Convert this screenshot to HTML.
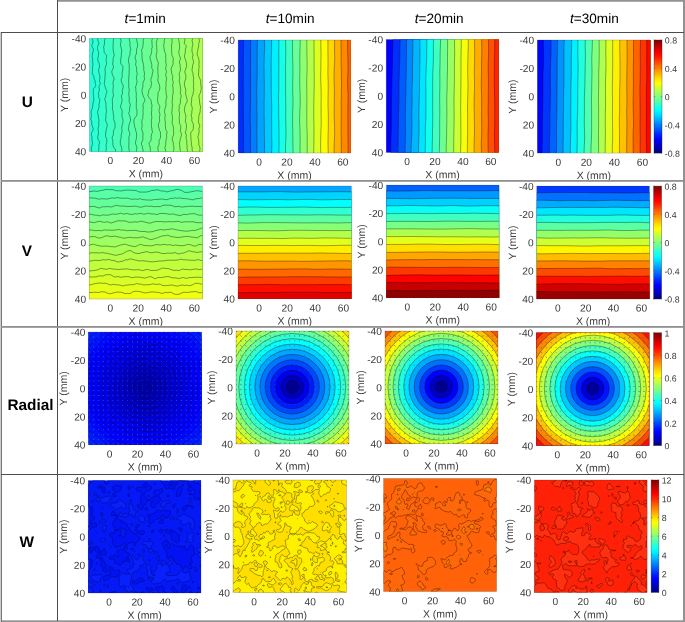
<!DOCTYPE html>
<html><head><meta charset="utf-8"><title>Displacement fields</title>
<style>html,body{margin:0;padding:0;background:#fff}body{width:685px;height:622px;overflow:hidden;font-family:"Liberation Sans",Arial,sans-serif}svg{display:block;text-rendering:geometricPrecision}</style>
</head><body>
<svg width="685" height="622" viewBox="0 0 685 622" font-family="'Liberation Sans', Arial, sans-serif">
<defs>
<clipPath id="c00"><rect x="0" y="0" width="113" height="113.1"/></clipPath>
<clipPath id="c01"><rect x="0" y="0" width="112.7" height="113"/></clipPath>
<clipPath id="c02"><rect x="0" y="0" width="112.6" height="113.1"/></clipPath>
<clipPath id="c03"><rect x="0" y="0" width="113.1" height="113.1"/></clipPath>
<clipPath id="c10"><rect x="0" y="0" width="113.1" height="113"/></clipPath>
<clipPath id="c11"><rect x="0" y="0" width="113.4" height="112.8"/></clipPath>
<clipPath id="c12"><rect x="0" y="0" width="112.7" height="112.7"/></clipPath>
<clipPath id="c13"><rect x="0" y="0" width="112.6" height="112.9"/></clipPath>
<clipPath id="c20"><rect x="0" y="0" width="112.8" height="112.8"/></clipPath>
<clipPath id="c21"><rect x="0" y="0" width="113" height="113"/></clipPath>
<clipPath id="c22"><rect x="0" y="0" width="113" height="112.8"/></clipPath>
<clipPath id="c23"><rect x="0" y="0" width="112.8" height="112.8"/></clipPath>
<clipPath id="c30"><rect x="0" y="0" width="112.8" height="112.6"/></clipPath>
<clipPath id="c31"><rect x="0" y="0" width="113.4" height="112.6"/></clipPath>
<clipPath id="c32"><rect x="0" y="0" width="113" height="113"/></clipPath>
<clipPath id="c33"><rect x="0" y="0" width="112.7" height="112.4"/></clipPath>
<linearGradient id="jet" x1="0" y1="1" x2="0" y2="0">
<stop offset="0" stop-color="#000080"/>
<stop offset="0.03" stop-color="#00009f"/>
<stop offset="0.06" stop-color="#0000bf"/>
<stop offset="0.09" stop-color="#0000df"/>
<stop offset="0.12" stop-color="#0000ff"/>
<stop offset="0.16" stop-color="#0020ff"/>
<stop offset="0.19" stop-color="#0040ff"/>
<stop offset="0.22" stop-color="#0060ff"/>
<stop offset="0.25" stop-color="#0080ff"/>
<stop offset="0.28" stop-color="#009fff"/>
<stop offset="0.31" stop-color="#00bfff"/>
<stop offset="0.34" stop-color="#00dfff"/>
<stop offset="0.38" stop-color="#00ffff"/>
<stop offset="0.41" stop-color="#20ffdf"/>
<stop offset="0.44" stop-color="#40ffbf"/>
<stop offset="0.47" stop-color="#60ff9f"/>
<stop offset="0.5" stop-color="#80ff80"/>
<stop offset="0.53" stop-color="#9fff60"/>
<stop offset="0.56" stop-color="#bfff40"/>
<stop offset="0.59" stop-color="#dfff20"/>
<stop offset="0.62" stop-color="#ffff00"/>
<stop offset="0.66" stop-color="#ffdf00"/>
<stop offset="0.69" stop-color="#ffbf00"/>
<stop offset="0.72" stop-color="#ff9f00"/>
<stop offset="0.75" stop-color="#ff8000"/>
<stop offset="0.78" stop-color="#ff6000"/>
<stop offset="0.81" stop-color="#ff4000"/>
<stop offset="0.84" stop-color="#ff2000"/>
<stop offset="0.88" stop-color="#ff0000"/>
<stop offset="0.91" stop-color="#df0000"/>
<stop offset="0.94" stop-color="#bf0000"/>
<stop offset="0.97" stop-color="#9f0000"/>
<stop offset="1" stop-color="#800000"/>
</linearGradient>
</defs>
<g transform="translate(89.4,38.4)" clip-path="url(#c00)" stroke="#000" stroke-width="0.52" stroke-opacity="0.78">
<rect x="-2" y="-2" width="117" height="117.1" fill="#24ffdb" stroke="none"/>
<path d="M1.3-3.4l.8 1.7 .5 1.8 .8 1.7 .2 1.8-.5 1.7-.8 1.7 .7 1.8 .9 1.7 .1 1.7-.6 1.8-.2 1.7-.4 1.8 .1 1.7 .5 1.7-.3 1.8 .3 1.7 .3 1.7-.5 1.8-.1 1.7 .1 1.8-.2 1.7-.2 1.7 .9 1.8 .9 1.7-.1 1.7 1 1.8 .3 1.7 .1 1.8 .6 1.7-.9 1.7-1.5 1.8-.2 1.7 .1 1.7 0 1.8 .2 1.7 0 1.8 .2 1.7 0 1.7-.8 1.8-.1 1.7-.2 1.7-.2 1.8-.9 1.7-.4 1.8-.1 1.7 .3 1.7 0 1.8-.7 1.7 .5 1.7 .8 1.8-.4 1.7 .5 1.8 .7 1.7 .5 1.7-.5 1.8-.9 1.7-.6 1.7 .2 1.8 .6 1.7-.2 1.8 .2 1.7 .5 1.7-.2 1.8-.6 1.7-.5 1.7 .1 1.8 .2 1.7 .6 1.8 .1 1.7 113.1 0 0-119.9z" fill="#2cffd3"/>
<path d="M8-3.4l.6 1.7-.1 1.8-.3 1.7 1.1 1.8 .2 1.7-.9 1.7-.4 1.8 0 1.7 .2 1.7 .9 1.8-.2 1.7-.1 1.8-.4 1.7-.2 1.7 .2 1.8 1.1 1.7 .2 1.7 .3 1.8-.4 1.7-.5 1.8 0 1.7 .3 1.7 .6 1.8 .3 1.7 0 1.7-.4 1.8 .3 1.7 .7 1.8-1.1 1.7-.6 1.7 .5 1.8 .1 1.7-.9 1.7 .2 1.8 0 1.7 0 1.8 1 1.7 0 1.7-.4 1.8-.4 1.7 .2 1.7-.3 1.8-.4 1.7-.8 1.8 0 1.7 .8 1.7-.1 1.8 .4 1.7 .3 1.7-.2 1.8 0 1.7 .1 1.8-.5 1.7-.3 1.7 .1 1.8 .3 1.7-.1 1.7-.3 1.8-.4 1.7 .3 1.8 1.3 1.7 .3 1.7-.6 1.8-.1 1.7 0 1.7-.1 1.8-.2 1.7-.3 1.8 .2 1.7 106.9 0 0-119.9z" fill="#35ffca"/>
<path d="M15.8-3.4l.3 1.7-.4 1.8-.5 1.7-.2 1.8 .2 1.7-.5 1.7-.5 1.8 .4 1.7 0 1.7 .2 1.8 1.4 1.7 1.2 1.8-.3 1.7-.5 1.7 .2 1.8 .5 1.7-.3 1.7-.7 1.8-.5 1.7-.2 1.8 .2 1.7 .1 1.7-.1 1.8-.3 1.7 .1 1.7-.4 1.8 0 1.7-.4 1.8 .5 1.7 .6 1.7 .4 1.8 1.1 1.7 0 1.7-.8 1.8-.1 1.7-.5 1.8-.8 1.7 .8 1.7 .5 1.8 .1 1.7-.1 1.7 .2 1.8 .2 1.7 .2 1.8-.4 1.7-.3 1.7 .2 1.8-.3 1.7 0 1.7 .3 1.8 1.1 1.7 .1 1.8-.3 1.7-.4 1.7-.4 1.8-.3 1.7-.2 1.7 0 1.8 .4 1.7 .8 1.8 .1 1.7-.3 1.7-.4 1.8-.2 1.7 .4 1.7-.3 1.8-.3 1.7-.4 1.8-.3 1.7 100.3 0 0-119.9z" fill="#3effc1"/>
<path d="M23.8-3.4l.2 1.7 .2 1.8-.3 1.7 0 1.8-.1 1.7-.2 1.7 .1 1.8 .1 1.7 0 1.7 .4 1.8 .6 1.7-.2 1.8-.6 1.7-.4 1.7 .2 1.8-.5 1.7 .1 1.7 .6 1.8-.1 1.7-.9 1.8-.6 1.7 .2 1.7 .5 1.8 .9 1.7 .8 1.7-.5 1.8-.6 1.7-.1 1.8 .3 1.7 0 1.7-.3 1.8 .1 1.7-.2 1.7 .5 1.8 0 1.7-.5 1.8-.6 1.7 .1 1.7 0 1.8 .1 1.7 .1 1.7-.3 1.8 .2 1.7 .7 1.8 0 1.7 .3 1.7 .3 1.8-.4 1.7 .5 1.7 .8 1.8 .4 1.7-.1 1.8 .2 1.7-.7 1.7-.9 1.8-.3 1.7 .2 1.7-.6 1.8-.9 1.7 .5 1.8 .3 1.7 .1 1.7-.1 1.8 .4 1.7 .9 1.7 1.5 1.8-.1 1.7-.4 1.8-1.2 1.7 91.5 0 0-119.9z" fill="#47ffb8"/>
<path d="M32.3-3.4l-.7 1.7-.7 1.8 .6 1.7 .3 1.8-.8 1.7 .2 1.7 .4 1.8 .3 1.7 .5 1.7-.3 1.8-.2 1.7 .1 1.8-.5 1.7 0 1.7-.3 1.8 0 1.7 .8 1.7 1.5 1.8 0 1.7-.2 1.8-.3 1.7-.3 1.7 0 1.8 .2 1.7-.9 1.7-.2 1.8 .4 1.7 .5 1.8 1 1.7 .2 1.7-.6 1.8-.4 1.7 .2 1.7-.1 1.8-1.1 1.7 .5 1.8 .1 1.7 .3 1.7-.7 1.8-.4 1.7-.5 1.7 .2 1.8 1.1 1.7 .3 1.8-.2 1.7 0 1.7 0 1.8 .7 1.7 .3 1.7 0 1.8-.3 1.7-.6 1.8-.2 1.7-.1 1.7 .2 1.8 0 1.7-.7 1.7-.2 1.8 .1 1.7-.5 1.8-.4 1.7 0 1.7 .1 1.8 .8 1.7 .5 1.7 .2 1.8-.2 1.7-.5 1.8-.5 1.7 84.7 0 0-119.9z" fill="#50ffaf"/>
<path d="M39.5-3.4l.5 1.7 0 1.8-.1 1.7 .8 1.8-.2 1.7 0 1.7 .4 1.8 .5 1.7-.5 1.7-.3 1.8 .1 1.7-.5 1.8-.7 1.7-.3 1.7-.1 1.8 .3 1.7 .4 1.7 0 1.8 0 1.7 .2 1.8-.4 1.7 .1 1.7 0 1.8-.2 1.7-.1 1.7-.2 1.8 0 1.7 .3 1.8-.2 1.7 0 1.7 .5 1.8 0 1.7-.2 1.7-.4 1.8 .5 1.7 .2 1.8-.1 1.7-.2 1.7 .7 1.8 .6 1.7-.2 1.7-.5 1.8 0 1.7-.2 1.8-.8 1.7 .7 1.7 .7 1.8 .4 1.7 .2 1.7-.5 1.8-.7 1.7-.4 1.8-.3 1.7-.3 1.7 .4 1.8 .7 1.7 .4 1.7-.6 1.8-.4 1.7 0 1.8 .1 1.7-.1 1.7 .1 1.8-.3 1.7 .1 1.7 .3 1.8 .3 1.7-.3 1.8-.9 1.7 77.2 0 0-119.9z" fill="#58ffa7"/>
<path d="M46-3.4l.2 1.7 .7 1.8 .4 1.7 .5 1.8 .3 1.7 .3 1.7-.5 1.8-.6 1.7-.2 1.7 0 1.8-.2 1.7-.9 1.8-.3 1.7 .4 1.7 .7 1.8-.3 1.7-.3 1.7 .5 1.8 .6 1.7-.1 1.8 .1 1.7 .5 1.7-.2 1.8-.4 1.7-.3 1.7 .6 1.8 .1 1.7-.4 1.8-.4 1.7-.7 1.7 .4 1.8 0 1.7 .2 1.7 .3 1.8-.2 1.7 0 1.8 .4 1.7-.2 1.7-.1 1.8 0 1.7 0 1.7-.1 1.8 .7 1.7 .1 1.8 0 1.7-.1 1.7-1.1 1.8-1.2 1.7-.5 1.7-.3 1.8 .3 1.7 .4 1.8 .2 1.7 .8 1.7 .2 1.8 .6 1.7 .3 1.7 0 1.8-.1 1.7-.3 1.8-.4 1.7-.4 1.7 .4 1.8 .8 1.7 .2 1.7-.1 1.8-.3 1.7-.2 1.8 .3 1.7 68.9 0 0-119.9z" fill="#61ff9e"/>
<path d="M54.4-3.4l.4 1.7-.4 1.8-.6 1.7 .1 1.8-.1 1.7-.3 1.7-.1 1.8-.8 1.7-.6 1.7 .6 1.8 0 1.7 0 1.8 .1 1.7 .2 1.7 .2 1.8 .6 1.7 .3 1.7 .3 1.8 .1 1.7-.1 1.8 .5 1.7 .3 1.7-.1 1.8-.3 1.7 .6 1.7-.5 1.8-1 1.7-.4 1.8 .2 1.7-.2 1.7-.6 1.8-.1 1.7 0 1.7 .6 1.8 .4 1.7 .8 1.8 .9 1.7 .1 1.7-1.3 1.8-.6 1.7 0 1.7 .4 1.8-.5 1.7 .1 1.8 .2 1.7-.2 1.7-.1 1.8-.2 1.7-.7 1.7-.2 1.8 .2 1.7 .2 1.8-.2 1.7-.4 1.7 .5 1.8 .8 1.7 .2 1.7-.2 1.8-.1 1.7 .2 1.8-.7 1.7-.8 1.7 0 1.8 .8 1.7 .2 1.7 .5 1.8 .2 1.7 .5 1.8-.2 1.7 61.9 0 0-119.9z" fill="#6aff95"/>
<path d="M62.8-3.4l.7 1.7-.3 1.8-.8 1.7 .2 1.8 0 1.7 .2 1.7 .1 1.8-.7 1.7 .2 1.7-.4 1.8-.2 1.7-.8 1.8-.5 1.7 .4 1.7 .6 1.8 .4 1.7 .5 1.7 0 1.8-.1 1.7 1.1 1.8 .2 1.7-.5 1.7-.4 1.8-.2 1.7-.8 1.7-.3 1.8 .5 1.7 .3 1.8-.6 1.7 0 1.7-1.3 1.8-1 1.7 0 1.7-.6 1.8-.2 1.7 1.1 1.8 1.5 1.7 .8 1.7 0 1.8 .5 1.7 .2 1.7-.4 1.8 .2 1.7-.2 1.8-.2 1.7 .1 1.7 .3 1.8 0 1.7-.4 1.7-.1 1.8 .3 1.7-.2 1.8 .2 1.7 .3 1.7 .3 1.8 .3 1.7-.9 1.7-.3 1.8-.3 1.7 .3 1.8-.6 1.7-1.6 1.7 0 1.8 .8 1.7 .4 1.7 0 1.8 .1 1.7 .5 1.8 .5 1.7 54 0 0-119.9z" fill="#73ff8c"/>
<path d="M69.8-3.4l-.5 1.7-.9 1.8-.9 1.7-.3 1.8-.4 1.7 .5 1.7 0 1.8 0 1.7 .2 1.7 0 1.8-.6 1.7-.1 1.8 .4 1.7 .3 1.7 .8 1.8 .8 1.7-.4 1.7-.1 1.8-.3 1.7 .2 1.8 0 1.7 0 1.7 .2 1.8 .2 1.7-.3 1.7-.1 1.8 .3 1.7 .8 1.8 .5 1.7 .3 1.7-.1 1.8-.3 1.7-1.3 1.7-.2 1.8 .2 1.7-.4 1.8-.1 1.7 .2 1.7 .1 1.8 .9 1.7 1.1 1.7-.2 1.8-.7 1.7 .1 1.8 .5 1.7 .4 1.7-.5 1.8-.1 1.7 .3 1.7-.3 1.8-.7 1.7-.3 1.8 .2 1.7 .6 1.7 .4 1.8 .9 1.7-.1 1.7 .1 1.8 0 1.7-.7 1.8-.9 1.7 .3 1.7-.1 1.8-.9 1.7-.3 1.7 .1 1.8 .4 1.7 1 1.8-.4 1.7 46.4 0 0-119.9z" fill="#7bff84"/>
<path d="M76.3-3.4l-.4 1.7-.3 1.8-.8 1.7 .1 1.8-.3 1.7-.3 1.7 .2 1.8 .2 1.7 .4 1.7 .4 1.8 .9 1.7 0 1.8-.2 1.7 .3 1.7-.3 1.8 .3 1.7 .4 1.7-.2 1.8-.5 1.7 .3 1.8 .7 1.7-.5 1.7-.4 1.8 .4 1.7 .6 1.7-.3 1.8-.4 1.7 0 1.8 .1 1.7-.3 1.7-.1 1.8 .3 1.7 0 1.7 .2 1.8 .4 1.7 .3 1.8-.8 1.7-.2 1.7 0 1.8 .1 1.7-.1 1.7-.7 1.8-.5 1.7-.3 1.8 .4 1.7 .5 1.7-.2 1.8-.3 1.7 .2 1.7 .3 1.8 .1 1.7-.1 1.8 .2 1.7 0 1.7 .8 1.8 .9 1.7-.7 1.7 .1 1.8 .1 1.7-.5 1.8-.4 1.7 0 1.7-.1 1.8-.4 1.7-.4 1.7 .5 1.8 .5 1.7 .5 1.8 .5 1.7 38.5 0 0-119.9z" fill="#84ff7b"/>
<path d="M81.7-3.4l.4 1.7 .3 1.8 .2 1.7 .1 1.8-.2 1.7-.5 1.7 .2 1.8 .1 1.7-.2 1.7 .3 1.8-.1 1.7 .4 1.8 1.1 1.7 .1 1.7-.2 1.8 0 1.7-.1 1.7-.8 1.8-1 1.7 .1 1.8 .2 1.7 .1 1.7 .7 1.8 .6 1.7-.4 1.7 .1 1.8 .8 1.7-.5 1.8-.4 1.7 .5 1.7 .2 1.8-.1 1.7 .2 1.7-.4 1.8-.4 1.7 .1 1.8-.1 1.7-.4 1.7 .1 1.8 .2 1.7 .4 1.7-.7 1.8 .1 1.7-.3 1.8-.1 1.7 .3 1.7 .3 1.8 .2 1.7-.3 1.7-.2 1.8 .2 1.7 .7 1.8 .4 1.7 .2 1.7-.1 1.8 .2 1.7 .1 1.7-.6 1.8-.8 1.7-.1 1.8 .3 1.7 .8 1.7-.1 1.8 .5 1.7 .1 1.7 0 1.8-.5 1.7-.9 1.8-.5 1.7 33.4 0 0-119.9z" fill="#8dff72"/>
<path d="M89.3-3.4l.1 1.7-.2 1.8 .1 1.7 .5 1.8 .2 1.7 .1 1.7 .1 1.8-.1 1.7-.5 1.7-.2 1.8 .2 1.7 .7 1.8 .6 1.7 .1 1.7-.9 1.8 0 1.7 .6 1.7 0 1.8 .2 1.7 .3 1.8-.6 1.7-.7 1.7-.1 1.8 .5 1.7 0 1.7-.4 1.8 0 1.7 .6 1.8 .3 1.7 .1 1.7 .4 1.8 0 1.7-.5 1.7 .5 1.8 .5 1.7-.3 1.8-.5 1.7 0 1.7 0 1.8-.5 1.7-.9 1.7 .4 1.8-.5 1.7 .3 1.8 .3 1.7 0 1.7-.2 1.8-.2 1.7 .4 1.7-.2 1.8 .1 1.7 1.3 1.8 .1 1.7-.1 1.7-.4 1.8 .6 1.7 .5 1.7-.1 1.8-.6 1.7-.5 1.8-.2 1.7-.5 1.7 0 1.8 .4 1.7 0 1.7 .2 1.8 .4 1.7 .5 1.8-.2 1.7 24.6 0 0-119.9z" fill="#96ff69"/>
<path d="M96.4-3.4l-.3 1.7-.8 1.8 .2 1.7-.5 1.8 0 1.7 1.7 1.7 .1 1.8-.8 1.7 0 1.7-.1 1.8-.4 1.7-.5 1.8 .3 1.7 .7 1.7 .5 1.8 .5 1.7 .1 1.7 .2 1.8-.7 1.7-.5 1.8-.7 1.7 .3 1.7 .8 1.8-.1 1.7 0 1.7-.5 1.8-.7 1.7-.2 1.8 .1 1.7 .4 1.7 .7 1.8 .2 1.7-.2 1.7 0 1.8 .6 1.7 .3 1.8 .6 1.7 .2 1.7-.8 1.8-.9 1.7-.6 1.7-.4 1.8-.2 1.7 .2 1.8 .5 1.7 .5 1.7 .3 1.8-.2 1.7-.3 1.7 0 1.8 .8 1.7 .2 1.8 .1 1.7-.3 1.7-.3 1.8-.5 1.7 .5 1.7 .6 1.8-.6 1.7 .6 1.8 .4 1.7-.2 1.7 .2 1.8 .2 1.7-.1 1.7 .3 1.8 .1 1.7 .1 1.8-.1 1.7 18 0 0-119.9z" fill="#9eff61"/>
<path d="M103.9-3.4l.1 1.7-.6 1.8-.7 1.7 .2 1.8 .5 1.7-.1 1.7-.5 1.8-.2 1.7 0 1.7 .2 1.8 .9 1.7-.4 1.8-.3 1.7 .5 1.7 .7 1.8-.1 1.7-.6 1.7-.4 1.8-.1 1.7-.4 1.8 .3 1.7 .8 1.7-.1 1.8 .4 1.7 .3 1.7-.2 1.8-.1 1.7 .4 1.8-.3 1.7-.2 1.7 .4 1.8 0 1.7-.5 1.7-.1 1.8-.6 1.7-.8 1.8 0 1.7-.1 1.7-.3 1.8-.1 1.7 .6 1.7 .5 1.8-.1 1.7-.4 1.8 0 1.7-.6 1.7 .3 1.8 .5 1.7-.3 1.7 .5 1.8 1 1.7 .2 1.8 0 1.7-.1 1.7-.8 1.8-1.6 1.7-.2 1.7 .1 1.8 .1 1.7 .1 1.8 .1 1.7 .3 1.7-.1 1.8 .5 1.7 .4 1.7-.1 1.8 .7 1.7 .6 1.8-.3 1.7 12.3 0 0-119.9z" fill="#a7ff58"/>
<path d="M109.6-3.4l-.2 1.7 .1 1.8 .4 1.7 .1 1.8-.8 1.7 .2 1.7-.4 1.8-.5 1.7 0 1.7-.6 1.8-.2 1.7 .6 1.8 .7 1.7 .4 1.7 .3 1.8 .1 1.7-.4 1.7 .5 1.8-.5 1.7 0 1.8 0 1.7-.2 1.7-.1 1.8 .5 1.7 .7 1.7 .8 1.8 .3 1.7-.1 1.8 .2 1.7 .3 1.7 .2 1.8-.7 1.7 0 1.7-1 1.8-.8 1.7 .2 1.8 .3 1.7 0 1.7 .3 1.8 .2 1.7 .5 1.7 .1 1.8-.4 1.7 .1 1.8-.5 1.7-.5 1.7-.5 1.8 0 1.7 0 1.7-.4 1.8 .8 1.7 .6 1.8-.1 1.7-.8 1.7 .3 1.8 0 1.7-.5 1.7-.3 1.8-.4 1.7 .7 1.8 .1 1.7 .2 1.7-.2 1.8 .8 1.7 .4 1.7 .1 1.8-.6 1.7 .1 1.8 .7 1.7 5.2 0 0-119.9z" fill="#b0ff4f"/>
</g>
<g transform="translate(238.1,40)" clip-path="url(#c01)" stroke="#000" stroke-width="0.5" stroke-opacity="0.7">
<rect x="-2" y="-2" width="116.7" height="117" fill="#002eff" stroke="none"/>
<path d="M5.5-3.4l.1 4.1-.1 4.2-.1 4.1-.1 4.1 0 4.2-.1 4.1 0 4.1 0 4.2 0 4.1 0 4.1-.1 4.1 0 4.2 0 4.1 .1 4.1 0 4.2 0 4.1 0 4.1 0 4.2 .1 4.1 0 4.1 0 4.1 .1 4.2 0 4.1 .1 4.1 0 4.2 0 4.1 .1 4.1-.1 4.2 0 4.1 110.2 0 0-119.8z" fill="#0055ff"/>
<path d="M12.4-3.4l.1 4.1 0 4.2 0 4.1 0 4.1 0 4.2-.1 4.1 0 4.1 0 4.2 0 4.1 0 4.1 0 4.1 0 4.2 0 4.1 0 4.1 0 4.2 0 4.1-.1 4.1-.1 4.2-.1 4.1 0 4.1 .1 4.1 .2 4.2 0 4.1 0 4.1-.1 4.2 0 4.1 .1 4.1 0 4.2 0 4.1 103.3 0 0-119.8z" fill="#007cff"/>
<path d="M19.3-3.4l0 4.1-.1 4.2-.1 4.1 0 4.1 0 4.2 0 4.1 0 4.1 0 4.2 0 4.1-.1 4.1-.1 4.1-.2 4.2 0 4.1 0 4.1 .1 4.2 0 4.1-.1 4.1 .1 4.2 .1 4.1 0 4.1 0 4.1-.1 4.2 0 4.1 0 4.1 0 4.2 0 4.1 0 4.1 0 4.2 .1 4.1 96.8 0 0-119.8z" fill="#00a3ff"/>
<path d="M26.2-3.4l.1 4.1 .2 4.2 0 4.1-.2 4.1-.2 4.2-.1 4.1-.1 4.1 .1 4.2 0 4.1 .1 4.1 .1 4.1 0 4.2 0 4.1 0 4.1-.1 4.2-.1 4.1 0 4.1 0 4.2 0 4.1 .1 4.1 .1 4.1 0 4.2 .1 4.1 0 4.1 .1 4.2 0 4.1 0 4.1-.1 4.2-.1 4.1 89.5 0 0-119.8z" fill="#00c9ff"/>
<path d="M33.4-3.4l.1 4.1 0 4.2 0 4.1-.1 4.1-.2 4.2-.1 4.1 0 4.1 0 4.2 0 4.1 .1 4.1 0 4.1 0 4.2 0 4.1 .1 4.1 .1 4.2 .1 4.1 .1 4.1 0 4.2-.1 4.1 0 4.1 .1 4.1 0 4.2 0 4.1 0 4.1 .1 4.2 .1 4.1-.1 4.1-.1 4.2-.1 4.1 82.2 0 0-119.8z" fill="#00f0ff"/>
<path d="M40.7-3.4l.1 4.1 0 4.2-.1 4.1 0 4.1 0 4.2 .1 4.1 0 4.1-.1 4.2 0 4.1 0 4.1 0 4.1 0 4.2 0 4.1-.2 4.1 0 4.2 0 4.1 .1 4.1 0 4.2 0 4.1 .1 4.1 .1 4.1 0 4.2 .1 4.1 0 4.1 0 4.2 0 4.1 0 4.1-.1 4.2-.1 4.1 75 0 0-119.8z" fill="#18ffe7"/>
<path d="M47.3-3.4l.1 4.1 .2 4.2 .1 4.1 0 4.1-.1 4.2-.1 4.1 0 4.1-.1 4.2 .1 4.1 0 4.1 0 4.1 0 4.2 0 4.1 0 4.1 .1 4.2 0 4.1 .1 4.1 0 4.2-.1 4.1 0 4.1 .1 4.1 .1 4.2 .1 4.1 0 4.1-.2 4.2-.2 4.1-.1 4.1 0 4.2 0 4.1 68.3 0 0-119.8z" fill="#3fffc0"/>
<path d="M54.5-3.4l-.1 4.1 0 4.2 0 4.1 0 4.1 .1 4.2 .1 4.1 .2 4.1 0 4.2 0 4.1-.1 4.1-.1 4.1 0 4.2 0 4.1 .1 4.1 .2 4.2 0 4.1-.1 4.1-.2 4.2-.1 4.1 0 4.1 0 4.1 .1 4.2 .1 4.1 0 4.1 .1 4.2 0 4.1 .1 4.1 .1 4.2-.1 4.1 60.8 0 0-119.8z" fill="#66ff99"/>
<path d="M62.1-3.4l0 4.1-.1 4.2-.1 4.1-.1 4.1-.1 4.2 0 4.1 .1 4.1 0 4.2-.1 4.1-.1 4.1 0 4.1 .1 4.2 .1 4.1 .2 4.1 .1 4.2 .1 4.1-.2 4.1-.2 4.2-.2 4.1-.1 4.1 .1 4.1 .2 4.2 .1 4.1 .1 4.1 0 4.2 0 4.1 0 4.1-.1 4.2-.1 4.1 53.9 0 0-119.8z" fill="#8dff72"/>
<path d="M68.7-3.4l0 4.1 0 4.2 .1 4.1 0 4.1 .1 4.2 .1 4.1 0 4.1 0 4.2-.1 4.1-.2 4.1-.1 4.1 .1 4.2 0 4.1 .1 4.1 0 4.2 0 4.1-.1 4.1 0 4.2 0 4.1 0 4.1 0 4.1 .1 4.2 .2 4.1 .1 4.1 0 4.2 0 4.1 0 4.1 .1 4.2 0 4.1 46.5 0 0-119.8z" fill="#b4ff4b"/>
<path d="M75.9-3.4l0 4.1 0 4.2 0 4.1 .1 4.1 0 4.2 0 4.1 0 4.1 0 4.2 .1 4.1 0 4.1 0 4.1 0 4.2-.1 4.1-.1 4.1-.1 4.2-.1 4.1 0 4.1 0 4.2 0 4.1 0 4.1 .1 4.1 .1 4.2 0 4.1-.1 4.1 0 4.2 0 4.1-.1 4.1-.1 4.2-.1 4.1 40.2 0 0-119.8z" fill="#dbff24"/>
<path d="M82.7-3.4l0 4.1 .1 4.2 0 4.1 .1 4.1 0 4.2-.1 4.1 0 4.1-.1 4.2-.1 4.1 0 4.1 .1 4.1 .2 4.2 .1 4.1 .1 4.1 0 4.2-.1 4.1 0 4.1 0 4.2 0 4.1 .1 4.1 0 4.1-.1 4.2-.2 4.1-.1 4.1-.1 4.2-.1 4.1 0 4.1 .2 4.2 .2 4.1 32.8 0 0-119.8z" fill="#fffc00"/>
<path d="M89.8-3.4l0 4.1 0 4.2 0 4.1 0 4.1 .1 4.2 0 4.1 0 4.1-.1 4.2 0 4.1 .1 4.1 .2 4.1 0 4.2 0 4.1-.1 4.1-.1 4.2 0 4.1 0 4.1 .2 4.2 .1 4.1 0 4.1 0 4.1 0 4.2-.1 4.1-.1 4.1-.1 4.2 0 4.1 .1 4.1 .1 4.2 0 4.1 25.6 0 0-119.8z" fill="#ffd600"/>
<path d="M96.5-3.4l0 4.1 0 4.2-.1 4.1 .1 4.1 .1 4.2-.1 4.1-.2 4.1-.2 4.2-.1 4.1-.1 4.1 .1 4.1 .2 4.2 .1 4.1 0 4.1-.1 4.2 0 4.1-.1 4.1 0 4.2 0 4.1 .1 4.1 .1 4.1 .2 4.2 0 4.1 0 4.1-.2 4.2-.2 4.1-.1 4.1 0 4.2 .1 4.1 19.6 0 0-119.8z" fill="#ffaf00"/>
<path d="M102.8-3.4l.1 4.1 0 4.2 .1 4.1 0 4.1 0 4.2 0 4.1 .1 4.1 .1 4.2 .1 4.1 0 4.1 .1 4.1 0 4.2-.1 4.1 0 4.1-.1 4.2-.1 4.1 0 4.1 0 4.2 0 4.1 0 4.1 0 4.1-.1 4.2 0 4.1 .1 4.1 .1 4.2 0 4.1 0 4.1 0 4.2 0 4.1 12.5 0 0-119.8z" fill="#ff8800"/>
<path d="M109.6-3.4l-.1 4.1 0 4.2 0 4.1 .1 4.1 .2 4.2 .1 4.1 0 4.1 0 4.2-.1 4.1-.2 4.1-.1 4.1 .1 4.2 .2 4.1 .2 4.1 0 4.2-.1 4.1-.1 4.1 0 4.2 0 4.1 0 4.1 .1 4.1-.1 4.2 0 4.1 .1 4.1 0 4.2 0 4.1 .1 4.1 .1 4.2 0 4.1 5.6 0 0-119.8z" fill="#ff6100"/>
</g>
<g transform="translate(386.2,39.4)" clip-path="url(#c02)" stroke="#000" stroke-width="0.5" stroke-opacity="0.7">
<rect x="-2" y="-2" width="116.6" height="117.1" fill="#0000ff" stroke="none"/>
<path d="M7-3.4l-.2 4.1-.2 4.2-.1 4.1-.2 4.1 0 4.2-.1 4.1-.1 4.1-.1 4.2-.1 4.1-.1 4.1 0 4.2-.1 4.1-.1 4.1-.1 4.2-.2 4.1 0 4.2-.1 4.1 0 4.1 0 4.2-.1 4.1 0 4.1 0 4.2-.1 4.1-.2 4.1-.1 4.2-.2 4.1 0 4.1 .1 4.2 .1 4.1 110.9 0 0-119.9z" fill="#002eff"/>
<path d="M14-3.4l-.1 4.1-.1 4.2-.1 4.1-.1 4.1 0 4.2-.1 4.1-.1 4.1-.2 4.2-.1 4.1-.2 4.1-.1 4.2 0 4.1 0 4.1 0 4.2 0 4.1-.1 4.2-.1 4.1-.1 4.1-.2 4.2 0 4.1-.1 4.1-.1 4.2 0 4.1-.1 4.1 0 4.2-.1 4.1 0 4.1-.1 4.2-.1 4.1 103.9 0 0-119.9z" fill="#005bff"/>
<path d="M20.4-3.4l0 4.1-.1 4.2 0 4.1 0 4.1-.1 4.2-.1 4.1 0 4.1-.1 4.2 0 4.1-.1 4.1-.1 4.2 0 4.1-.1 4.1-.1 4.2-.1 4.1-.1 4.2-.1 4.1-.1 4.1-.1 4.2 .1 4.1 0 4.1 .1 4.2 0 4.1-.1 4.1-.1 4.2-.1 4.1-.1 4.1 0 4.2-.1 4.1 96.8 0 0-119.9z" fill="#0089ff"/>
<path d="M26.7-3.4l0 4.1 0 4.2 0 4.1-.1 4.1-.1 4.2-.1 4.1-.1 4.1 0 4.2 0 4.1 0 4.1-.1 4.2-.2 4.1-.2 4.1 0 4.2 .1 4.1 0 4.2-.1 4.1-.2 4.1 0 4.2 0 4.1 .1 4.1 0 4.2-.1 4.1-.1 4.1-.2 4.2-.2 4.1-.1 4.1-.2 4.2 0 4.1 90.8 0 0-119.9z" fill="#00b6ff"/>
<path d="M33.7-3.4l0 4.1 0 4.2 0 4.1 .1 4.1 0 4.2-.1 4.1-.1 4.1-.1 4.2 0 4.1-.1 4.1-.1 4.2 0 4.1 0 4.1-.1 4.2-.1 4.1-.2 4.2-.1 4.1-.1 4.1 0 4.2 .1 4.1 0 4.1 .1 4.2-.1 4.1-.1 4.1-.1 4.2-.1 4.1-.1 4.1 0 4.2-.1 4.1 83.3 0 0-119.9z" fill="#00e4ff"/>
<path d="M40.6-3.4l0 4.1 0 4.2 0 4.1-.1 4.1 0 4.2-.1 4.1-.2 4.1-.2 4.2-.2 4.1-.2 4.1 0 4.2 0 4.1 .1 4.1 0 4.2 0 4.1 0 4.2 0 4.1 0 4.1 0 4.2-.1 4.1-.2 4.1-.2 4.2-.1 4.1 .1 4.1 0 4.2 0 4.1-.1 4.1-.1 4.2 0 4.1 76.6 0 0-119.9z" fill="#12ffed"/>
<path d="M47.3-3.4l0 4.1-.1 4.2 0 4.1 0 4.1 0 4.2-.1 4.1-.1 4.1-.2 4.2-.2 4.1-.1 4.1 0 4.2 0 4.1 0 4.1 0 4.2 0 4.1 0 4.2 0 4.1 0 4.1 0 4.2 0 4.1 0 4.1-.1 4.2-.1 4.1 0 4.1-.1 4.2-.1 4.1-.1 4.1 0 4.2 0 4.1 69.6 0 0-119.9z" fill="#40ffbf"/>
<path d="M54.4-3.4l-.1 4.1 0 4.2-.2 4.1-.1 4.1-.1 4.2 0 4.1-.1 4.1-.1 4.2-.1 4.1 .1 4.1 0 4.2 0 4.1-.1 4.1-.1 4.2 0 4.1 0 4.2 .1 4.1 0 4.1 0 4.2-.1 4.1 0 4.1 0 4.2 0 4.1 0 4.1-.1 4.2-.1 4.1-.1 4.1-.1 4.2-.1 4.1 62.6 0 0-119.9z" fill="#6eff91"/>
<path d="M61.4-3.4l0 4.1 0 4.2 0 4.1-.1 4.1 0 4.2 0 4.1 0 4.1 0 4.2-.1 4.1-.1 4.1-.1 4.2 0 4.1-.1 4.1-.2 4.2-.1 4.1 0 4.2 0 4.1 .1 4.1 0 4.2-.1 4.1 0 4.1-.1 4.2 0 4.1-.1 4.1-.1 4.2-.2 4.1-.1 4.1 0 4.2 .1 4.1 55.5 0 0-119.9z" fill="#9bff64"/>
<path d="M68.4-3.4l-.1 4.1 0 4.2 .1 4.1 .1 4.1-.1 4.2-.1 4.1-.1 4.1 0 4.2 0 4.1 0 4.1 0 4.2-.1 4.1-.1 4.1-.1 4.2-.1 4.1 0 4.2 0 4.1 .1 4.1 0 4.2 0 4.1 0 4.1-.1 4.2-.1 4.1-.1 4.1 0 4.2-.1 4.1 0 4.1 0 4.2 .1 4.1 48 0 0-119.9z" fill="#c9ff36"/>
<path d="M75.2-3.4l-.1 4.1 0 4.2-.1 4.1-.1 4.1-.1 4.2 0 4.1 0 4.1 0 4.2 0 4.1 0 4.1-.1 4.2 0 4.1 0 4.1-.1 4.2 0 4.1-.1 4.2-.1 4.1 .1 4.1 0 4.2 .1 4.1 0 4.1 0 4.2 .1 4.1 0 4.1 0 4.2-.1 4.1-.1 4.1-.1 4.2 0 4.1 41.2 0 0-119.9z" fill="#f6ff09"/>
<path d="M82.1-3.4l0 4.1 0 4.2-.1 4.1-.2 4.1-.1 4.2-.1 4.1-.1 4.1 0 4.2 0 4.1 .1 4.1 .1 4.2 .1 4.1-.1 4.1-.1 4.2-.1 4.1-.1 4.2-.1 4.1 0 4.1 .1 4.2 0 4.1 0 4.1 0 4.2 0 4.1 0 4.1-.1 4.2-.1 4.1 0 4.1 0 4.2 0 4.1 34.4 0 0-119.9z" fill="#ffda00"/>
<path d="M88.3-3.4l0 4.1 .1 4.2 0 4.1 .1 4.1-.1 4.2 0 4.1-.1 4.1-.1 4.2-.1 4.1 .1 4.1 .1 4.2 0 4.1 0 4.1-.2 4.2-.1 4.1-.1 4.2 0 4.1 .1 4.1 .1 4.2 0 4.1 .1 4.1 .1 4.2 0 4.1-.1 4.1-.2 4.2-.1 4.1 0 4.1 0 4.2 0 4.1 27.7 0 0-119.9z" fill="#ffac00"/>
<path d="M95.5-3.4l0 4.1 0 4.2 .1 4.1 0 4.1-.1 4.2-.1 4.1-.1 4.1 0 4.2 0 4.1-.1 4.1-.1 4.2 0 4.1 .1 4.1 .1 4.2 .1 4.1 0 4.2 0 4.1 0 4.1-.1 4.2 .1 4.1 0 4.1 .1 4.2 0 4.1-.1 4.1-.2 4.2-.1 4.1 0 4.1 .2 4.2 .2 4.1 20.1 0 0-119.9z" fill="#ff7f00"/>
<path d="M102.2-3.4l0 4.1 .1 4.2 .1 4.1 0 4.1-.1 4.2-.2 4.1-.1 4.1 0 4.2 .1 4.1 .1 4.1 0 4.2 0 4.1-.1 4.1 0 4.2 0 4.1 0 4.2-.1 4.1-.1 4.1 .1 4.2 .1 4.1 .1 4.1-.1 4.2-.1 4.1-.2 4.1 0 4.2 0 4.1 .1 4.1 .1 4.2 0 4.1 13.6 0 0-119.9z" fill="#ff5100"/>
<path d="M108.5-3.4l0 4.1 0 4.2 0 4.1 0 4.1-.2 4.2-.1 4.1 0 4.1 0 4.2-.1 4.1 0 4.1 0 4.2 .1 4.1 .1 4.1 0 4.2 .1 4.1 .1 4.2 0 4.1 0 4.1 0 4.2 0 4.1 0 4.1-.1 4.2-.1 4.1-.1 4.1 .1 4.2 .1 4.1 .1 4.1 0 4.2 0 4.1 7.1 0 0-119.9z" fill="#ff2400"/>
</g>
<g transform="translate(537.3,40)" clip-path="url(#c03)" stroke="#000" stroke-width="0.5" stroke-opacity="0.7">
<rect x="-2" y="-2" width="117.1" height="117.1" fill="#0005ff" stroke="none"/>
<path d="M6-3.4l0 4.1 .1 4.2 .1 4.1 .1 4.1 0 4.2-.1 4.1-.1 4.1-.3 4.2-.1 4.1-.1 4.1 0 4.2 0 4.1 0 4.1 0 4.2-.1 4.1 0 4.2-.1 4.1-.1 4.1-.1 4.2-.1 4.1-.1 4.1 0 4.2 0 4.1 0 4.1 0 4.2-.1 4.1-.1 4.1-.1 4.2-.1 4.1 111.5 0 0-119.9z" fill="#0034ff"/>
<path d="M13.7-3.4l0 4.1 0 4.2 0 4.1 0 4.1-.2 4.2-.2 4.1-.1 4.1-.2 4.2 0 4.1 0 4.1 0 4.2 .1 4.1 0 4.1 0 4.2-.1 4.1-.1 4.2-.1 4.1-.1 4.1-.1 4.2 0 4.1 0 4.1 0 4.2-.1 4.1-.1 4.1-.1 4.2-.1 4.1-.1 4.1-.1 4.2 0 4.1 104.1 0 0-119.9z" fill="#0063ff"/>
<path d="M20.1-3.4l.1 4.1 0 4.2-.1 4.1-.1 4.1-.1 4.2-.1 4.1 0 4.1 0 4.2 0 4.1 0 4.1 0 4.2-.1 4.1 0 4.1 0 4.2 0 4.1-.1 4.2 0 4.1 0 4.1-.1 4.2-.1 4.1-.1 4.1-.1 4.2 0 4.1 .1 4.1 0 4.2 0 4.1-.1 4.1-.2 4.2-.1 4.1 97.2 0 0-119.9z" fill="#0093ff"/>
<path d="M27.1-3.4l-.1 4.1-.2 4.2-.1 4.1 0 4.1 0 4.2 0 4.1 0 4.1 0 4.2 0 4.1 0 4.1-.1 4.2 0 4.1-.2 4.1-.1 4.2-.1 4.1 0 4.2 0 4.1 0 4.1-.1 4.2 0 4.1-.1 4.1 0 4.2 0 4.1 0 4.1-.1 4.2-.1 4.1 0 4.1 0 4.2 0 4.1 90.3 0 0-119.9z" fill="#00c2ff"/>
<path d="M34.3-3.4l0 4.1 0 4.2-.1 4.1-.1 4.1-.1 4.2 0 4.1 0 4.1 0 4.2 0 4.1-.1 4.1-.2 4.2-.1 4.1 0 4.1 0 4.2 0 4.1 0 4.2-.1 4.1 0 4.1 0 4.2 0 4.1 .1 4.1 0 4.2-.1 4.1-.2 4.1-.1 4.2-.1 4.1-.1 4.1 0 4.2-.1 4.1 83.2 0 0-119.9z" fill="#00f1ff"/>
<path d="M40.7-3.4l-.1 4.1-.1 4.2 0 4.1 0 4.1 .1 4.2 .1 4.1 .1 4.1 0 4.2-.1 4.1-.1 4.1-.1 4.2 0 4.1-.1 4.1 0 4.2 0 4.1 0 4.2 0 4.1-.1 4.1-.1 4.2-.2 4.1-.1 4.1 0 4.2 0 4.1 0 4.1 .1 4.2-.1 4.1-.1 4.1-.1 4.2 0 4.1 76.4 0 0-119.9z" fill="#21ffde"/>
<path d="M48.1-3.4l-.1 4.1-.1 4.2 .1 4.1 .1 4.1 0 4.2-.1 4.1-.1 4.1-.1 4.2 0 4.1-.1 4.1 0 4.2-.2 4.1-.1 4.1-.2 4.2-.1 4.1 0 4.2 0 4.1 0 4.1 0 4.2-.1 4.1 0 4.1 .1 4.2 .1 4.1 .2 4.1-.1 4.2-.2 4.1-.2 4.1-.1 4.2 0 4.1 69.3 0 0-119.9z" fill="#50ffaf"/>
<path d="M55-3.4l.1 4.1-.1 4.2-.1 4.1-.2 4.1-.2 4.2 0 4.1 .1 4.1 .1 4.2 0 4.1-.1 4.1-.1 4.2-.1 4.1 0 4.1-.1 4.2-.1 4.1 0 4.2 .1 4.1 0 4.1 0 4.2 0 4.1 0 4.1 0 4.2 0 4.1-.1 4.1-.1 4.2-.2 4.1-.2 4.1 0 4.2 0 4.1 62.4 0 0-119.9z" fill="#80ff80"/>
<path d="M61.8-3.4l0 4.1 .1 4.2 0 4.1 0 4.1 0 4.2-.1 4.1-.1 4.1-.2 4.2-.1 4.1 0 4.1 0 4.2 0 4.1-.1 4.1-.1 4.2 0 4.1 0 4.2 .1 4.1 0 4.1 0 4.2 0 4.1 0 4.1-.1 4.2 0 4.1 0 4.1 0 4.2 .1 4.1 0 4.1 0 4.2-.1 4.1 54.9 0 0-119.9z" fill="#afff50"/>
<path d="M68.6-3.4l0 4.1 0 4.2-.1 4.1 0 4.1 .1 4.2 .1 4.1 0 4.1-.1 4.2-.1 4.1-.2 4.1-.1 4.2 0 4.1 0 4.1 0 4.2 0 4.1 .1 4.2-.1 4.1-.1 4.1-.1 4.2 0 4.1 0 4.1 0 4.2 .1 4.1 0 4.1-.1 4.2-.1 4.1 0 4.1 0 4.2 0 4.1 48.2 0 0-119.9z" fill="#deff21"/>
<path d="M75.5-3.4l-.1 4.1 0 4.2-.1 4.1 .1 4.1 0 4.2 0 4.1 0 4.1-.1 4.2 0 4.1 0 4.1-.1 4.2-.1 4.1 0 4.1 0 4.2 .1 4.1 .1 4.2-.1 4.1 0 4.1 0 4.2 0 4.1 0 4.1 .1 4.2 0 4.1 0 4.1 0 4.2-.2 4.1-.1 4.1 0 4.2-.1 4.1 41.2 0 0-119.9z" fill="#fff100"/>
<path d="M82.6-3.4l-.1 4.1-.1 4.2 0 4.1 .1 4.1 .1 4.2 .1 4.1 0 4.1 0 4.2 0 4.1 0 4.1-.1 4.2-.1 4.1-.2 4.1 0 4.2 0 4.1 0 4.2 .1 4.1-.1 4.1-.2 4.2-.1 4.1 0 4.1 .1 4.2 0 4.1 .1 4.1 0 4.2 0 4.1-.1 4.1 0 4.2-.1 4.1 34.1 0 0-119.9z" fill="#ffc200"/>
<path d="M89.6-3.4l.1 4.1 0 4.2 .1 4.1 0 4.1 0 4.2 0 4.1-.1 4.1-.1 4.2 0 4.1-.1 4.1 0 4.2 0 4.1 0 4.1 .1 4.2 0 4.1 0 4.2-.1 4.1-.1 4.1 0 4.2 .1 4.1 .1 4.1 0 4.2-.1 4.1 0 4.1-.1 4.2 0 4.1 0 4.1 0 4.2 0 4.1 26.7 0 0-119.9z" fill="#ff9300"/>
<path d="M96.3-3.4l0 4.1-.1 4.2 0 4.1 0 4.1 0 4.2 0 4.1-.1 4.1-.1 4.2 .1 4.1 0 4.1 0 4.2 0 4.1-.1 4.1 0 4.2-.1 4.1 0 4.2 0 4.1 .1 4.1 .1 4.2 .1 4.1 0 4.1-.1 4.2-.2 4.1-.1 4.1 0 4.2 .1 4.1 0 4.1 0 4.2 0 4.1 20.2 0 0-119.9z" fill="#ff6300"/>
<path d="M103.2-3.4l-.1 4.1 0 4.2-.1 4.1-.1 4.1 0 4.2 .1 4.1 0 4.1 0 4.2-.1 4.1 0 4.1-.1 4.2-.2 4.1 0 4.1 0 4.2 .1 4.1 0 4.2 .1 4.1 0 4.1 0 4.2 0 4.1-.1 4.1 0 4.2 .1 4.1 .1 4.1 0 4.2-.1 4.1 0 4.1 .1 4.2 .1 4.1 13.1 0 0-119.9z" fill="#ff3400"/>
<path d="M109.2-3.4l.2 4.1 .1 4.2 0 4.1 0 4.1-.1 4.2 0 4.1 0 4.1 .1 4.2 0 4.1 0 4.1-.1 4.2-.2 4.1-.1 4.1 0 4.2 0 4.1 0 4.2 .1 4.1 0 4.1-.1 4.2 0 4.1 0 4.1-.1 4.2 0 4.1 0 4.1 .1 4.2 .1 4.1 .1 4.1 0 4.2 0 4.1 6.8 0 0-119.9z" fill="#ff0500"/>
</g>
<g transform="translate(89.2,186)" clip-path="url(#c10)" stroke="#000" stroke-width="0.52" stroke-opacity="0.78">
<rect x="-2" y="-2" width="117.1" height="117" fill="#4dffb2" stroke="none"/>
<path d="M-3.4 4.9l1.7 .4 1.8 .1 1.7 .1 1.8-.3 1.7-.2 1.7 .3 1.8 0 1.7-.6 1.7-.3 1.8-.2 1.7-.5 1.8-.4 1.7 .2 1.7 .2 1.8-.1 1.7 .2 1.7 .8 1.8 .3 1.7-.2 1.8 .2 1.7 0 1.7-.6 1.8-.1 1.7-.1 1.7 0 1.8 .2 1.7 0 1.8 .1 1.7 .1 1.7 1.1 1.8 .4 1.7 .1 1.7 0 1.8 0 1.7-.1 1.8-.4 1.7-.5 1.7-.6 1.8-.1 1.7-.3 1.7-.3 1.8 .3 1.7 .7 1.8 .3 1.7-.2 1.7 .8 1.8 .1 1.7-.5 1.7-.5 1.8-.2 1.7-.4 1.8-.7 1.7-.1 1.7 .5 1.8 .4 1.7 1.2 1.7 .9 1.8 0 1.7-.1 1.8-.3 1.7-.3 1.7-.4 1.8-.4 1.7-.1 1.7 .1 1.8 .3 1.7 .2 1.8-.4 1.7-.4 0 111.4-119.9 0z" fill="#58ffa7"/>
<path d="M-3.4 13l1.7-1 1.8-.1 1.7 .1 1.8 0 1.7 .1 1.7 .3 1.8 .7 1.7 0 1.7-.3 1.8 0 1.7 .1 1.8 .2 1.7-.3 1.7-.5 1.8-.3 1.7 0 1.7 .1 1.8-.6 1.7 .4 1.8 .3 1.7-.1 1.7 .2 1.8-.1 1.7-.1 1.7 .5 1.8 .6 1.7 .1 1.8-.3 1.7 .1 1.7 .3 1.8-.7 1.7 .4 1.7 .6 1.8 .1 1.7 .2 1.8 0 1.7 .1 1.7 0 1.8-.5 1.7-.1 1.7-.1 1.8-.1 1.7-.1 1.8-.3 1.7 .5 1.7 .3 1.8-.2 1.7-.6 1.7-.6 1.8 .2 1.7-.6 1.8 .1 1.7 .3 1.7-.4 1.8 .4 1.7 .2 1.7 .1 1.8 .1 1.7 .4 1.8 .1 1.7 .5 1.7 0 1.8-.8 1.7-.2 1.7-.1 1.8-.5 1.7-.1 1.8 .3 1.7 .1 0 103.6-119.9 0z" fill="#64ff9b"/>
<path d="M-3.4 20.1l1.7 0 1.8 .5 1.7 0 1.8-.3 1.7 .2 1.7 .6 1.8 .5 1.7 .4 1.7-.8 1.8-.5 1.7 .1 1.8-.1 1.7-.1 1.7 .3 1.8 .1 1.7-.8 1.7-.6 1.8-.3 1.7 .5 1.8 .4 1.7-.2 1.7 .2 1.8 0 1.7 .4 1.7-.1 1.8-.2 1.7 .1 1.8-.2 1.7 0 1.7 .5 1.8 .4 1.7 .1 1.7-.5 1.8-.5 1.7-.2 1.8 .3 1.7 0 1.7-.1 1.8 .5 1.7 0 1.7-.3 1.8 .3 1.7-.2 1.8-.8 1.7-.6 1.7 .1 1.8 0 1.7 .1 1.7-.1 1.8 .7 1.7 .8 1.8-.1 1.7-.1 1.7-.1 1.8 .7 1.7-.1 1.7-.3 1.8-.1 1.7-.3 1.8 0 1.7 0 1.7-.1 1.8 .4 1.7-.2 1.7 0 1.8 .3 1.7-.3 1.8-.3 1.7-.5 0 96.4-119.9 0z" fill="#6fff90"/>
<path d="M-3.4 28.4l1.7-.3 1.8 .2 1.7 0 1.8 .4 1.7 .4 1.7 0 1.8 .3 1.7 .5 1.7-.6 1.8-.4 1.7 .2 1.8 .1 1.7-.1 1.7-.3 1.8-.8 1.7 .2 1.7 .1 1.8-.2 1.7-.3 1.8-.7 1.7 .6 1.7 .5 1.8-.7 1.7 .1 1.7 .5 1.8 .3 1.7 0 1.8-.7 1.7 .2 1.7 .1 1.8-.6 1.7 .1 1.7 .6 1.8 0 1.7-.4 1.8-.6 1.7 .6 1.7 .4 1.8-.2 1.7 .3 1.7 .5 1.8-.8 1.7-.5 1.8 .2 1.7-.1 1.7 .1 1.8 .3 1.7 .4 1.7-.1 1.8-.3 1.7 .5 1.8 .5 1.7 .2 1.7 .5 1.8-.3 1.7-.9 1.7 0 1.8 .2 1.7-.3 1.8-.5 1.7 .1 1.7-.3 1.8 .2 1.7 .8 1.7 .5 1.8 .1 1.7-.1 1.8-.1 1.7-.1 0 87.1-119.9 0z" fill="#7bff84"/>
<path d="M-3.4 35.8l1.7-.3 1.8 .2 1.7 .5 1.8 .3 1.7 .1 1.7-.5 1.8-.6 1.7-.2 1.7 .4 1.8 .5 1.7 .1 1.8-.4 1.7 0 1.7 1.1 1.8-.2 1.7-.7 1.7-.5 1.8-.6 1.7-.3 1.8 .1 1.7 .1 1.7 0 1.8 .2 1.7 .7 1.7 .5 1.8 0 1.7-.1 1.8-.4 1.7 .3 1.7-.1 1.8-.6 1.7-.2 1.7 .5 1.8 .3 1.7 .6 1.8 .3 1.7 .3 1.7-.5 1.8-.8 1.7-.2 1.7-.2 1.8 .1 1.7-.1 1.8 .1 1.7 .3 1.7 0 1.8-.2 1.7 0 1.7 0 1.8 .1 1.7-.1 1.8-.3 1.7-.1 1.7 .4 1.8 .7 1.7-.4 1.7-.2 1.8-.1 1.7 .2 1.8 0 1.7-.2 1.7 .1 1.8 .7 1.7 0 1.7 .3 1.8-.1 1.7-.1 1.8-.2 1.7-.5 0 80.1-119.9 0z" fill="#87ff78"/>
<path d="M-3.4 43.1l1.7 .5 1.8 .5 1.7-.1 1.8 .1 1.7 .5 1.7 0 1.8-.1 1.7 0 1.7 .4 1.8-.7 1.7-.4 1.8 .4 1.7-.1 1.7 0 1.8 .2 1.7-.1 1.7-.1 1.8-.4 1.7-.2 1.8 .5 1.7 .1 1.7-.1 1.8 .4 1.7 .4 1.7-.3 1.8-.1 1.7 .1 1.8-.1 1.7 0 1.7 .6 1.8 .3 1.7 .1 1.7 .1 1.8 0 1.7 .4 1.8 .2 1.7-.3 1.7 0 1.8-.4 1.7-.7 1.7-.3 1.8-.5 1.7-.4 1.8 .4 1.7 0 1.7-.2 1.8-.2 1.7-.1 1.7-.4 1.8-.2 1.7 .6 1.8 .5 1.7 .1 1.7 .4 1.8 .3 1.7 .1 1.7 .3 1.8 .1 1.7-.1 1.8-.4 1.7-.2 1.7 0 1.8-.1 1.7-.6 1.7-.5 1.8-.7 1.7-.7 1.8-.3 1.7 .1 0 74.3-119.9 0z" fill="#92ff6d"/>
<path d="M-3.4 51.7l1.7-.3 1.8-.4 1.7-.3 1.8 0 1.7-.2 1.7 .7 1.8 .8 1.7 0 1.7-.2 1.8-.8 1.7-.8 1.8-.3 1.7 .1 1.7 .5 1.8 .2 1.7-.5 1.7 .1 1.8 .4 1.7 .4 1.8 .2 1.7 .6 1.7 .3 1.8-.2 1.7-.5 1.7-.1 1.8-.1 1.7 .6 1.8-.2 1.7 .1 1.7 0 1.8-.3 1.7-.5 1.7-.1 1.8 .9 1.7 .3 1.8 .7 1.7 .8 1.7-.2 1.8-.4 1.7-.6 1.7-.4 1.8-.8 1.7-.7 1.8-.6 1.7-.1 1.7-.1 1.8-.5 1.7 .6 1.7 .7 1.8 .3 1.7 .1 1.8 .6 1.7-.1 1.7 0 1.8-.2 1.7-.4 1.7-.1 1.8-.3 1.7 .1 1.8 .3 1.7 .3 1.7 .2 1.8 .3 1.7 .3 1.7-.9 1.8-1.2 1.7-.4 1.8 0 1.7 .4 0 66.2-119.9 0z" fill="#9eff61"/>
<path d="M-3.4 60.7l1.7-.5 1.8-.8 1.7-.7 1.8-.5 1.7 .3 1.7 .6 1.8 .4 1.7 .4 1.7 .3 1.8 0 1.7-.1 1.8 .1 1.7 0 1.7 .3 1.8 .3 1.7-.1 1.7 .3 1.8-.9 1.7-.4 1.8-.7 1.7-.3 1.7-.5 1.8 0 1.7 .9 1.7 .4 1.8 .4 1.7 .4 1.8 .3 1.7-.3 1.7-.9 1.8-.8 1.7 0 1.7 .5 1.8 .6 1.7-.1 1.8 0 1.7 .4 1.7-.3 1.8-.3 1.7-.5 1.7-.5 1.8 .5 1.7 .1 1.8-.4 1.7-.3 1.7 .4 1.8 .3 1.7-.3 1.7 .2 1.8 .7 1.7-.4 1.8-.2 1.7 .5 1.7 .1 1.8 .1 1.7-.1 1.7-.2 1.8-.6 1.7-.4 1.8 .2 1.7 .7 1.7 .6 1.8 .2 1.7-.5 1.7-1.2 1.8 .1 1.7 .3 1.8-.1 1.7-.3 0 57.6-119.9 0z" fill="#aaff55"/>
<path d="M-3.4 68l1.7-.2 1.8-.2 1.7-.9 1.8 .1 1.7 0 1.7 0 1.8 .1 1.7 .2 1.7-.5 1.8 .1 1.7 .5 1.8-.1 1.7 .7 1.7 .2 1.8 .4 1.7 .5 1.7 .4 1.8-.2 1.7-.4 1.8-.4 1.7-.4 1.7-.9 1.8-1 1.7-.9 1.7-.5 1.8 .1 1.7 1.3 1.8 1 1.7 .2 1.7 .3 1.8-.1 1.7-.7 1.7-.2 1.8-.4 1.7-.5 1.8 .5 1.7 .5 1.7 .2 1.8-.4 1.7-.3 1.7 0 1.8 .4 1.7 .5 1.8 .5 1.7 .1 1.7-.2 1.8-.2 1.7-.1 1.7 .1 1.8 0 1.7-.7 1.8 .6 1.7 .7 1.7 .1 1.8-.7 1.7-.1 1.7-.4 1.8-1 1.7-.8 1.8 .2 1.7 .3 1.7 .5 1.8 .1 1.7 .6 1.7-.4 1.8-.4 1.7 .2 1.8 .4 1.7 .9 0 48.7-119.9 0z" fill="#b5ff4a"/>
<path d="M-3.4 74.9l1.7 .5 1.8-.1 1.7-.3 1.8-.4 1.7-.3 1.7 0 1.8 .2 1.7 0 1.7-.4 1.8-.4 1.7 .2 1.8 0 1.7-.6 1.7 .5 1.8 .6 1.7 .1 1.7 .4 1.8 1 1.7 .1 1.8-.5 1.7-.2 1.7-.7 1.8-.9 1.7 .2 1.7-.8 1.8-.1 1.7 .3 1.8 .6 1.7 .2 1.7 .6 1.8 .3 1.7-.2 1.7-.1 1.8 .4 1.7-.1 1.8 .6 1.7 .1 1.7 .1 1.8 0 1.7-.2 1.7-.2 1.8-.3 1.7-.1 1.8 0 1.7-.2 1.7-.4 1.8-.1 1.7-.1 1.7 0 1.8 .1 1.7-.1 1.8-.1 1.7-.1 1.7-.5 1.8-.3 1.7 .6 1.7 0 1.8 .1 1.7 .1 1.8 .3 1.7-.1 1.7 .2 1.8-.2 1.7-.4 1.7-.1 1.8 .6 1.7 .3 1.8 .4 1.7 .4 0 40.6-119.9 0z" fill="#c1ff3e"/>
<path d="M-3.4 83.4l1.7 .4 1.8 1.2 1.7-.1 1.8-.3 1.7-.1 1.7-.4 1.8-.2 1.7-1.1 1.7-.3 1.8 .3 1.7 .3 1.8 .2 1.7-.7 1.7-.1 1.8 .4 1.7 .2 1.7 .1 1.8 .2 1.7 .3 1.8-.5 1.7-.1 1.7 .1 1.8-.3 1.7 0 1.7 .4 1.8 .3 1.7 .2 1.8 .1 1.7-.2 1.7 .1 1.8-.1 1.7 .8 1.7 0 1.8-.5 1.7-.5 1.8 .1 1.7 .7 1.7 .2 1.8 0 1.7-.2 1.7 0 1.8-.7 1.7-.6 1.8-.9 1.7 .1 1.7 .3 1.8 0 1.7 .3 1.7 .8 1.8 .5 1.7 .4 1.8-.4 1.7 .6 1.7-.3 1.8-1 1.7-.3 1.7 .5 1.8-.2 1.7 .2 1.8 .3 1.7-.3 1.7-.3 1.8-.4 1.7 .3 1.7 .4 1.8-.2 1.7-.3 1.8 .8 1.7 .2 0 31.9-119.9 0z" fill="#cdff32"/>
<path d="M-3.4 89.7l1.7 .1 1.8 .8 1.7 .5 1.8-.1 1.7-.1 1.7 0 1.8-.7 1.7-.3 1.7 .1 1.8 0 1.7-.8 1.8-.6 1.7 .2 1.7-.2 1.8 .8 1.7 1.3 1.7 .3 1.8-.4 1.7 .1 1.8 .6 1.7-.2 1.7-.4 1.8 0 1.7-.1 1.7 .1 1.8 .9 1.7 0 1.8-.4 1.7-.2 1.7 .2 1.8-.1 1.7 .4 1.7 .3 1.8 .3 1.7-.4 1.8-.6 1.7-.5 1.7 .4 1.8 1.1 1.7 .7 1.7-.9 1.8-.5 1.7 .2 1.8-.2 1.7-.4 1.7-.2 1.8-.3 1.7 .2 1.7 .7 1.8 .5 1.7-.1 1.8 .2 1.7 .4 1.7 0 1.8-.5 1.7-.4 1.7 .5 1.8 .3 1.7-.4 1.8-.4 1.7 .1 1.7-.2 1.8-.1 1.7-.1 1.7 0 1.8 .2 1.7-.1 1.8-.2 1.7-.2 0 25.1-119.9 0z" fill="#d8ff27"/>
<path d="M-3.4 98.8l1.7-.4 1.8 .3 1.7 .2 1.8-.7 1.7-.5 1.7-.1 1.8-.5 1.7-.1 1.7 .2 1.8 .1 1.7-.1 1.8 .4 1.7 .7 1.7 .6 1.8-.1 1.7-.5 1.7 .4 1.8 .2 1.7 0 1.8 .4 1.7 .5 1.7 0 1.8-.8 1.7 .1 1.7-.3 1.8-.2 1.7 .2 1.8-.4 1.7-.8 1.7 .2 1.8 .4 1.7 0 1.7 .7 1.8 0 1.7-.2 1.8 0 1.7 0 1.7-.7 1.8-.1 1.7 .6 1.7-.2 1.8-.2 1.7 .3 1.8 1 1.7 .2 1.7 0 1.8-.1 1.7-.2 1.7-.3 1.8 .1 1.7 .5 1.8 .3 1.7 .3 1.7-.7 1.8-.4 1.7 0 1.7 .4 1.8-.4 1.7 .5 1.8 .1 1.7-.7 1.7-.7 1.8-1 1.7 0 1.7 0 1.8 .7 1.7 .2 1.8 .1 1.7 .7 0 17-119.9 0z" fill="#e4ff1b"/>
<path d="M-3.4 106l1.7 .3 1.8 .2 1.7 0 1.8 0 1.7-.3 1.7 .1 1.8 .2 1.7-.2 1.7-.6 1.8 .1 1.7 .2 1.8 .9 1.7 .6 1.7 .3 1.8-.4 1.7-.6 1.7-.3 1.8-.4 1.7 0 1.8 .1 1.7 .4 1.7 .7 1.8 .4 1.7-.3 1.7 .2 1.8-.4 1.7-1.4 1.8-.4 1.7-.2 1.7 .2 1.8 .2 1.7 .4 1.7 .6 1.8 .3 1.7-.1 1.8-.3 1.7-.3 1.7-.3 1.8 .1 1.7 .2 1.7 .2 1.8 .1 1.7 .6 1.8 .3 1.7-.6 1.7-.4 1.8 .3 1.7-.3 1.7-.2 1.8 1.1 1.7 .8 1.8 .3 1.7 0 1.7-.4 1.8-.8 1.7-.9 1.7-.1 1.8 .3 1.7 0 1.8-.6 1.7-.1 1.7 0 1.8-.3 1.7 .3 1.7 .8 1.8 .2 1.7-.5 1.8-.5 1.7 .1 0 10.1-119.9 0z" fill="#f0ff0f"/>
</g>
<g transform="translate(238,186)" clip-path="url(#c11)" stroke="#000" stroke-width="0.5" stroke-opacity="0.7">
<rect x="-2" y="-2" width="117.4" height="116.8" fill="#00a8ff" stroke="none"/>
<path d="M-3.4 5.8l4.1 0 4.2 .1 4.1 0 4.2 0 4.1 0 4.2 0 4.1 0 4.2-.1 4.1-.1 4.1-.1 4.2 0 4.1 .2 4.2 .1 4.1 .2 4.2 0 4.1 0 4.2-.1 4.1 0 4.2-.1 4.1 0 4.1 0 4.2-.1 4.1 0 4.2-.1 4.1 0 4.2 0 4.1 .1 4.2 0 4.1 0 0 110-120.2 0z" fill="#00d5ff"/>
<path d="M-3.4 13.5l4.1 .1 4.2 0 4.1 .1 4.2 .1 4.1 0 4.2-.1 4.1 0 4.2-.1 4.1 0 4.1-.1 4.2 .1 4.1 .1 4.2 .1 4.1-.1 4.2-.1 4.1-.1 4.2-.1 4.1 0 4.2 .1 4.1 .2 4.1 .1 4.2 0 4.1-.1 4.2-.1 4.1-.1 4.2 0 4.1 0 4.2 0 4.1 0 0 102.3-120.2 0z" fill="#03fffc"/>
<path d="M-3.4 21.4l4.1-.1 4.2-.1 4.1-.1 4.2-.1 4.1 0 4.2 .1 4.1 .2 4.2 .1 4.1 0 4.1 0 4.2-.1 4.1 0 4.2 0 4.1 0 4.2-.1 4.1-.1 4.2 0 4.1 .1 4.2 .2 4.1 .1 4.1 .1 4.2-.1 4.1-.1 4.2 0 4.1 0 4.2 0 4.1 0 4.2-.1 4.1-.1 0 94.6-120.2 0z" fill="#30ffcf"/>
<path d="M-3.4 29.3l4.1 0 4.2-.1 4.1-.1 4.2-.1 4.1 0 4.2-.1 4.1-.1 4.2-.1 4.1 0 4.1 .1 4.2 0 4.1 .1 4.2 0 4.1 0 4.2 0 4.1 .1 4.2 0 4.1 0 4.2-.1 4.1-.1 4.1 0 4.2 .1 4.1 0 4.2 .1 4.1 .1 4.2 0 4.1 0 4.2 .1 4.1 .1 0 86.5-120.2 0z" fill="#5dffa2"/>
<path d="M-3.4 36.8l4.1 .1 4.2 .1 4.1 .1 4.2-.1 4.1-.1 4.2-.2 4.1-.1 4.2 0 4.1 0 4.1 0 4.2 0 4.1 .1 4.2 0 4.1 .1 4.2 0 4.1 .1 4.2 0 4.1 0 4.2-.1 4.1 0 4.1 0 4.2 0 4.1 .1 4.2 0 4.1 .1 4.2-.1 4.1-.2 4.2 0 4.1 0 0 79.1-120.2 0z" fill="#89ff76"/>
<path d="M-3.4 44.7l4.1-.1 4.2-.1 4.1-.1 4.2 .1 4.1 0 4.2 0 4.1 .1 4.2 .1 4.1 .1 4.1 0 4.2-.1 4.1-.2 4.2-.1 4.1-.1 4.2 0 4.1 0 4.2 0 4.1 .1 4.2 0 4.1 .1 4.1 0 4.2 0 4.1 .1 4.2 0 4.1 0 4.2 0 4.1-.1 4.2 0 4.1 0 0 71.3-120.2 0z" fill="#b6ff49"/>
<path d="M-3.4 52.4l4.1-.1 4.2 0 4.1-.1 4.2 0 4.1 .1 4.2 .1 4.1-.1 4.2 0 4.1 0 4.1 .1 4.2 .1 4.1 0 4.2-.2 4.1-.2 4.2 0 4.1 0 4.2 .1 4.1 .1 4.2 0 4.1-.1 4.1-.2 4.2-.1 4.1 .1 4.2 0 4.1 .1 4.2 .1 4.1 .1 4.2 0 4.1 0 0 63.5-120.2 0z" fill="#e3ff1c"/>
<path d="M-3.4 59.4l4.1 0 4.2 0 4.1 .1 4.2 0 4.1 0 4.2 0 4.1 0 4.2 0 4.1-.1 4.1 0 4.2 0 4.1 0 4.2 .1 4.1 .1 4.2-.1 4.1 0 4.2-.1 4.1 0 4.2 .1 4.1 .1 4.1 .1 4.2 0 4.1-.1 4.2-.1 4.1-.1 4.2-.1 4.1 0 4.2 0 4.1 0 0 56.5-120.2 0z" fill="#ffee00"/>
<path d="M-3.4 67.3l4.1 0 4.2 0 4.1 0 4.2 0 4.1 0 4.2 0 4.1-.1 4.2 0 4.1-.1 4.1 0 4.2 .1 4.1 0 4.2 0 4.1 0 4.2 0 4.1 0 4.2 0 4.1 0 4.2-.1 4.1-.1 4.1 0 4.2 .1 4.1 .1 4.2 0 4.1 .1 4.2 .1 4.1 .1 4.2 0 4.1 0 0 48.3-120.2 0z" fill="#ffc100"/>
<path d="M-3.4 74.9l4.1 0 4.2-.1 4.1 0 4.2 0 4.1 .2 4.2 .1 4.1 .1 4.2 0 4.1 0 4.1-.1 4.2 0 4.1 0 4.2 0 4.1 0 4.2 .1 4.1 .1 4.2 0 4.1 0 4.2-.1 4.1-.1 4.1 0 4.2-.1 4.1-.1 4.2 0 4.1-.1 4.2 0 4.1 0 4.2 .1 4.1 0 0 40.9-120.2 0z" fill="#ff9500"/>
<path d="M-3.4 83.2l4.1-.1 4.2 .1 4.1 0 4.2 .1 4.1 0 4.2 0 4.1 0 4.2-.1 4.1 0 4.1 0 4.2-.1 4.1 0 4.2-.1 4.1 0 4.2-.1 4.1 0 4.2 0 4.1 .1 4.2 .2 4.1 .1 4.1-.1 4.2-.1 4.1-.1 4.2 0 4.1 .1 4.2 0 4.1 .1 4.2 0 4.1-.1 0 32.7-120.2 0z" fill="#ff6800"/>
<path d="M-3.4 91.2l4.1 0 4.2 0 4.1-.1 4.2-.1 4.1 0 4.2 0 4.1 0 4.2-.1 4.1 0 4.1 0 4.2 0 4.1 0 4.2-.1 4.1-.1 4.2 0 4.1 0 4.2 0 4.1 0 4.2 .1 4.1 0 4.1 0 4.2 .1 4.1 0 4.2 0 4.1 .1 4.2 0 4.1 0 4.2-.1 4.1-.1 0 25-120.2 0z" fill="#ff3b00"/>
<path d="M-3.4 98.6l4.1 0 4.2 .1 4.1 0 4.2 0 4.1-.1 4.2-.1 4.1-.1 4.2 0 4.1 .1 4.1 .1 4.2 .1 4.1 .1 4.2-.1 4.1 0 4.2 0 4.1 0 4.2 0 4.1 0 4.2 0 4.1-.1 4.1 0 4.2 0 4.1 0 4.2-.1 4.1 0 4.2 .1 4.1 .1 4.2 0 4.1 0 0 17.1-120.2 0z" fill="#ff0e00"/>
<path d="M-3.4 106.6l4.1 .1 4.2 0 4.1-.1 4.2-.1 4.1 0 4.2 .1 4.1 0 4.2 0 4.1-.1 4.1-.1 4.2 0 4.1-.1 4.2-.1 4.1-.1 4.2 .1 4.1 .1 4.2 0 4.1-.1 4.2 0 4.1 .1 4.1 .1 4.2 0 4.1 0 4.2 0 4.1 0 4.2 0 4.1 0 4.2-.1 4.1 0 0 9.5-120.2 0z" fill="#e00000"/>
</g>
<g transform="translate(386.4,185.1)" clip-path="url(#c12)" stroke="#000" stroke-width="0.5" stroke-opacity="0.7">
<rect x="-2" y="-2" width="116.7" height="116.7" fill="#0061ff" stroke="none"/>
<path d="M-3.4 5.8l4.1 .1 4.2 0 4.1 .1 4.1 0 4.1-.1 4.1 0 4.2-.1 4.1-.1 4.1-.1 4.1-.1 4.1 0 4.2 .1 4.1 0 4.1 .1 4.1 0 4.1 0 4.1 0 4.2 0 4.1-.1 4.1 .1 4.1 0 4.1 0 4.2 0 4.1 0 4.1-.1 4.1 0 4.1-.1 4.2 .1 4.1 .1 0 110-119.5 0z" fill="#0099ff"/>
<path d="M-3.4 13.3l4.1 0 4.2 0 4.1 .1 4.1 0 4.1 .1 4.1 .1 4.2 0 4.1-.1 4.1 0 4.1-.1 4.1-.1 4.2-.1 4.1 0 4.1 0 4.1 0 4.1-.1 4.1 0 4.2 0 4.1 .1 4.1 0 4.1 .1 4.1 0 4.2 .1 4.1 0 4.1-.1 4.1 0 4.1 .1 4.2 0 4.1 0 0 102.3-119.5 0z" fill="#00d0ff"/>
<path d="M-3.4 20.8l4.1 0 4.2-.1 4.1 0 4.1 0 4.1-.2 4.1-.1 4.2 0 4.1 .1 4.1 .1 4.1 .1 4.1 .1 4.2 0 4.1 .1 4.1-.1 4.1-.1 4.1-.2 4.1 0 4.2 .1 4.1 .2 4.1 .1 4.1 .1 4.1-.1 4.2-.1 4.1-.1 4.1-.1 4.1 0 4.1 0 4.2 .2 4.1 .1 0 94.8-119.5 0z" fill="#09fff6"/>
<path d="M-3.4 28.5l4.1 0 4.2 0 4.1 0 4.1 0 4.1-.1 4.1-.1 4.2 0 4.1 0 4.1 .1 4.1 .1 4.1 0 4.2 0 4.1-.1 4.1-.1 4.1 0 4.1 0 4.1 .1 4.2 0 4.1 0 4.1-.1 4.1-.1 4.1-.1 4.2 .1 4.1 .1 4.1 0 4.1 .1 4.1 .1 4.2 0 4.1 0 0 87.2-119.5 0z" fill="#41ffbe"/>
<path d="M-3.4 36.4l4.1 0 4.2-.1 4.1 0 4.1 0 4.1 0 4.1 0 4.2 0 4.1 0 4.1 .1 4.1 0 4.1 0 4.2 0 4.1-.1 4.1-.1 4.1-.1 4.1 0 4.1 0 4.2 0 4.1 .1 4.1 .1 4.1 0 4.1 0 4.2 0 4.1 0 4.1-.1 4.1 0 4.1 0 4.2 0 4.1 .1 0 79.4-119.5 0z" fill="#79ff86"/>
<path d="M-3.4 43.9l4.1-.1 4.2 0 4.1 0 4.1 0 4.1 0 4.1 0 4.2 0 4.1 0 4.1 .1 4.1 0 4.1 .1 4.2 0 4.1 0 4.1 0 4.1 0 4.1-.1 4.1-.1 4.2-.1 4.1 0 4.1-.1 4.1-.1 4.1 .1 4.2 .1 4.1 .1 4.1 .1 4.1 0 4.1 0 4.2 0 4.1 0 0 71.8-119.5 0z" fill="#b0ff4f"/>
<path d="M-3.4 51.4l4.1 0 4.2 .1 4.1 0 4.1 0 4.1 0 4.1-.1 4.2 0 4.1 .1 4.1 0 4.1 0 4.1 .1 4.2 0 4.1 .1 4.1 0 4.1 0 4.1 0 4.1 0 4.2 0 4.1 .1 4.1 0 4.1 .1 4.1-.1 4.2 0 4.1 0 4.1 0 4.1 .1 4.1 0 4.2-.1 4.1 0 0 63.9-119.5 0z" fill="#e8ff17"/>
<path d="M-3.4 59.4l4.1 0 4.2-.1 4.1 0 4.1 0 4.1 0 4.1 0 4.2-.1 4.1-.1 4.1-.1 4.1 0 4.1 0 4.2 .1 4.1 .1 4.1 .1 4.1 .1 4.1 0 4.1 0 4.2 0 4.1 0 4.1-.1 4.1 0 4.1-.1 4.2 0 4.1 0 4.1 0 4.1 .1 4.1 .1 4.2 .1 4.1 0 0 56.2-119.5 0z" fill="#ffde00"/>
<path d="M-3.4 67.2l4.1 .1 4.2 0 4.1 0 4.1-.1 4.1 0 4.1-.1 4.2 0 4.1-.1 4.1 0 4.1-.1 4.1 0 4.2 0 4.1 0 4.1 0 4.1 .1 4.1 .1 4.1 0 4.2 .1 4.1-.1 4.1 0 4.1 0 4.1-.1 4.2 0 4.1-.1 4.1 0 4.1 0 4.1 .1 4.2 .1 4.1 0 0 48.6-119.5 0z" fill="#ffa600"/>
<path d="M-3.4 74.9l4.1 0 4.2-.1 4.1-.1 4.1 0 4.1-.1 4.1 0 4.2-.1 4.1 .1 4.1 0 4.1 0 4.1-.1 4.2-.1 4.1 0 4.1 0 4.1 .1 4.1 0 4.1 0 4.2 0 4.1 0 4.1 .1 4.1 0 4.1-.1 4.2 0 4.1 .1 4.1 0 4.1 0 4.1 .1 4.2-.1 4.1 0 0 41.1-119.5 0z" fill="#ff6f00"/>
<path d="M-3.4 82.1l4.1 0 4.2 0 4.1 0 4.1 0 4.1 .1 4.1 0 4.2 0 4.1 .1 4.1 0 4.1 0 4.1 .1 4.2 0 4.1 0 4.1 0 4.1-.1 4.1-.1 4.1 0 4.2 0 4.1 0 4.1 .1 4.1 0 4.1 0 4.2 .1 4.1 0 4.1 .1 4.1 0 4.1 0 4.2-.2 4.1-.1 0 33.5-119.5 0z" fill="#ff3700"/>
<path d="M-3.4 90.1l4.1 .1 4.2 0 4.1-.1 4.1-.1 4.1-.2 4.1 0 4.2 0 4.1-.1 4.1 0 4.1 .1 4.1 0 4.2 .1 4.1 .1 4.1-.1 4.1 0 4.1 0 4.1-.1 4.2 0 4.1 .1 4.1 0 4.1 .1 4.1 .1 4.2 0 4.1 0 4.1 0 4.1-.1 4.1-.1 4.2 0 4.1 .1 0 25.7-119.5 0z" fill="#fe0000"/>
<path d="M-3.4 97.6l4.1-.1 4.2-.1 4.1 0 4.1 0 4.1 .1 4.1 .1 4.2 0 4.1 0 4.1 0 4.1 0 4.1-.1 4.2 0 4.1-.1 4.1 0 4.1 0 4.1 0 4.1 .1 4.2 0 4.1 .1 4.1 0 4.1 0 4.1 0 4.2-.1 4.1 .1 4.1 .1 4.1 .2 4.1 0 4.2-.1 4.1-.1 0 18-119.5 0z" fill="#c70000"/>
<path d="M-3.4 105.5l4.1 0 4.2 0 4.1 0 4.1 0 4.1 .1 4.1 .1 4.2-.1 4.1 0 4.1-.1 4.1 0 4.1 0 4.2 0 4.1-.1 4.1 0 4.1-.1 4.1 0 4.1-.1 4.2 0 4.1 .1 4.1 0 4.1 0 4.1 0 4.2 0 4.1-.1 4.1 0 4.1 0 4.1 .1 4.2 0 4.1 0 0 10.4-119.5 0z" fill="#8f0000"/>
</g>
<g transform="translate(536.8,186.1)" clip-path="url(#c13)" stroke="#000" stroke-width="0.5" stroke-opacity="0.7">
<rect x="-2" y="-2" width="116.6" height="116.9" fill="#0038ff" stroke="none"/>
<path d="M-3.4 6.6l4.1 0 4.2 .1 4.1-.1 4.1-.1 4.1-.1 4.1-.1 4.1 0 4.1 .1 4.2 0 4.1 0 4.1 0 4.1 0 4.1 0 4.1 .2 4.2 .1 4.1 0 4.1 0 4.1 0 4.1 .1 4.1 0 4.2 .1 4.1 0 4.1 0 4.1 0 4.1-.1 4.1-.1 4.1-.1 4.2-.1 4.1 0 0 109.4-119.4 0z" fill="#0072ff"/>
<path d="M-3.4 14.1l4.1 0 4.2 0 4.1 .1 4.1 .1 4.1 .2 4.1 .1 4.1 0 4.1-.1 4.2 0 4.1-.1 4.1 0 4.1 .1 4.1 0 4.1 .1 4.2 0 4.1-.1 4.1-.1 4.1-.1 4.1-.2 4.1 0 4.2 .1 4.1 .1 4.1 .1 4.1 .1 4.1 .1 4.1 0 4.1-.1 4.2-.1 4.1-.2 0 101.7-119.4 0z" fill="#00acff"/>
<path d="M-3.4 21.7l4.1 0 4.2 0 4.1-.1 4.1-.1 4.1-.1 4.1-.1 4.1 0 4.1 0 4.2 0 4.1 0 4.1 0 4.1 0 4.1 0 4.1 0 4.2 0 4.1 .1 4.1 0 4.1-.1 4.1-.1 4.1 0 4.2 0 4.1 .1 4.1 0 4.1 .1 4.1 .1 4.1 .1 4.1 0 4.2 0 4.1-.1 0 94.4-119.4 0z" fill="#00e6ff"/>
<path d="M-3.4 29.2l4.1-.1 4.2 0 4.1 0 4.1-.1 4.1 0 4.1 0 4.1 .1 4.1 0 4.2-.1 4.1 0 4.1 .1 4.1 0 4.1 .1 4.1 0 4.2 0 4.1 0 4.1 0 4.1 0 4.1-.1 4.1-.1 4.2-.1 4.1 0 4.1 .1 4.1 .1 4.1 .1 4.1 .1 4.1 0 4.2-.1 4.1 .1 0 86.6-119.4 0z" fill="#21ffde"/>
<path d="M-3.4 36.4l4.1 0 4.2-.1 4.1 0 4.1 0 4.1 .1 4.1 .1 4.1 0 4.1 .1 4.2 0 4.1 0 4.1 0 4.1 0 4.1 0 4.1-.1 4.2 0 4.1-.1 4.1-.1 4.1 0 4.1-.1 4.1 .1 4.2 0 4.1 .1 4.1-.1 4.1-.1 4.1 0 4.1 .1 4.1 .2 4.2 .1 4.1 .1 0 79.2-119.4 0z" fill="#5bffa4"/>
<path d="M-3.4 44.2l4.1 0 4.2 0 4.1 0 4.1 0 4.1 .1 4.1 0 4.1 0 4.1-.1 4.2 0 4.1 0 4.1 0 4.1 0 4.1 0 4.1 0 4.2 0 4.1-.1 4.1-.1 4.1-.1 4.1 .1 4.1 .2 4.2 .2 4.1 0 4.1 0 4.1 0 4.1-.2 4.1-.1 4.1 0 4.2 0 4.1 .1 0 71.7-119.4 0z" fill="#95ff6a"/>
<path d="M-3.4 51.8l4.1-.1 4.2 .1 4.1 .2 4.1 .1 4.1-.1 4.1 0 4.1 0 4.1-.1 4.2 0 4.1-.1 4.1 .1 4.1 0 4.1-.1 4.1-.1 4.2 0 4.1-.1 4.1 .1 4.1 .1 4.1 .2 4.1 0 4.2 0 4.1 .1 4.1 0 4.1 0 4.1 0 4.1 0 4.1-.1 4.2 0 4.1 0 0 63.9-119.4 0z" fill="#cfff30"/>
<path d="M-3.4 59.4l4.1 0 4.2 .1 4.1 0 4.1 .1 4.1 0 4.1 0 4.1 0 4.1 0 4.2 .1 4.1 .1 4.1 .1 4.1 .1 4.1 0 4.1-.1 4.2-.1 4.1-.1 4.1 0 4.1 0 4.1 0 4.1 0 4.2 0 4.1 0 4.1-.1 4.1 0 4.1-.1 4.1 0 4.1 0 4.2 .1 4.1-.1 0 56.4-119.4 0z" fill="#fff600"/>
<path d="M-3.4 67.6l4.1 0 4.2 .1 4.1 0 4.1-.1 4.1 0 4.1-.1 4.1 0 4.1-.1 4.2-.1 4.1 0 4.1 .1 4.1 0 4.1 .1 4.1 0 4.2-.1 4.1 0 4.1 0 4.1 0 4.1 0 4.1 0 4.2 .1 4.1 0 4.1 0 4.1 0 4.1-.1 4.1-.1 4.1 0 4.2-.1 4.1 .1 0 48.6-119.4 0z" fill="#ffbc00"/>
<path d="M-3.4 74.7l4.1 .1 4.2 0 4.1 0 4.1 0 4.1-.1 4.1 0 4.1 0 4.1 0 4.2 .1 4.1 0 4.1 .1 4.1 .1 4.1 0 4.1 0 4.2 0 4.1 0 4.1-.1 4.1-.1 4.1-.1 4.1 0 4.2 0 4.1 0 4.1 0 4.1 0 4.1 0 4.1 0 4.1 0 4.2 0 4.1 0 0 41.2-119.4 0z" fill="#ff8200"/>
<path d="M-3.4 82.4l4.1 0 4.2 0 4.1 0 4.1 0 4.1 0 4.1-.1 4.1 0 4.1 0 4.2 0 4.1 0 4.1 0 4.1 0 4.1-.1 4.1 0 4.2-.1 4.1 0 4.1 .2 4.1 .2 4.1 .1 4.1 0 4.2 0 4.1-.1 4.1 0 4.1 0 4.1 .1 4.1-.1 4.1-.1 4.2-.1 4.1-.1 0 33.7-119.4 0z" fill="#ff4800"/>
<path d="M-3.4 90l4.1 0 4.2 .1 4.1 0 4.1 .1 4.1 0 4.1 0 4.1 0 4.1 0 4.2 0 4.1 0 4.1 0 4.1 0 4.1 .1 4.1 0 4.2-.1 4.1 0 4.1-.1 4.1 0 4.1 0 4.1 0 4.2-.1 4.1 0 4.1 .1 4.1 .1 4.1 0 4.1 0 4.1-.1 4.2-.2 4.1-.1 0 26.1-119.4 0z" fill="#ff0e00"/>
<path d="M-3.4 98l4.1 0 4.2 0 4.1-.1 4.1-.1 4.1-.1 4.1 0 4.1 0 4.1 0 4.2-.1 4.1 0 4.1 0 4.1 .1 4.1 0 4.1 .1 4.2 .1 4.1 .1 4.1 .1 4.1 0 4.1 0 4.1 .1 4.2 0 4.1-.1 4.1-.2 4.1-.1 4.1 0 4.1 0 4.1 0 4.2 .1 4.1 0 0 18-119.4 0z" fill="#d30000"/>
<path d="M-3.4 105.5l4.1 0 4.2 0 4.1 .1 4.1 0 4.1 .1 4.1 0 4.1-.1 4.1 0 4.2 0 4.1 .1 4.1 0 4.1 0 4.1 0 4.1 .1 4.2 0 4.1 .1 4.1-.1 4.1-.1 4.1 0 4.1 0 4.2 0 4.1-.1 4.1 0 4.1 .1 4.1 .1 4.1 .1 4.1 0 4.2-.1 4.1 0 0 10.1-119.4 0z" fill="#990000"/>
</g>
<g transform="translate(88.6,332)" clip-path="url(#c20)" stroke="#000" stroke-width="0.5" stroke-opacity="0.6">
<rect x="-2" y="-2" width="116.8" height="116.8" fill="#0034ff" stroke="none"/>
<path d="M142.1 55.6l-.4 8.9-2.9 8.6-1.7 8.7-3.5 8.1-2.9 8.5-4 8.2-6.9 5.9-6.8 5.8-6.3 6.3-7.1 5.6-8.1 3.9-8.8 1.7-8.2 3.9-9 .6-8.9 1.7-9.1-.3-8.8-1.7-8.5-3.2-7.9-4.1-8.7-2.7-8-4.2-5.4-7.6-6.8-5.7-6.3-6.4-5.1-7.5-1.9-8.9-3.9-8-3.7-8.2-2-8.8 .5-9.1-1.5-9.2 3.9-8.5 3.1-8.3 3.3-8.2 4.2-7.7 4.1-7.8 6.7-5.9 4.5-8 7.1-5.5 7.4-5.1 8.1-3.8 8.1-3.9 8.7-2.2 9-.2 8.9-1.5 8.9 .9 9 .9 8.6 2.5 8.5 2.8 8.4 3.6 7 5.7 7.1 5.6 5.1 7.4 5.4 7 6.1 6.6 3.8 8.1 2.7 8.5 1.6 8.7 3.5 8.5z" fill="#002bff"/>
<path d="M136.5 55.6l-1.5 8.2-1.2 8.2-1.3 8.3-2.7 7.9-3.2 7.8-4.3 7.3-5 7-7.3 4.6-7 4.6-6.6 5-7.1 4.6-8.1 2.2-8 2.4-8.3 .6-8.3 2.2-8.5 .3-8.4-1.6-8-3-7.6-3.6-7.8-3.3-7.8-3.5-4.9-7.4-6.6-5.1-6.2-5.9-4.1-7.4-2.8-8-1.7-8.2-4.1-7.5-2-8.2 1.2-8.5-1.6-8.5 2.5-8.2 1.7-8.2 3.9-7.5 4.5-7 4.2-7.2 5.6-6.1 4.5-7.3 7-4.7 7.2-4.2 7-4.7 7.8-3.4 8.6-.2 8.2-.4 8.2-2.2 8.2 1.9 8.3 .1 8.2 1.7 7.9 2.8 7.7 3.5 7.3 4.2 6.4 5.6 5.8 6.1 5.9 6.2 4.6 7.1 3.8 7.6 1.6 8.4 1.2 8.3 2.4 8z" fill="#0022ff"/>
<path d="M131.4 55.6l-2.1 7.6-2.1 7.4-1.8 7.3-1.6 7.6-2.8 7.3-3.8 6.8-4.1 6.9-6.8 4.3-6.8 3.9-5.8 5.1-6.3 5.1-7.7 1.8-7.7 1.3-7.7 .6-7.7 1.6-7.8-.3-7.8-.8-7.5-2.6-7.5-2.3-6.7-3.9-7-3.7-5.4-5.8-6.2-4.9-5.9-5.4-3.5-7.2-3.4-7.1-1.5-7.8-2.8-7.3-2.3-7.6 1.8-7.9-1.6-7.9 1.4-7.8 1.8-7.7 3.6-7 3.6-6.9 4.6-6.4 4.6-6.3 5.3-5.8 6.6-4.2 6.6-4.1 6.3-4.9 7.2-3.3 8-.5 7.9 .3 7.6-2.5 7.8 1.1 7.6 1.2 7.9 .8 7.5 2.8 6.7 4.1 6.7 4.2 6.5 4.5 5.9 5.3 5.2 6.1 4.8 6.4 3.5 7.3 1.8 7.8 1 7.9 1 7.7z" fill="#0019ff"/>
<path d="M126.1 55.6l-.9 7.2-2.3 6.9-3.1 6.4-1.2 7.1-2.6 6.7-3 6.7-3.7 6.4-6.7 3.7-6.4 3.5-5.3 4.9-5.5 5.3-7.1 1.9-7.2 1.4-7.3 .6-7.2 .4-7.2-.7-7.2-.7-6.9-2.1-7.1-1.8-6.6-3.2-5.3-5.2-5.3-4.7-6.1-4.2-5.6-4.8-3.2-6.7-3.5-6.5-2.7-6.8-.9-7.3-2.4-7 .8-7.4-.8-7.4 1.7-7.1 1.5-7.2 3.3-6.6 3.1-6.6 4.2-5.9 4.3-5.9 5.9-4.4 5.2-5 6.1-4.1 5.9-4.5 7.2-1.7 7-2.5 7.4 0 7.2-1 7.3 .1 7.1 2.1 7.2 1.2 6.9 2.5 6.3 3.8 5.8 4.3 6.6 3.4 4.8 5.7 4.5 5.7 5 5.6 3.4 6.6 2.4 7 .5 7.5 1 7.2z" fill="#0010ff"/>
<path d="M120.9 55.6l-.3 6.7-1.5 6.6-3.1 6-2.1 6.2-2.4 6.2-2.7 6.2-4.2 5.4-5.7 3.6-5.6 3.7-5.2 4-5.3 4.3-6.4 1.9-6.4 2.1-6.6 1.4-6.8 .4-6.6-1.6-6.5-1.5-6.6-.8-6.7-1.6-6.7-1.9-4.5-5.6-4.4-5.1-5.2-4.1-5.1-4.5-3.5-5.8-3-6-2.3-6.4-.8-6.6-1.8-6.5 0-6.7-.5-6.7 1.9-6.5 1.6-6.5 3.1-6 2.4-6.2 3.6-5.6 4.7-4.7 4.1-5.3 4.7-4.9 5.8-3.5 5.4-4.4 6.9-1.2 6.5-2.1 6.7-1.3 6.8-.3 6.8 .8 6.6 1.3 6.7 1.3 5.9 3.5 5.1 4.5 5.9 2.9 7.2 1.8 4.6 5.2 3.9 5.6 4.5 5.3 2.8 6.3 .8 6.9 .2 6.8 2 6.4z" fill="#0007ff"/>
<path d="M115.5 55.6l0 6.2-1.2 6.1-2.1 5.8-2.5 5.5-2.9 5.4-2.9 5.4-4 4.6-4.4 4.2-4.7 3.8-5.2 3.2-5.3 3-5.8 1.9-5.8 1.7-5.9 2-6.2 1.4-6.2-1.2-6-1.7-6.1-.9-6-1.8-5.9-2.3-4.8-4.1-4-4.9-4.6-4-4.4-4.4-2.6-5.7-3.1-5.3-2-5.8-2-5.8-.5-6.2 1-6.1-.4-6.1 1-5.9 1-6.1 1.7-5.9 2.6-5.6 3.5-5.2 4.9-3.8 3.7-4.9 4.5-4.3 5.4-2.9 4.9-4.2 5.9-2 6.2-.8 6.2-.8 6.1-.2 6.1 .5 6.2 .5 6 1.5 5.1 3.7 4.7 3.8 5.7 2.2 6.6 1.6 4.4 4.5 3.4 5.4 4.2 4.7 2.1 6 .5 6.4 1.5 5.9 1.7 5.9z" fill="#0000fd"/>
<path d="M109.1 55.6l.2 5.5-.5 5.6-1.6 5.3-2.3 5.1-2.1 5.2-3.2 4.5-3.2 4.7-3.6 4.3-4.5 3.5-4.7 3.1-5.1 2.4-5.5 1.4-5.4 1-5.5 1.2-5.5 2.2-5.8 0-5.4-2.3-5.3-2.1-5-2.2-5-2.5-4.8-2.8-4.1-3.7-5.2-2.8-3.9-4.2-2.5-5.3-2.7-5-1.2-5.6-1.3-5.4-.6-5.5 .8-5.6-.3-5.5 .9-5.4 .7-5.6 .8-5.7 3.2-4.8 3.2-4.6 3.6-4.3 4.4-3.5 4.4-3.4 4.9-2.6 4.7-2.9 4.8-3 5.5-1.3 5.7 0 5.5 1.4 5.4 0 5.6-.4 5.5 .9 4.9 2.6 4.8 2.7 5.2 2.2 5.3 2.5 3.9 4.1 3.2 4.8 3.3 4.6 2.2 5.3 .8 5.6 1.2 5.4 1.2 5.4z" fill="#0000f4"/>
<path d="M103.6 55.6l.1 4.9 0 5.1-1.1 4.9-1.3 5-2.1 4.7-3.5 3.8-3.4 3.8-3.7 3.4-4.1 2.9-3.6 3.5-4.3 3-4.9 1.5-5 1-5 .9-5.1 1.4-5.2-.5-5-1.4-4.9-1.5-4.4-2.6-3.8-3.4-4.2-2.5-4.5-2.3-5.1-2.2-3.6-3.8-2.5-4.7-2-4.8-1-5.1-.3-5.1-.6-5-.1-4.9-.1-5 .3-5 .4-5.2 1.8-4.7 3.4-4 2.6-4.3 2.2-4.7 4.1-3.2 4.3-2.8 4.3-2.4 4.6-2.1 4.2-3.1 4.9-1.3 5.3 1 4.9 1.8 4.8-.3 5-.9 4.8 1.1 4.5 2.3 4.4 2.1 4.6 2 4 3 3.1 4 3.3 3.7 3.4 3.8 2.5 4.4 .4 5.3 .6 4.9 1.6 4.7z" fill="#0000eb"/>
<path d="M97.9 55.6l-.2 4.3 .2 4.5-.7 4.4-1.3 4.3-2.2 3.9-2.9 3.4-3.1 3.2-3.5 2.7-3.5 2.5-3 3.3-3.3 3.4-4.1 2.2-4.4 1.5-4.7 .6-4.6-.3-4.5-1.1-4.4-.7-4.4-1-3.9-2.5-3.2-3.3-3.3-2.7-4.1-1.7-4.6-1.8-3.3-3.2-2.6-3.8-2.1-4.1-1.4-4.4-.1-4.7 .2-4.5-.3-4.4-.5-4.5-.3-4.6 .8-4.5 2.5-4 2.7-3.6 2.1-4 2.1-4.2 3.2-3.2 3.8-2.6 4-2.3 4.2-1.6 4-2 4.4-1.1 4.6 .6 4.4 .4 4.4-.9 4.6-.3 4.3 1.5 3.8 2.4 3.9 2.2 4.3 1.5 3.5 2.8 2.7 3.6 2.8 3.4 2.8 3.6 2.2 3.9 .6 4.5 .4 4.4 1.1 4.2z" fill="#0000e2"/>
<path d="M93.2 55.6l-.2 3.8-1 3.7-1.3 3.6-1.2 3.6-1.4 3.5-1.8 3.4-2.2 3.1-3 2.5-3.2 2.1-2.9 2.6-2.8 3.1-3.5 2.3-3.9 1.5-4.1 .4-4.1-.7-3.9-.9-3.9-.9-3.7-1.4-3.3-2-3.1-2.3-3.2-2-3.6-1.6-3.4-2.1-2.7-2.9-2.4-3.2-1.9-3.6-1.1-3.8-.5-4 .1-4 .2-3.8-.5-3.9-.7-4.1 .4-4.1 2-3.6 2.3-3.3 2-3.5 2.2-3.3 2.9-2.8 3.2-2.5 3.6-1.9 3.6-1.6 3.6-1.6 3.9-1 4-.2 3.9-.2 4-.5 4 .3 3.8 1.4 3.4 2.2 3.2 2.3 3.8 1.3 3.4 2.2 2.6 3 2.2 3.3 1.9 3.5 2 3.3 1.8 3.6 .4 3.9-.1 4z" fill="#0000d9"/>
<path d="M88 55.6l-.1 3.3-1.1 3.1-1.2 3-.9 3.1-.9 3.2-1.4 3.1-1.9 2.7-2.6 2.2-2.7 1.8-2.6 2.2-2.6 2.4-3 2-3.3 1.4-3.5 .3-3.6-.9-3.3-1.4-3.2-.9-3.2-.9-3.1-1-3-1.3-3-1.5-2.9-1.8-2.5-2.3-2.2-2.6-1.9-2.8-1.1-3.3-.7-3.3-.7-3.2-.2-3.3 .5-3.3 .2-3.2-.1-3.3 .4-3.3 1.1-3.1 1.6-2.9 1.8-2.7 2-2.6 2.1-2.6 2.3-2.6 2.6-2.2 3-1.9 3.2-1.4 3.3-1.1 3.5-.6 3.5-.3 3.5 .1 3.5 .7 3.3 1.4 3 1.8 2.8 1.9 3.2 1.4 3.1 1.7 2.5 2.3 2.1 2.9 1.6 3.1 1.4 3.1 1 3.3 .2 3.5 0 3.3z" fill="#0000d0"/>
<path d="M83.1 55.6l-.1 2.8-.6 2.7-1.1 2.5-1 2.6-1 2.5-1.2 2.5-1.5 2.4-1.8 2.2-2 2-2.3 1.9-2.5 1.5-2.7 1.2-2.8 .9-3 .2-2.9-.4-2.8-.9-2.7-.8-2.7-.6-2.6-.9-2.5-1.3-2.3-1.5-2.3-1.6-2.1-1.9-1.7-2.2-1.4-2.5-1.1-2.5-1-2.6-.9-2.7-.2-2.7 .2-2.8 .4-2.7 .5-2.7 .7-2.5 1-2.6 1.1-2.5 1.2-2.4 1.5-2.4 1.7-2.2 1.9-2.1 2.3-1.9 2.4-1.7 2.5-1.6 2.8-1.3 3-.5 3.1 .5 2.9 1 2.7 1.1 2.7 1.1 2.6 .9 2.6 1 2.7 1.2 2.6 1.4 2.4 1.8 2.1 2.2 1.5 2.6 .9 2.8 .5 3 .1 2.9 .1 2.8z" fill="#0000c7"/>
<path d="M77.2 55.6l.1 2.2-.1 2.2-.3 2.2-.7 2.1-.9 2.1-1 2-1.3 2-1.4 1.8-1.7 1.7-2 1.3-2.1 1-2.3 .7-2.3 .4-2.3 .2-2.3-.1-2.2-.4-2.2-.6-2.1-.7-2.1-.8-2-.9-1.9-1.1-1.9-1.4-1.5-1.6-1.2-1.9-1-2-.8-2-.9-2-.7-2-.5-2.2-.1-2.2 0-2.2 .2-2.2 .5-2.2 .7-2.2 .9-2 1.2-2 1.3-1.9 1.4-1.8 1.7-1.7 1.9-1.5 2-1.2 2.2-1 2.3-.6 2.4-.1 2.4 .4 2.3 .6 2.2 .6 2.2 .5 2.2 .5 2.3 .6 2.2 1 2 1.3 1.9 1.5 1.5 1.9 1 2.3 .5 2.4 .2 2.3 0 2.3 0 2.2z" fill="#0000be"/>
<path d="M72.5 55.6l.1 1.7-.1 1.7-.4 1.7-.5 1.6-.8 1.5-.8 1.5-1 1.4-1.2 1.4-1.3 1.1-1.4 1.1-1.6 .9-1.6 .7-1.7 .4-1.8 .1-1.8-.3-1.7-.4-1.6-.4-1.6-.5-1.7-.5-1.5-.6-1.6-.8-1.4-1-1.1-1.3-.9-1.5-.6-1.6-.6-1.5-.6-1.5-.6-1.6-.3-1.6-.2-1.7-.1-1.7 .1-1.7 .2-1.7 .5-1.7 .8-1.6 1-1.4 1.2-1.3 1.2-1.2 1.4-1.1 1.3-1.1 1.5-1 1.6-.9 1.7-.7 1.8-.5 1.8-.1 1.8 .2 1.8 .4 1.8 .5 1.7 .6 1.7 .8 1.4 1.1 1.3 1.3 1.1 1.5 .8 1.6 .7 1.6 .6 1.6 .4 1.6 .4 1.6 .2 1.6z" fill="#0000b5"/>
<path d="M67.3 55.6l-.1 1.1-.2 1.1-.2 1.1-.3 1.1-.4 1.1-.5 1-.7 1-.8 .9-.8 .8-1 .7-1 .6-1.1 .5-1.2 .2-1.2 .1-1.2-.1-1.2-.1-1.1-.1-1.2-.2-1.1-.4-1.1-.6-1-.6-.8-.8-.8-.9-.7-.9-.6-1-.5-1.1-.5-1.1-.3-1.1-.3-1.1-.2-1.2 0-1.2 .1-1.2 .2-1.2 .4-1.2 .5-1.1 .7-1 .7-1 .8-.9 .9-.9 1.1-.8 1-.6 1.2-.5 1.2-.4 1.3-.2 1.3 0 1.3 .1 1.2 .3 1.2 .4 1.1 .6 1.1 .6 .9 .8 .9 .9 .7 1 .6 1 .5 1 .4 1.1 .3 1.1 .3 1.1 .1 1.1z" fill="#0000ac"/>
<path d="M62.5 55.6l0 .6-.1 .6-.2 .6-.2 .6-.3 .6-.3 .5-.4 .5-.4 .4-.5 .4-.5 .4-.5 .3-.6 .2-.7 .2-.6 0-.6 .1-.6-.1-.7 0-.6-.2-.6-.2-.5-.3-.5-.3-.6-.4-.5-.4-.5-.4-.4-.5-.3-.6-.2-.6-.1-.7-.1-.7 .1-.6 0-.6 .1-.7 .1-.6 .2-.6 .3-.6 .3-.6 .4-.5 .5-.5 .5-.4 .6-.3 .6-.3 .6-.2 .6-.2 .7 0 .6 0 .6 0 .7 .2 .6 .2 .5 .3 .5 .4 .4 .4 .5 .4 .4 .4 .4 .4 .3 .5 .3 .6 .2 .5 .3 .6 .2 .6z" fill="#0000a3"/>
<path d="M1 1l-1.5-1.5M1 5.8l-1.6-1.4M1 10.6l-1.6-1.3M1 15.4l-1.6-1.2M1 20.2l-1.6-1M1 25l-1.6-.9M1 29.8l-1.7-.8M1 34.6l-1.7-.6M1 39.4l-1.7-.5M1 44.2l-1.7-.3M1 49l-1.7-.2M1 53.8l-1.7-.1M1 58.6l-1.7 .1M1 63.4l-1.7 .2M1 68.2l-1.7 .4M1 73l-1.7 .5M1 77.8l-1.7 .7M1 82.6l-1.7 .8M1 87.4l-1.6 .9M1 92.2l-1.6 1.1M1 97l-1.6 1.2M1 101.8l-1.6 1.3M1 106.6l-1.6 1.4M1 111.4l-1.5 1.5M5.8 1l-1.4-1.5M5.8 5.8l-1.4-1.4M5.8 10.6l-1.5-1.3M5.8 15.4l-1.5-1.2M5.8 20.2l-1.5-1.1M5.8 25l-1.5-.9M5.8 29.8l-1.6-.8M5.8 34.6l-1.6-.6M5.8 39.4l-1.6-.5M5.8 44.2l-1.6-.4M5.8 49l-1.6-.2M5.8 53.8l-1.6-.1M5.8 58.6l-1.6 .1M5.8 63.4l-1.6 .2M5.8 68.2l-1.6 .4M5.8 73l-1.6 .5M5.8 77.8l-1.6 .7M5.8 82.6l-1.5 .8M5.8 87.4l-1.5 1M5.8 92.2l-1.5 1.1M5.8 97l-1.5 1.2M5.8 101.8l-1.5 1.3M5.8 106.6l-1.4 1.4M5.8 111.4l-1.4 1.6M10.6 1l-1.3-1.6M10.6 5.8l-1.3-1.4M10.6 10.6l-1.3-1.3M10.6 15.4l-1.4-1.2M10.6 20.2l-1.4-1.1M10.6 25l-1.4-.9M10.6 29.8l-1.4-.8M10.6 34.6l-1.5-.7M10.6 39.4l-1.5-.5M10.6 44.2l-1.5-.4M10.6 49l-1.5-.2M10.6 53.8l-1.5-.1M10.6 58.6l-1.5 .1M10.6 63.4l-1.5 .3M10.6 68.2l-1.5 .4M10.6 73l-1.5 .6M10.6 77.8l-1.5 .7M10.6 82.6l-1.4 .8M10.6 87.4l-1.4 1M10.6 92.2l-1.4 1.1M10.6 97l-1.4 1.2M10.6 101.8l-1.3 1.3M10.6 106.6l-1.3 1.5M10.6 111.4l-1.3 1.6M15.4 1l-1.2-1.6M15.4 5.8l-1.2-1.5M15.4 10.6l-1.2-1.3M15.4 15.4l-1.3-1.2M15.4 20.2l-1.3-1.1M15.4 25l-1.3-1M15.4 29.8l-1.3-.8M15.4 34.6l-1.4-.7M15.4 39.4l-1.4-.5M15.4 44.2l-1.4-.4M15.4 49l-1.4-.2M15.4 53.8l-1.4-.1M15.4 58.6l-1.4 .1M15.4 63.4l-1.4 .3M15.4 68.2l-1.4 .4M15.4 73l-1.4 .6M15.4 77.8l-1.4 .7M15.4 82.6l-1.3 .9M15.4 87.4l-1.3 1M15.4 92.2l-1.3 1.1M15.4 97l-1.2 1.3M15.4 101.8l-1.2 1.4M15.4 106.6l-1.2 1.5M15.4 111.4l-1.2 1.6M20.2 1l-1.1-1.6M20.2 5.8l-1.1-1.5M20.2 10.6l-1.1-1.4M20.2 15.4l-1.1-1.2M20.2 20.2l-1.2-1.1M20.2 25l-1.2-1M20.2 29.8l-1.2-.9M20.2 34.6l-1.2-.7M20.2 39.4l-1.3-.6M20.2 44.2l-1.3-.4M20.2 49l-1.3-.2M20.2 53.8l-1.3-.1M20.2 58.6l-1.3 .1M20.2 63.4l-1.3 .3M20.2 68.2l-1.3 .4M20.2 73l-1.3 .6M20.2 77.8l-1.2 .8M20.2 82.6l-1.2 .9M20.2 87.4l-1.2 1M20.2 92.2l-1.2 1.2M20.2 97l-1.1 1.3M20.2 101.8l-1.1 1.4M20.2 106.6l-1.1 1.5M20.2 111.4l-1.1 1.6M25 1l-.9-1.6M25 5.8l-1-1.5M25 10.6l-1-1.4M25 15.4l-1-1.3M25 20.2l-1-1.2M25 25l-1.1-1M25 29.8l-1.1-.9M25 34.6l-1.1-.8M25 39.4l-1.2-.6M25 44.2l-1.2-.4M25 49l-1.2-.3M25 53.8l-1.2-.1M25 58.6l-1.2 .1M25 63.4l-1.2 .3M25 68.2l-1.2 .5M25 73l-1.2 .6M25 77.8l-1.1 .8M25 82.6l-1.1 .9M25 87.4l-1.1 1.1M25 92.2l-1 1.2M25 97l-1 1.3M25 101.8l-1 1.4M25 106.6l-.9 1.5M25 111.4l-.9 1.6M29.8 1l-.8-1.6M29.8 5.8l-.8-1.5M29.8 10.6l-.8-1.4M29.8 15.4l-.9-1.3M29.8 20.2l-.9-1.2M29.8 25l-.9-1.1M29.8 29.8l-1-.9M29.8 34.6l-1-.8M29.8 39.4l-1-.6M29.8 44.2l-1.1-.5M29.8 49l-1.1-.3M29.8 53.8l-1.1-.1M29.8 58.6l-1.1 .1M29.8 63.4l-1.1 .3M29.8 68.2l-1.1 .5M29.8 73l-1 .7M29.8 77.8l-1 .8M29.8 82.6l-1 1M29.8 87.4l-.9 1.1M29.8 92.2l-.9 1.2M29.8 97l-.9 1.3M29.8 101.8l-.8 1.4M29.8 106.6l-.8 1.6M29.8 111.4l-.8 1.7M34.6 1l-.7-1.6M34.6 5.8l-.7-1.5M34.6 10.6l-.7-1.4M34.6 15.4l-.7-1.3M34.6 20.2l-.8-1.2M34.6 25l-.8-1.1M34.6 29.8l-.8-1M34.6 34.6l-.9-.8M34.6 39.4l-.9-.7M34.6 44.2l-1-.5M34.6 49l-1-.3M34.6 53.8l-1-.1M34.6 58.6l-1 .1M34.6 63.4l-1 .4M34.6 68.2l-1 .6M34.6 73l-.9 .7M34.6 77.8l-.9 .9M34.6 82.6l-.8 1M34.6 87.4l-.8 1.1M34.6 92.2l-.7 1.2M34.6 97l-.7 1.4M34.6 101.8l-.7 1.5M34.6 106.6l-.7 1.6M34.6 111.4l-.7 1.7M39.4 1l-.5-1.7M39.4 5.8l-.5-1.6M39.4 10.6l-.6-1.5M39.4 15.4l-.6-1.4M39.4 20.2l-.6-1.2M39.4 25l-.6-1.1M39.4 29.8l-.7-1M39.4 34.6l-.7-.9M39.4 39.4l-.8-.7M39.4 44.2l-.8-.6M39.4 49l-.9-.3M39.4 53.8l-.9-.1M39.4 58.6l-.9 .2M39.4 63.4l-.9 .4M39.4 68.2l-.8 .6M39.4 73l-.8 .8M39.4 77.8l-.7 .9M39.4 82.6l-.7 1M39.4 87.4l-.6 1.2M39.4 92.2l-.6 1.3M39.4 97l-.6 1.4M39.4 101.8l-.6 1.5M39.4 106.6l-.5 1.6M39.4 111.4l-.5 1.7M44.2 1l-.4-1.7M44.2 5.8l-.4-1.6M44.2 10.6l-.4-1.5M44.2 15.4l-.4-1.4M44.2 20.2l-.4-1.3M44.2 25l-.5-1.2M44.2 29.8l-.5-1.1M44.2 34.6l-.6-.9M44.2 39.4l-.6-.8M44.2 44.2l-.7-.6M44.2 49l-.8-.4M44.2 53.8l-.8-.1M44.2 58.6l-.8 .2M44.2 63.4l-.8 .5M44.2 68.2l-.7 .7M44.2 73l-.6 .8M44.2 77.8l-.5 1M44.2 82.6l-.5 1.1M44.2 87.4l-.5 1.2M44.2 92.2l-.4 1.3M44.2 97l-.4 1.4M44.2 101.8l-.4 1.5M44.2 106.6l-.4 1.6M44.2 111.4l-.4 1.7M49 1l-.2-1.7M49 5.8l-.2-1.6M49 10.6l-.3-1.5M49 15.4l-.3-1.4M49 20.2l-.3-1.3M49 25l-.3-1.2M49 29.8l-.3-1.1M49 34.6l-.4-1M49 39.4l-.4-.9M49 44.2l-.5-.7M49 49l-.6-.5M49 53.8l-.7-.2M49 58.6l-.7 .3M49 63.4l-.6 .6M49 68.2l-.5 .8M49 73l-.4 .9M49 77.8l-.3 1M49 82.6l-.3 1.1M49 87.4l-.3 1.2M49 92.2l-.3 1.3M49 97l-.3 1.4M49 101.8l-.2 1.5M49 106.6l-.2 1.6M49 111.4l-.2 1.7M53.8 1l-.1-1.7M53.8 5.8l-.1-1.6M53.8 10.6l-.1-1.5M53.8 15.4l-.1-1.4M53.8 20.2l-.1-1.3M53.8 25l-.1-1.2M53.8 29.8l-.1-1.1M53.8 34.6l-.1-1M53.8 39.4l-.2-.9M53.8 44.2l-.2-.8M53.8 49l-.3-.7M53.8 53.8l-.6-.4M53.8 58.6l-.5 .5M53.8 63.4l-.3 .7M53.8 68.2l-.2 .8M53.8 73l-.2 .9M53.8 77.8l-.1 1M53.8 82.6l-.1 1.1M53.8 87.4l-.1 1.2M53.8 92.2l-.1 1.3M53.8 97l-.1 1.4M53.8 101.8l-.1 1.5M53.8 106.6l-.1 1.6M53.8 111.4l-.1 1.7M58.6 1l.1-1.7M58.6 5.8l.1-1.6M58.6 10.6l.1-1.5M58.6 15.4l.1-1.4M58.6 20.2l.1-1.3M58.6 25l.1-1.2M58.6 29.8l.1-1.1M58.6 34.6l.1-1M58.6 39.4l.1-.9M58.6 44.2l.1-.8M58.6 49l.2-.7M58.6 58.6l.4 .6M58.6 63.4l.2 .7M58.6 68.2l.1 .8M58.6 73l.1 .9M58.6 77.8l.1 1M58.6 82.6l.1 1.1M58.6 87.4l.1 1.2M58.6 92.2l.1 1.3M58.6 97l.1 1.4M58.6 101.8l.1 1.5M58.6 106.6l.1 1.6M58.6 111.4l.1 1.7M63.4 1l.2-1.7M63.4 5.8l.2-1.6M63.4 10.6l.2-1.5M63.4 15.4l.2-1.4M63.4 20.2l.2-1.3M63.4 25l.3-1.2M63.4 29.8l.3-1.1M63.4 34.6l.3-1M63.4 39.4l.4-.9M63.4 44.2l.4-.7M63.4 49l.6-.5M63.4 53.8l.7-.2M63.4 58.6l.7 .3M63.4 63.4l.5 .6M63.4 68.2l.4 .8M63.4 73l.4 .9M63.4 77.8l.3 1M63.4 82.6l.3 1.1M63.4 87.4l.3 1.2M63.4 92.2l.2 1.3M63.4 97l.2 1.4M63.4 101.8l.2 1.5M63.4 106.6l.2 1.6M63.4 111.4l.2 1.7M68.2 1l.4-1.7M68.2 5.8l.4-1.6M68.2 10.6l.4-1.5M68.2 15.4l.4-1.4M68.2 20.2l.4-1.3M68.2 25l.4-1.2M68.2 29.8l.5-1.1M68.2 34.6l.5-.9M68.2 39.4l.6-.8M68.2 44.2l.7-.6M68.2 49l.8-.4M68.2 53.8l.8-.1M68.2 58.6l.8 .2M68.2 63.4l.7 .5M68.2 68.2l.6 .7M68.2 73l.6 .8M68.2 77.8l.5 1M68.2 82.6l.5 1.1M68.2 87.4l.4 1.2M68.2 92.2l.4 1.3M68.2 97l.4 1.4M68.2 101.8l.4 1.5M68.2 106.6l.4 1.6M68.2 111.4l.4 1.7M73 1l.5-1.7M73 5.8l.5-1.6M73 10.6l.5-1.5M73 15.4l.6-1.4M73 20.2l.6-1.3M73 25l.6-1.1M73 29.8l.6-1M73 34.6l.7-.9M73 39.4l.8-.7M73 44.2l.8-.6M73 49l.9-.4M73 53.8l.9-.1M73 58.6l.9 .2M73 63.4l.9 .4M73 68.2l.8 .6M73 73l.7 .8M73 77.8l.7 .9M73 82.6l.6 1.1M73 87.4l.6 1.2M73 92.2l.6 1.3M73 97l.5 1.4M73 101.8l.5 1.5M73 106.6l.5 1.6M73 111.4l.5 1.7M77.8 1l.6-1.7M77.8 5.8l.7-1.5M77.8 10.6l.7-1.4M77.8 15.4l.7-1.3M77.8 20.2l.7-1.2M77.8 25l.8-1.1M77.8 29.8l.8-1M77.8 34.6l.9-.8M77.8 39.4l.9-.7M77.8 44.2l1-.5M77.8 49l1-.3M77.8 53.8l1-.1M77.8 58.6l1 .1M77.8 63.4l1 .4M77.8 68.2l.9 .6M77.8 73l.9 .7M77.8 77.8l.8 .9M77.8 82.6l.8 1M77.8 87.4l.8 1.1M77.8 92.2l.7 1.3M77.8 97l.7 1.4M77.8 101.8l.7 1.5M77.8 106.6l.7 1.6M77.8 111.4l.6 1.7M82.6 1l.8-1.6M82.6 5.8l.8-1.5M82.6 10.6l.8-1.4M82.6 15.4l.8-1.3M82.6 20.2l.9-1.2M82.6 25l.9-1.1M82.6 29.8l.9-.9M82.6 34.6l1-.8M82.6 39.4l1-.6M82.6 44.2l1.1-.5M82.6 49l1.1-.3M82.6 53.8l1.1-.1M82.6 58.6l1.1 .1M82.6 63.4l1.1 .3M82.6 68.2l1.1 .5M82.6 73l1 .7M82.6 77.8l1 .8M82.6 82.6l.9 1M82.6 87.4l.9 1.1M82.6 92.2l.9 1.2M82.6 97l.8 1.3M82.6 101.8l.8 1.4M82.6 106.6l.8 1.6M82.6 111.4l.8 1.7M87.4 1l.9-1.6M87.4 5.8l.9-1.5M87.4 10.6l1-1.4M87.4 15.4l1-1.3M87.4 20.2l1-1.2M87.4 25l1-1M87.4 29.8l1.1-.9M87.4 34.6l1.1-.8M87.4 39.4l1.1-.6M87.4 44.2l1.2-.4M87.4 49l1.2-.3M87.4 53.8l1.2-.1M87.4 58.6l1.2 .1M87.4 63.4l1.2 .3M87.4 68.2l1.2 .5M87.4 73l1.1 .6M87.4 77.8l1.1 .8M87.4 82.6l1.1 .9M87.4 87.4l1 1.1M87.4 92.2l1 1.2M87.4 97l1 1.3M87.4 101.8l.9 1.4M87.4 106.6l.9 1.5M87.4 111.4l.9 1.6M92.2 1l1-1.6M92.2 5.8l1.1-1.5M92.2 10.6l1.1-1.4M92.2 15.4l1.1-1.3M92.2 20.2l1.1-1.1M92.2 25l1.2-1M92.2 29.8l1.2-.9M92.2 34.6l1.2-.7M92.2 39.4l1.3-.6M92.2 44.2l1.3-.4M92.2 49l1.3-.2M92.2 53.8l1.3-.1M92.2 58.6l1.3 .1M92.2 63.4l1.3 .3M92.2 68.2l1.3 .5M92.2 73l1.3 .6M92.2 77.8l1.2 .8M92.2 82.6l1.2 .9M92.2 87.4l1.2 1M92.2 92.2l1.1 1.2M92.2 97l1.1 1.3M92.2 101.8l1.1 1.4M92.2 106.6l1.1 1.5M92.2 111.4l1 1.6M97 1l1.2-1.6M97 5.8l1.2-1.5M97 10.6l1.2-1.3M97 15.4l1.2-1.2M97 20.2l1.3-1.1M97 25l1.3-1M97 29.8l1.3-.8M97 34.6l1.3-.7M97 39.4l1.4-.5M97 44.2l1.4-.4M97 49l1.4-.2M97 53.8l1.4-.1M97 58.6l1.4 .1M97 63.4l1.4 .3M97 68.2l1.4 .4M97 73l1.4 .6M97 77.8l1.3 .7M97 82.6l1.3 .9M97 87.4l1.3 1M97 92.2l1.3 1.1M97 97l1.2 1.3M97 101.8l1.2 1.4M97 106.6l1.2 1.5M97 111.4l1.2 1.6M101.8 1l1.3-1.6M101.8 5.8l1.3-1.4M101.8 10.6l1.3-1.3M101.8 15.4l1.4-1.2M101.8 20.2l1.4-1.1M101.8 25l1.4-.9M101.8 29.8l1.4-.8M101.8 34.6l1.4-.7M101.8 39.4l1.5-.5M101.8 44.2l1.5-.4M101.8 49l1.5-.2M101.8 53.8l1.5-.1M101.8 58.6l1.5 .1M101.8 63.4l1.5 .3M101.8 68.2l1.5 .4M101.8 73l1.5 .6M101.8 77.8l1.4 .7M101.8 82.6l1.4 .8M101.8 87.4l1.4 1M101.8 92.2l1.4 1.1M101.8 97l1.3 1.2M101.8 101.8l1.3 1.4M101.8 106.6l1.3 1.5M101.8 111.4l1.3 1.6M106.6 1l1.4-1.5M106.6 5.8l1.4-1.4M106.6 10.6l1.4-1.3M106.6 15.4l1.5-1.2M106.6 20.2l1.5-1.1M106.6 25l1.5-.9M106.6 29.8l1.5-.8M106.6 34.6l1.6-.7M106.6 39.4l1.6-.5M106.6 44.2l1.6-.4M106.6 49l1.6-.2M106.6 53.8l1.6-.1M106.6 58.6l1.6 .1M106.6 63.4l1.6 .2M106.6 68.2l1.6 .4M106.6 73l1.6 .5M106.6 77.8l1.5 .7M106.6 82.6l1.5 .8M106.6 87.4l1.5 1M106.6 92.2l1.5 1.1M106.6 97l1.5 1.2M106.6 101.8l1.4 1.3M106.6 106.6l1.4 1.4M106.6 111.4l1.4 1.6M111.4 1l1.5-1.5M111.4 5.8l1.5-1.4M111.4 10.6l1.6-1.3M111.4 15.4l1.6-1.2M111.4 20.2l1.6-1M111.4 25l1.6-.9M111.4 29.8l1.6-.8M111.4 34.6l1.7-.6M111.4 39.4l1.7-.5M111.4 44.2l1.7-.4M111.4 49l1.7-.2M111.4 53.8l1.7-.1M111.4 58.6l1.7 .1M111.4 63.4l1.7 .2M111.4 68.2l1.7 .4M111.4 73l1.7 .5M111.4 77.8l1.7 .7M111.4 82.6l1.6 .8M111.4 87.4l1.6 .9M111.4 92.2l1.6 1.1M111.4 97l1.6 1.2M111.4 101.8l1.6 1.3M111.4 106.6l1.5 1.4M111.4 111.4l1.5 1.5" fill="none" stroke="#4a7cff" stroke-width="0.8" stroke-opacity="0.62"/>
</g>
<g transform="translate(236,331)" clip-path="url(#c21)" stroke="#000" stroke-width="0.5" stroke-opacity="0.7">
<rect x="-2" y="-2" width="117" height="117" fill="#ff8200" stroke="none"/>
<circle cx="56.34" cy="56.03" r="85.2" fill="#ffb000"/>
<circle cx="56.31" cy="55.94" r="79.92" fill="#ffdf00"/>
<circle cx="56.41" cy="55.78" r="74.64" fill="#f0ff0f"/>
<circle cx="56.46" cy="55.9" r="69.36" fill="#c1ff3e"/>
<circle cx="56.42" cy="55.99" r="64.08" fill="#92ff6d"/>
<circle cx="56.25" cy="56.03" r="58.8" fill="#63ff9c"/>
<circle cx="56.26" cy="55.99" r="53.52" fill="#34ffcb"/>
<circle cx="56.48" cy="55.9" r="48.24" fill="#05fffa"/>
<circle cx="56.23" cy="56.04" r="42.96" fill="#00d5ff"/>
<circle cx="56.47" cy="55.93" r="37.68" fill="#00a6ff"/>
<circle cx="56.35" cy="55.81" r="32.4" fill="#0077ff"/>
<circle cx="56.26" cy="55.89" r="27.12" fill="#0048ff"/>
<circle cx="56.26" cy="55.85" r="21.84" fill="#001aff"/>
<circle cx="56.21" cy="55.93" r="16.56" fill="#0000ea"/>
<circle cx="56.42" cy="55.9" r="11.28" fill="#0000bb"/>
<circle cx="56.4" cy="55.92" r="6" fill="#00008c"/>
<path d="M1 1l-1.7-1.7M1 5.8l-1.7-1.6M1 10.6l-1.8-1.4M1 15.4l-1.8-1.3M1 20.2l-1.8-1.1M1 25l-1.8-1M1 29.8l-1.8-.8M1 34.6l-1.8-.7M1 39.4l-1.8-.5M1 44.2l-1.8-.4M1 49l-1.8-.2M1 53.8l-1.8-.1M1 58.6l-1.8 .1M1 63.4l-1.8 .2M1 68.2l-1.8 .4M1 73l-1.8 .6M1 77.8l-1.8 .7M1 82.6l-1.8 .9M1 87.4l-1.8 1M1 92.2l-1.8 1.2M1 97l-1.8 1.3M1 101.8l-1.8 1.5M1 106.6l-1.7 1.6M1 111.4l-1.7 1.7M5.8 1l-1.6-1.7M5.8 5.8l-1.6-1.6M5.8 10.6l-1.6-1.4M5.8 15.4l-1.6-1.3M5.8 20.2l-1.6-1.2M5.8 25l-1.6-1M5.8 29.8l-1.7-.9M5.8 34.6l-1.7-.7M5.8 39.4l-1.7-.5M5.8 44.2l-1.7-.4M5.8 49l-1.7-.2M5.8 53.8l-1.7-.1M5.8 58.6l-1.7 .1M5.8 63.4l-1.7 .3M5.8 68.2l-1.7 .4M5.8 73l-1.7 .6M5.8 77.8l-1.7 .7M5.8 82.6l-1.7 .9M5.8 87.4l-1.6 1M5.8 92.2l-1.6 1.2M5.8 97l-1.6 1.3M5.8 101.8l-1.6 1.5M5.8 106.6l-1.6 1.6M5.8 111.4l-1.6 1.7M10.6 1l-1.5-1.7M10.6 5.8l-1.5-1.6M10.6 10.6l-1.5-1.5M10.6 15.4l-1.5-1.3M10.6 20.2l-1.5-1.2M10.6 25l-1.5-1M10.6 29.8l-1.5-.9M10.6 34.6l-1.5-.7M10.6 39.4l-1.5-.6M10.6 44.2l-1.5-.4M10.6 49l-1.6-.2M10.6 53.8l-1.6-.1M10.6 58.6l-1.6 .1M10.6 63.4l-1.6 .3M10.6 68.2l-1.5 .4M10.6 73l-1.5 .6M10.6 77.8l-1.5 .7M10.6 82.6l-1.5 .9M10.6 87.4l-1.5 1M10.6 92.2l-1.5 1.2M10.6 97l-1.5 1.3M10.6 101.8l-1.5 1.5M10.6 106.6l-1.5 1.6M10.6 111.4l-1.4 1.8M15.4 1l-1.3-1.8M15.4 5.8l-1.3-1.6M15.4 10.6l-1.3-1.5M15.4 15.4l-1.3-1.3M15.4 20.2l-1.4-1.2M15.4 25l-1.4-1M15.4 29.8l-1.4-.9M15.4 34.6l-1.4-.7M15.4 39.4l-1.4-.6M15.4 44.2l-1.4-.4M15.4 49l-1.4-.2M15.4 53.8l-1.4-.1M15.4 58.6l-1.4 .1M15.4 63.4l-1.4 .3M15.4 68.2l-1.4 .4M15.4 73l-1.4 .6M15.4 77.8l-1.4 .7M15.4 82.6l-1.4 .9M15.4 87.4l-1.4 1M15.4 92.2l-1.4 1.2M15.4 97l-1.3 1.3M15.4 101.8l-1.3 1.5M15.4 106.6l-1.3 1.6M15.4 111.4l-1.3 1.8M20.2 1l-1.2-1.8M20.2 5.8l-1.2-1.6M20.2 10.6l-1.2-1.5M20.2 15.4l-1.2-1.3M20.2 20.2l-1.2-1.2M20.2 25l-1.2-1M20.2 29.8l-1.2-.9M20.2 34.6l-1.3-.7M20.2 39.4l-1.3-.6M20.2 44.2l-1.3-.4M20.2 49l-1.3-.2M20.2 53.8l-1.3-.1M20.2 58.6l-1.3 .1M20.2 63.4l-1.3 .3M20.2 68.2l-1.3 .4M20.2 73l-1.3 .6M20.2 77.8l-1.3 .8M20.2 82.6l-1.2 .9M20.2 87.4l-1.2 1.1M20.2 92.2l-1.2 1.2M20.2 97l-1.2 1.4M20.2 101.8l-1.2 1.5M20.2 106.6l-1.2 1.6M20.2 111.4l-1.2 1.8M25 1l-1-1.8M25 5.8l-1-1.6M25 10.6l-1-1.5M25 15.4l-1-1.4M25 20.2l-1.1-1.2M25 25l-1.1-1.1M25 29.8l-1.1-.9M25 34.6l-1.1-.8M25 39.4l-1.1-.6M25 44.2l-1.1-.4M25 49l-1.2-.3M25 53.8l-1.2-.1M25 58.6l-1.2 .1M25 63.4l-1.2 .3M25 68.2l-1.1 .4M25 73l-1.1 .6M25 77.8l-1.1 .8M25 82.6l-1.1 .9M25 87.4l-1.1 1.1M25 92.2l-1.1 1.2M25 97l-1 1.4M25 101.8l-1 1.5M25 106.6l-1 1.6M25 111.4l-1 1.8M29.8 1l-.9-1.8M29.8 5.8l-.9-1.6M29.8 10.6l-.9-1.5M29.8 15.4l-.9-1.4M29.8 20.2l-.9-1.2M29.8 25l-.9-1.1M29.8 29.8l-.9-.9M29.8 34.6l-1-.8M29.8 39.4l-1-.6M29.8 44.2l-1-.4M29.8 49l-1-.3M29.8 53.8l-1-.1M29.8 58.6l-1 .1M29.8 63.4l-1 .3M29.8 68.2l-1 .5M29.8 73l-1 .6M29.8 77.8l-1 .8M29.8 82.6l-.9 .9M29.8 87.4l-.9 1.1M29.8 92.2l-.9 1.2M29.8 97l-.9 1.4M29.8 101.8l-.9 1.5M29.8 106.6l-.9 1.7M29.8 111.4l-.9 1.8M34.6 1l-.7-1.8M34.6 5.8l-.7-1.7M34.6 10.6l-.7-1.5M34.6 15.4l-.7-1.4M34.6 20.2l-.8-1.2M34.6 25l-.8-1.1M34.6 29.8l-.8-.9M34.6 34.6l-.8-.8M34.6 39.4l-.8-.6M34.6 44.2l-.9-.5M34.6 49l-.9-.3M34.6 53.8l-.9-.1M34.6 58.6l-.9 .1M34.6 63.4l-.9 .3M34.6 68.2l-.9 .5M34.6 73l-.8 .7M34.6 77.8l-.8 .8M34.6 82.6l-.8 1M34.6 87.4l-.8 1.1M34.6 92.2l-.8 1.3M34.6 97l-.7 1.4M34.6 101.8l-.7 1.5M34.6 106.6l-.7 1.7M34.6 111.4l-.7 1.8M39.4 1l-.6-1.8M39.4 5.8l-.6-1.7M39.4 10.6l-.6-1.5M39.4 15.4l-.6-1.4M39.4 20.2l-.6-1.3M39.4 25l-.6-1.1M39.4 29.8l-.6-1M39.4 34.6l-.7-.8M39.4 39.4l-.7-.7M39.4 44.2l-.7-.5M39.4 49l-.7-.3M39.4 53.8l-.8-.1M39.4 58.6l-.8 .1M39.4 63.4l-.7 .3M39.4 68.2l-.7 .5M39.4 73l-.7 .7M39.4 77.8l-.6 .8M39.4 82.6l-.6 1M39.4 87.4l-.6 1.1M39.4 92.2l-.6 1.3M39.4 97l-.6 1.4M39.4 101.8l-.6 1.5M39.4 106.6l-.6 1.7M39.4 111.4l-.6 1.8M44.2 1l-.4-1.8M44.2 5.8l-.4-1.7M44.2 10.6l-.4-1.5M44.2 15.4l-.4-1.4M44.2 20.2l-.4-1.3M44.2 25l-.4-1.1M44.2 29.8l-.5-1M44.2 34.6l-.5-.8M44.2 39.4l-.5-.7M44.2 68.2l-.5 .6M44.2 73l-.5 .7M44.2 77.8l-.5 .9M44.2 82.6l-.5 1M44.2 87.4l-.4 1.1M44.2 92.2l-.4 1.3M44.2 97l-.4 1.4M44.2 101.8l-.4 1.6M44.2 106.6l-.4 1.7M44.2 111.4l-.4 1.8M49 1l-.2-1.8M49 5.8l-.2-1.7M49 10.6l-.3-1.5M49 15.4l-.3-1.4M49 20.2l-.3-1.3M49 25l-.3-1.1M49 29.8l-.3-1M49 34.6l-.3-.9M49 39.4l-.3-.7M49 73l-.3 .7M49 77.8l-.3 .9M49 82.6l-.3 1M49 87.4l-.3 1.2M49 92.2l-.3 1.3M49 97l-.3 1.4M49 101.8l-.2 1.6M49 106.6l-.2 1.7M49 111.4l-.2 1.8M53.8 1l-.1-1.8M53.8 5.8l-.1-1.7M53.8 10.6l-.1-1.5M53.8 15.4l-.1-1.4M53.8 20.2l-.1-1.3M53.8 25l-.1-1.1M53.8 29.8l-.1-1M53.8 34.6l-.1-.9M53.8 73l-.1 .8M53.8 77.8l-.1 .9M53.8 82.6l-.1 1M53.8 87.4l-.1 1.2M53.8 92.2l-.1 1.3M53.8 97l-.1 1.4M53.8 101.8l-.1 1.6M53.8 106.6l-.1 1.7M53.8 111.4l-.1 1.8M58.6 1l.1-1.8M58.6 5.8l.1-1.7M58.6 10.6l.1-1.5M58.6 15.4l.1-1.4M58.6 20.2l.1-1.3M58.6 25l.1-1.1M58.6 29.8l.1-1M58.6 34.6l.1-.9M58.6 73l.1 .8M58.6 77.8l.1 .9M58.6 82.6l.1 1M58.6 87.4l.1 1.2M58.6 92.2l.1 1.3M58.6 97l.1 1.4M58.6 101.8l.1 1.6M58.6 106.6l.1 1.7M58.6 111.4l.1 1.8M63.4 1l.2-1.8M63.4 5.8l.2-1.7M63.4 10.6l.2-1.5M63.4 15.4l.2-1.4M63.4 20.2l.3-1.3M63.4 25l.3-1.1M63.4 29.8l.3-1M63.4 34.6l.3-.9M63.4 39.4l.3-.7M63.4 73l.3 .7M63.4 77.8l.3 .9M63.4 82.6l.3 1M63.4 87.4l.3 1.2M63.4 92.2l.3 1.3M63.4 97l.2 1.4M63.4 101.8l.2 1.6M63.4 106.6l.2 1.7M63.4 111.4l.2 1.8M68.2 1l.4-1.8M68.2 5.8l.4-1.7M68.2 10.6l.4-1.5M68.2 15.4l.4-1.4M68.2 20.2l.4-1.3M68.2 25l.4-1.1M68.2 29.8l.4-1M68.2 34.6l.5-.8M68.2 39.4l.5-.7M68.2 68.2l.5 .6M68.2 73l.5 .7M68.2 77.8l.5 .9M68.2 82.6l.4 1M68.2 87.4l.4 1.1M68.2 92.2l.4 1.3M68.2 97l.4 1.4M68.2 101.8l.4 1.6M68.2 106.6l.4 1.7M68.2 111.4l.4 1.8M73 1l.5-1.8M73 5.8l.6-1.7M73 10.6l.6-1.5M73 15.4l.6-1.4M73 20.2l.6-1.3M73 25l.6-1.1M73 29.8l.6-1M73 34.6l.6-.8M73 39.4l.7-.7M73 44.2l.7-.5M73 49l.7-.3M73 63.4l.7 .3M73 68.2l.7 .5M73 73l.7 .7M73 77.8l.6 .8M73 82.6l.6 1M73 87.4l.6 1.1M73 92.2l.6 1.3M73 97l.6 1.4M73 101.8l.6 1.5M73 106.6l.6 1.7M73 111.4l.5 1.8M77.8 1l.7-1.8M77.8 5.8l.7-1.7M77.8 10.6l.7-1.5M77.8 15.4l.7-1.4M77.8 20.2l.7-1.2M77.8 25l.8-1.1M77.8 29.8l.8-.9M77.8 34.6l.8-.8M77.8 39.4l.8-.6M77.8 44.2l.9-.5M77.8 49l.9-.3M77.8 53.8l.9-.1M77.8 58.6l.9 .1M77.8 63.4l.9 .3M77.8 68.2l.9 .5M77.8 73l.8 .7M77.8 77.8l.8 .8M77.8 82.6l.8 1M77.8 87.4l.8 1.1M77.8 92.2l.7 1.3M77.8 97l.7 1.4M77.8 101.8l.7 1.5M77.8 106.6l.7 1.7M77.8 111.4l.7 1.8M82.6 1l.9-1.8M82.6 5.8l.9-1.6M82.6 10.6l.9-1.5M82.6 15.4l.9-1.4M82.6 20.2l.9-1.2M82.6 25l.9-1.1M82.6 29.8l.9-.9M82.6 34.6l1-.8M82.6 39.4l1-.6M82.6 44.2l1-.4M82.6 49l1-.3M82.6 53.8l1-.1M82.6 58.6l1 .1M82.6 63.4l1 .3M82.6 68.2l1 .5M82.6 73l1 .6M82.6 77.8l1 .8M82.6 82.6l.9 .9M82.6 87.4l.9 1.1M82.6 92.2l.9 1.2M82.6 97l.9 1.4M82.6 101.8l.9 1.5M82.6 106.6l.9 1.7M82.6 111.4l.9 1.8M87.4 1l1-1.8M87.4 5.8l1-1.6M87.4 10.6l1-1.5M87.4 15.4l1-1.4M87.4 20.2l1.1-1.2M87.4 25l1.1-1.1M87.4 29.8l1.1-.9M87.4 34.6l1.1-.8M87.4 39.4l1.1-.6M87.4 44.2l1.1-.4M87.4 49l1.1-.3M87.4 53.8l1.2-.1M87.4 58.6l1.2 .1M87.4 63.4l1.1 .3M87.4 68.2l1.1 .4M87.4 73l1.1 .6M87.4 77.8l1.1 .8M87.4 82.6l1.1 .9M87.4 87.4l1.1 1.1M87.4 92.2l1 1.2M87.4 97l1 1.4M87.4 101.8l1 1.5M87.4 106.6l1 1.7M87.4 111.4l1 1.8M92.2 1l1.1-1.8M92.2 5.8l1.2-1.6M92.2 10.6l1.2-1.5M92.2 15.4l1.2-1.3M92.2 20.2l1.2-1.2M92.2 25l1.2-1M92.2 29.8l1.2-.9M92.2 34.6l1.2-.7M92.2 39.4l1.3-.6M92.2 44.2l1.3-.4M92.2 49l1.3-.2M92.2 53.8l1.3-.1M92.2 58.6l1.3 .1M92.2 63.4l1.3 .3M92.2 68.2l1.3 .4M92.2 73l1.3 .6M92.2 77.8l1.2 .8M92.2 82.6l1.2 .9M92.2 87.4l1.2 1.1M92.2 92.2l1.2 1.2M92.2 97l1.2 1.4M92.2 101.8l1.2 1.5M92.2 106.6l1.2 1.6M92.2 111.4l1.1 1.8M97 1l1.3-1.8M97 5.8l1.3-1.6M97 10.6l1.3-1.5M97 15.4l1.3-1.3M97 20.2l1.3-1.2M97 25l1.4-1M97 29.8l1.4-.9M97 34.6l1.4-.7M97 39.4l1.4-.6M97 44.2l1.4-.4M97 49l1.4-.2M97 53.8l1.4-.1M97 58.6l1.4 .1M97 63.4l1.4 .3M97 68.2l1.4 .4M97 73l1.4 .6M97 77.8l1.4 .7M97 82.6l1.4 .9M97 87.4l1.4 1.1M97 92.2l1.3 1.2M97 97l1.3 1.3M97 101.8l1.3 1.5M97 106.6l1.3 1.6M97 111.4l1.3 1.8M101.8 1l1.4-1.7M101.8 5.8l1.5-1.6M101.8 10.6l1.5-1.5M101.8 15.4l1.5-1.3M101.8 20.2l1.5-1.2M101.8 25l1.5-1M101.8 29.8l1.5-.9M101.8 34.6l1.5-.7M101.8 39.4l1.5-.6M101.8 44.2l1.5-.4M101.8 49l1.5-.2M101.8 53.8l1.5-.1M101.8 58.6l1.5 .1M101.8 63.4l1.5 .3M101.8 68.2l1.5 .4M101.8 73l1.5 .6M101.8 77.8l1.5 .7M101.8 82.6l1.5 .9M101.8 87.4l1.5 1M101.8 92.2l1.5 1.2M101.8 97l1.5 1.3M101.8 101.8l1.5 1.5M101.8 106.6l1.5 1.6M101.8 111.4l1.4 1.8M106.6 1l1.6-1.7M106.6 5.8l1.6-1.6M106.6 10.6l1.6-1.4M106.6 15.4l1.6-1.3M106.6 20.2l1.6-1.2M106.6 25l1.6-1M106.6 29.8l1.6-.9M106.6 34.6l1.7-.7M106.6 39.4l1.7-.5M106.6 44.2l1.7-.4M106.6 49l1.7-.2M106.6 53.8l1.7-.1M106.6 58.6l1.7 .1M106.6 63.4l1.7 .3M106.6 68.2l1.7 .4M106.6 73l1.7 .6M106.6 77.8l1.7 .7M106.6 82.6l1.6 .9M106.6 87.4l1.6 1M106.6 92.2l1.6 1.2M106.6 97l1.6 1.3M106.6 101.8l1.6 1.5M106.6 106.6l1.6 1.6M106.6 111.4l1.6 1.7M111.4 1l1.7-1.7M111.4 5.8l1.7-1.6M111.4 10.6l1.7-1.4M111.4 15.4l1.8-1.3M111.4 20.2l1.8-1.1M111.4 25l1.8-1M111.4 29.8l1.8-.8M111.4 34.6l1.8-.7M111.4 39.4l1.8-.5M111.4 44.2l1.8-.4M111.4 49l1.8-.2M111.4 53.8l1.8-.1M111.4 58.6l1.8 .1M111.4 63.4l1.8 .2M111.4 68.2l1.8 .4M111.4 73l1.8 .6M111.4 77.8l1.8 .7M111.4 82.6l1.8 .9M111.4 87.4l1.8 1M111.4 92.2l1.8 1.2M111.4 97l1.8 1.3M111.4 101.8l1.7 1.5M111.4 106.6l1.7 1.6M111.4 111.4l1.7 1.7" fill="none" stroke="#2f64b8" stroke-width="0.8" stroke-opacity="0.75"/>
</g>
<g transform="translate(385,331)" clip-path="url(#c22)" stroke="#000" stroke-width="0.5" stroke-opacity="0.7">
<rect x="-2" y="-2" width="117" height="116.8" fill="#dd0000" stroke="none"/>
<circle cx="56.36" cy="55.75" r="85.2" fill="#ff1700"/>
<circle cx="56.41" cy="55.82" r="79.92" fill="#ff5100"/>
<circle cx="56.38" cy="55.86" r="74.64" fill="#ff8a00"/>
<circle cx="56.24" cy="55.85" r="69.36" fill="#ffc300"/>
<circle cx="56.45" cy="55.9" r="64.08" fill="#fffc00"/>
<circle cx="56.32" cy="55.92" r="58.8" fill="#c9ff36"/>
<circle cx="56.43" cy="55.88" r="53.52" fill="#90ff6f"/>
<circle cx="56.28" cy="55.78" r="48.24" fill="#57ffa8"/>
<circle cx="56.23" cy="55.87" r="42.96" fill="#1effe1"/>
<circle cx="56.44" cy="55.67" r="37.68" fill="#00e3ff"/>
<circle cx="56.36" cy="55.75" r="32.4" fill="#00aaff"/>
<circle cx="56.32" cy="55.81" r="27.12" fill="#0071ff"/>
<circle cx="56.47" cy="55.94" r="21.84" fill="#0038ff"/>
<circle cx="56.35" cy="55.66" r="16.56" fill="#0000fe"/>
<circle cx="56.25" cy="55.7" r="11.28" fill="#0000c5"/>
<circle cx="56.33" cy="55.83" r="6" fill="#00008c"/>
<path d="M1 1l-1.7-1.7M1 5.8l-1.7-1.6M1 10.6l-1.8-1.4M1 15.4l-1.8-1.3M1 20.2l-1.8-1.1M1 25l-1.8-1M1 29.8l-1.8-.8M1 34.6l-1.8-.7M1 39.4l-1.8-.5M1 44.2l-1.8-.4M1 49l-1.8-.2M1 53.8l-1.8-.1M1 58.6l-1.8 .1M1 63.4l-1.8 .2M1 68.2l-1.8 .4M1 73l-1.8 .6M1 77.8l-1.8 .7M1 82.6l-1.8 .9M1 87.4l-1.8 1M1 92.2l-1.8 1.2M1 97l-1.8 1.3M1 101.8l-1.8 1.5M1 106.6l-1.7 1.6M1 111.4l-1.7 1.7M5.8 1l-1.6-1.7M5.8 5.8l-1.6-1.6M5.8 10.6l-1.6-1.4M5.8 15.4l-1.6-1.3M5.8 20.2l-1.6-1.2M5.8 25l-1.6-1M5.8 29.8l-1.7-.9M5.8 34.6l-1.7-.7M5.8 39.4l-1.7-.5M5.8 44.2l-1.7-.4M5.8 49l-1.7-.2M5.8 53.8l-1.7-.1M5.8 58.6l-1.7 .1M5.8 63.4l-1.7 .3M5.8 68.2l-1.7 .4M5.8 73l-1.7 .6M5.8 77.8l-1.7 .7M5.8 82.6l-1.7 .9M5.8 87.4l-1.6 1M5.8 92.2l-1.6 1.2M5.8 97l-1.6 1.3M5.8 101.8l-1.6 1.5M5.8 106.6l-1.6 1.6M5.8 111.4l-1.6 1.8M10.6 1l-1.5-1.7M10.6 5.8l-1.5-1.6M10.6 10.6l-1.5-1.5M10.6 15.4l-1.5-1.3M10.6 20.2l-1.5-1.2M10.6 25l-1.5-1M10.6 29.8l-1.5-.9M10.6 34.6l-1.5-.7M10.6 39.4l-1.5-.6M10.6 44.2l-1.5-.4M10.6 49l-1.6-.2M10.6 53.8l-1.6-.1M10.6 58.6l-1.6 .1M10.6 63.4l-1.6 .3M10.6 68.2l-1.5 .4M10.6 73l-1.5 .6M10.6 77.8l-1.5 .7M10.6 82.6l-1.5 .9M10.6 87.4l-1.5 1M10.6 92.2l-1.5 1.2M10.6 97l-1.5 1.3M10.6 101.8l-1.5 1.5M10.6 106.6l-1.5 1.6M10.6 111.4l-1.4 1.8M15.4 1l-1.3-1.7M15.4 5.8l-1.3-1.6M15.4 10.6l-1.3-1.5M15.4 15.4l-1.3-1.3M15.4 20.2l-1.4-1.2M15.4 25l-1.4-1M15.4 29.8l-1.4-.9M15.4 34.6l-1.4-.7M15.4 39.4l-1.4-.6M15.4 44.2l-1.4-.4M15.4 49l-1.4-.2M15.4 53.8l-1.4-.1M15.4 58.6l-1.4 .1M15.4 63.4l-1.4 .3M15.4 68.2l-1.4 .4M15.4 73l-1.4 .6M15.4 77.8l-1.4 .7M15.4 82.6l-1.4 .9M15.4 87.4l-1.4 1.1M15.4 92.2l-1.4 1.2M15.4 97l-1.3 1.3M15.4 101.8l-1.3 1.5M15.4 106.6l-1.3 1.6M15.4 111.4l-1.3 1.8M20.2 1l-1.2-1.8M20.2 5.8l-1.2-1.6M20.2 10.6l-1.2-1.5M20.2 15.4l-1.2-1.3M20.2 20.2l-1.2-1.2M20.2 25l-1.2-1M20.2 29.8l-1.2-.9M20.2 34.6l-1.3-.7M20.2 39.4l-1.3-.6M20.2 44.2l-1.3-.4M20.2 49l-1.3-.2M20.2 53.8l-1.3-.1M20.2 58.6l-1.3 .1M20.2 63.4l-1.3 .3M20.2 68.2l-1.3 .4M20.2 73l-1.3 .6M20.2 77.8l-1.3 .8M20.2 82.6l-1.2 .9M20.2 87.4l-1.2 1.1M20.2 92.2l-1.2 1.2M20.2 97l-1.2 1.4M20.2 101.8l-1.2 1.5M20.2 106.6l-1.2 1.6M20.2 111.4l-1.2 1.8M25 1l-1-1.8M25 5.8l-1-1.6M25 10.6l-1-1.5M25 15.4l-1-1.3M25 20.2l-1.1-1.2M25 25l-1.1-1.1M25 29.8l-1.1-.9M25 34.6l-1.1-.8M25 39.4l-1.1-.6M25 44.2l-1.1-.4M25 49l-1.2-.3M25 53.8l-1.2-.1M25 58.6l-1.2 .1M25 63.4l-1.2 .3M25 68.2l-1.1 .5M25 73l-1.1 .6M25 77.8l-1.1 .8M25 82.6l-1.1 .9M25 87.4l-1.1 1.1M25 92.2l-1.1 1.2M25 97l-1 1.4M25 101.8l-1 1.5M25 106.6l-1 1.7M25 111.4l-1 1.8M29.8 1l-.9-1.8M29.8 5.8l-.9-1.6M29.8 10.6l-.9-1.5M29.8 15.4l-.9-1.4M29.8 20.2l-.9-1.2M29.8 25l-.9-1.1M29.8 29.8l-.9-.9M29.8 34.6l-1-.8M29.8 39.4l-1-.6M29.8 44.2l-1-.4M29.8 49l-1-.3M29.8 53.8l-1-.1M29.8 58.6l-1 .1M29.8 63.4l-1 .3M29.8 68.2l-1 .5M29.8 73l-1 .6M29.8 77.8l-1 .8M29.8 82.6l-.9 1M29.8 87.4l-.9 1.1M29.8 92.2l-.9 1.2M29.8 97l-.9 1.4M29.8 101.8l-.9 1.5M29.8 106.6l-.9 1.7M29.8 111.4l-.9 1.8M34.6 1l-.7-1.8M34.6 5.8l-.7-1.7M34.6 10.6l-.7-1.5M34.6 15.4l-.7-1.4M34.6 20.2l-.8-1.2M34.6 25l-.8-1.1M34.6 29.8l-.8-.9M34.6 34.6l-.8-.8M34.6 39.4l-.8-.6M34.6 44.2l-.9-.5M34.6 49l-.9-.3M34.6 53.8l-.9-.1M34.6 58.6l-.9 .1M34.6 63.4l-.9 .3M34.6 68.2l-.9 .5M34.6 73l-.8 .7M34.6 77.8l-.8 .8M34.6 82.6l-.8 1M34.6 87.4l-.8 1.1M34.6 92.2l-.8 1.3M34.6 97l-.7 1.4M34.6 101.8l-.7 1.5M34.6 106.6l-.7 1.7M34.6 111.4l-.7 1.8M39.4 1l-.6-1.8M39.4 5.8l-.6-1.7M39.4 10.6l-.6-1.5M39.4 15.4l-.6-1.4M39.4 20.2l-.6-1.2M39.4 25l-.6-1.1M39.4 29.8l-.6-1M39.4 34.6l-.7-.8M39.4 39.4l-.7-.7M39.4 44.2l-.7-.5M39.4 49l-.7-.3M39.4 53.8l-.8-.1M39.4 58.6l-.8 .1M39.4 63.4l-.7 .3M39.4 68.2l-.7 .5M39.4 73l-.7 .7M39.4 77.8l-.6 .8M39.4 82.6l-.6 1M39.4 87.4l-.6 1.1M39.4 92.2l-.6 1.3M39.4 97l-.6 1.4M39.4 101.8l-.6 1.5M39.4 106.6l-.6 1.7M39.4 111.4l-.6 1.8M44.2 1l-.4-1.8M44.2 5.8l-.4-1.7M44.2 10.6l-.4-1.5M44.2 15.4l-.4-1.4M44.2 20.2l-.4-1.3M44.2 25l-.4-1.1M44.2 29.8l-.5-1M44.2 34.6l-.5-.8M44.2 39.4l-.5-.7M44.2 68.2l-.5 .6M44.2 73l-.5 .7M44.2 77.8l-.5 .9M44.2 82.6l-.5 1M44.2 87.4l-.4 1.1M44.2 92.2l-.4 1.3M44.2 97l-.4 1.4M44.2 101.8l-.4 1.6M44.2 106.6l-.4 1.7M44.2 111.4l-.4 1.8M49 1l-.2-1.8M49 5.8l-.2-1.7M49 10.6l-.3-1.5M49 15.4l-.3-1.4M49 20.2l-.3-1.3M49 25l-.3-1.1M49 29.8l-.3-1M49 34.6l-.3-.9M49 39.4l-.3-.7M49 73l-.3 .7M49 77.8l-.3 .9M49 82.6l-.3 1M49 87.4l-.3 1.2M49 92.2l-.3 1.3M49 97l-.3 1.4M49 101.8l-.2 1.6M49 106.6l-.2 1.7M49 111.4l-.2 1.8M53.8 1l-.1-1.8M53.8 5.8l-.1-1.7M53.8 10.6l-.1-1.5M53.8 15.4l-.1-1.4M53.8 20.2l-.1-1.3M53.8 25l-.1-1.1M53.8 29.8l-.1-1M53.8 34.6l-.1-.9M53.8 73l-.1 .8M53.8 77.8l-.1 .9M53.8 82.6l-.1 1M53.8 87.4l-.1 1.2M53.8 92.2l-.1 1.3M53.8 97l-.1 1.4M53.8 101.8l-.1 1.6M53.8 106.6l-.1 1.7M53.8 111.4l-.1 1.8M58.6 1l.1-1.8M58.6 5.8l.1-1.7M58.6 10.6l.1-1.5M58.6 15.4l.1-1.4M58.6 20.2l.1-1.3M58.6 25l.1-1.1M58.6 29.8l.1-1M58.6 34.6l.1-.9M58.6 73l.1 .8M58.6 77.8l.1 .9M58.6 82.6l.1 1M58.6 87.4l.1 1.2M58.6 92.2l.1 1.3M58.6 97l.1 1.4M58.6 101.8l.1 1.6M58.6 106.6l.1 1.7M58.6 111.4l.1 1.8M63.4 1l.2-1.8M63.4 5.8l.2-1.7M63.4 10.6l.2-1.5M63.4 15.4l.2-1.4M63.4 20.2l.3-1.3M63.4 25l.3-1.1M63.4 29.8l.3-1M63.4 34.6l.3-.9M63.4 39.4l.3-.7M63.4 73l.3 .8M63.4 77.8l.3 .9M63.4 82.6l.3 1M63.4 87.4l.3 1.2M63.4 92.2l.3 1.3M63.4 97l.2 1.4M63.4 101.8l.2 1.6M63.4 106.6l.2 1.7M63.4 111.4l.2 1.8M68.2 1l.4-1.8M68.2 5.8l.4-1.7M68.2 10.6l.4-1.5M68.2 15.4l.4-1.4M68.2 20.2l.4-1.3M68.2 25l.4-1.1M68.2 29.8l.5-1M68.2 34.6l.5-.8M68.2 39.4l.5-.7M68.2 68.2l.5 .6M68.2 73l.5 .7M68.2 77.8l.5 .9M68.2 82.6l.4 1M68.2 87.4l.4 1.1M68.2 92.2l.4 1.3M68.2 97l.4 1.4M68.2 101.8l.4 1.6M68.2 106.6l.4 1.7M68.2 111.4l.4 1.8M73 1l.5-1.8M73 5.8l.6-1.7M73 10.6l.6-1.5M73 15.4l.6-1.4M73 20.2l.6-1.3M73 25l.6-1.1M73 29.8l.6-1M73 34.6l.6-.8M73 39.4l.7-.7M73 44.2l.7-.5M73 49l.7-.3M73 63.4l.7 .3M73 68.2l.7 .5M73 73l.7 .7M73 77.8l.6 .8M73 82.6l.6 1M73 87.4l.6 1.1M73 92.2l.6 1.3M73 97l.6 1.4M73 101.8l.6 1.5M73 106.6l.6 1.7M73 111.4l.5 1.8M77.8 1l.7-1.8M77.8 5.8l.7-1.7M77.8 10.6l.7-1.5M77.8 15.4l.7-1.4M77.8 20.2l.7-1.2M77.8 25l.8-1.1M77.8 29.8l.8-.9M77.8 34.6l.8-.8M77.8 39.4l.8-.6M77.8 44.2l.9-.5M77.8 49l.9-.3M77.8 53.8l.9-.1M77.8 58.6l.9 .1M77.8 63.4l.9 .3M77.8 68.2l.8 .5M77.8 73l.8 .7M77.8 77.8l.8 .8M77.8 82.6l.8 1M77.8 87.4l.8 1.1M77.8 92.2l.7 1.3M77.8 97l.7 1.4M77.8 101.8l.7 1.5M77.8 106.6l.7 1.7M77.8 111.4l.7 1.8M82.6 1l.9-1.8M82.6 5.8l.9-1.6M82.6 10.6l.9-1.5M82.6 15.4l.9-1.4M82.6 20.2l.9-1.2M82.6 25l.9-1.1M82.6 29.8l.9-.9M82.6 34.6l1-.8M82.6 39.4l1-.6M82.6 44.2l1-.4M82.6 49l1-.3M82.6 53.8l1-.1M82.6 58.6l1 .1M82.6 63.4l1 .3M82.6 68.2l1 .5M82.6 73l1 .6M82.6 77.8l1 .8M82.6 82.6l.9 1M82.6 87.4l.9 1.1M82.6 92.2l.9 1.2M82.6 97l.9 1.4M82.6 101.8l.9 1.5M82.6 106.6l.9 1.7M82.6 111.4l.8 1.8M87.4 1l1-1.8M87.4 5.8l1-1.6M87.4 10.6l1-1.5M87.4 15.4l1-1.3M87.4 20.2l1.1-1.2M87.4 25l1.1-1.1M87.4 29.8l1.1-.9M87.4 34.6l1.1-.8M87.4 39.4l1.1-.6M87.4 44.2l1.1-.4M87.4 49l1.1-.3M87.4 53.8l1.2-.1M87.4 58.6l1.2 .1M87.4 63.4l1.1 .3M87.4 68.2l1.1 .5M87.4 73l1.1 .6M87.4 77.8l1.1 .8M87.4 82.6l1.1 .9M87.4 87.4l1.1 1.1M87.4 92.2l1 1.2M87.4 97l1 1.4M87.4 101.8l1 1.5M87.4 106.6l1 1.7M87.4 111.4l1 1.8M92.2 1l1.2-1.8M92.2 5.8l1.2-1.6M92.2 10.6l1.2-1.5M92.2 15.4l1.2-1.3M92.2 20.2l1.2-1.2M92.2 25l1.2-1M92.2 29.8l1.2-.9M92.2 34.6l1.2-.7M92.2 39.4l1.3-.6M92.2 44.2l1.3-.4M92.2 49l1.3-.2M92.2 53.8l1.3-.1M92.2 58.6l1.3 .1M92.2 63.4l1.3 .3M92.2 68.2l1.3 .4M92.2 73l1.3 .6M92.2 77.8l1.2 .8M92.2 82.6l1.2 .9M92.2 87.4l1.2 1.1M92.2 92.2l1.2 1.2M92.2 97l1.2 1.4M92.2 101.8l1.2 1.5M92.2 106.6l1.2 1.6M92.2 111.4l1.1 1.8M97 1l1.3-1.7M97 5.8l1.3-1.6M97 10.6l1.3-1.5M97 15.4l1.3-1.3M97 20.2l1.3-1.2M97 25l1.4-1M97 29.8l1.4-.9M97 34.6l1.4-.7M97 39.4l1.4-.6M97 44.2l1.4-.4M97 49l1.4-.2M97 53.8l1.4-.1M97 58.6l1.4 .1M97 63.4l1.4 .3M97 68.2l1.4 .4M97 73l1.4 .6M97 77.8l1.4 .7M97 82.6l1.4 .9M97 87.4l1.4 1.1M97 92.2l1.3 1.2M97 97l1.3 1.3M97 101.8l1.3 1.5M97 106.6l1.3 1.6M97 111.4l1.3 1.8M101.8 1l1.4-1.7M101.8 5.8l1.5-1.6M101.8 10.6l1.5-1.5M101.8 15.4l1.5-1.3M101.8 20.2l1.5-1.2M101.8 25l1.5-1M101.8 29.8l1.5-.9M101.8 34.6l1.5-.7M101.8 39.4l1.5-.6M101.8 44.2l1.5-.4M101.8 49l1.5-.2M101.8 53.8l1.5-.1M101.8 58.6l1.5 .1M101.8 63.4l1.5 .3M101.8 68.2l1.5 .4M101.8 73l1.5 .6M101.8 77.8l1.5 .7M101.8 82.6l1.5 .9M101.8 87.4l1.5 1M101.8 92.2l1.5 1.2M101.8 97l1.5 1.3M101.8 101.8l1.5 1.5M101.8 106.6l1.4 1.6M101.8 111.4l1.4 1.8M106.6 1l1.6-1.7M106.6 5.8l1.6-1.6M106.6 10.6l1.6-1.4M106.6 15.4l1.6-1.3M106.6 20.2l1.6-1.2M106.6 25l1.6-1M106.6 29.8l1.6-.9M106.6 34.6l1.7-.7M106.6 39.4l1.7-.5M106.6 44.2l1.7-.4M106.6 49l1.7-.2M106.6 53.8l1.7-.1M106.6 58.6l1.7 .1M106.6 63.4l1.7 .3M106.6 68.2l1.7 .4M106.6 73l1.7 .6M106.6 77.8l1.7 .7M106.6 82.6l1.6 .9M106.6 87.4l1.6 1M106.6 92.2l1.6 1.2M106.6 97l1.6 1.3M106.6 101.8l1.6 1.5M106.6 106.6l1.6 1.6M106.6 111.4l1.6 1.8M111.4 1l1.7-1.7M111.4 5.8l1.7-1.6M111.4 10.6l1.7-1.4M111.4 15.4l1.8-1.3M111.4 20.2l1.8-1.1M111.4 25l1.8-1M111.4 29.8l1.8-.8M111.4 34.6l1.8-.7M111.4 39.4l1.8-.5M111.4 44.2l1.8-.4M111.4 49l1.8-.2M111.4 53.8l1.8-.1M111.4 58.6l1.8 .1M111.4 63.4l1.8 .3M111.4 68.2l1.8 .4M111.4 73l1.8 .6M111.4 77.8l1.8 .7M111.4 82.6l1.8 .9M111.4 87.4l1.8 1M111.4 92.2l1.8 1.2M111.4 97l1.8 1.3M111.4 101.8l1.7 1.5M111.4 106.6l1.7 1.6M111.4 111.4l1.7 1.7" fill="none" stroke="#2f64b8" stroke-width="0.8" stroke-opacity="0.75"/>
</g>
<g transform="translate(536.4,332.8)" clip-path="url(#c23)" stroke="#000" stroke-width="0.5" stroke-opacity="0.7">
<rect x="-2" y="-2" width="116.8" height="116.8" fill="#920000" stroke="none"/>
<circle cx="56.33" cy="55.95" r="85.2" fill="#cf0000"/>
<circle cx="56.37" cy="55.9" r="79.92" fill="#ff0d00"/>
<circle cx="56.25" cy="55.69" r="74.64" fill="#ff4a00"/>
<circle cx="56.11" cy="55.89" r="69.36" fill="#ff8700"/>
<circle cx="56.37" cy="55.93" r="64.08" fill="#ffc400"/>
<circle cx="56.31" cy="55.83" r="58.8" fill="#fdff02"/>
<circle cx="56.39" cy="55.84" r="53.52" fill="#c0ff3f"/>
<circle cx="56.14" cy="55.73" r="48.24" fill="#83ff7c"/>
<circle cx="56.4" cy="55.69" r="42.96" fill="#46ffb9"/>
<circle cx="56.15" cy="55.77" r="37.68" fill="#09fff6"/>
<circle cx="56.18" cy="55.94" r="32.4" fill="#00cbff"/>
<circle cx="56.22" cy="55.69" r="27.12" fill="#008eff"/>
<circle cx="56.11" cy="55.68" r="21.84" fill="#0051ff"/>
<circle cx="56.24" cy="55.74" r="16.56" fill="#0014ff"/>
<circle cx="56.26" cy="55.81" r="11.28" fill="#0000d6"/>
<circle cx="56.2" cy="55.68" r="6" fill="#000099"/>
<path d="M1 1l-1.7-1.7M1 5.8l-1.7-1.6M1 10.6l-1.8-1.4M1 15.4l-1.8-1.3M1 20.2l-1.8-1.1M1 25l-1.8-1M1 29.8l-1.8-.8M1 34.6l-1.8-.7M1 39.4l-1.8-.5M1 44.2l-1.8-.4M1 49l-1.8-.2M1 53.8l-1.8-.1M1 58.6l-1.8 .1M1 63.4l-1.8 .2M1 68.2l-1.8 .4M1 73l-1.8 .6M1 77.8l-1.8 .7M1 82.6l-1.8 .9M1 87.4l-1.8 1M1 92.2l-1.8 1.2M1 97l-1.8 1.3M1 101.8l-1.7 1.5M1 106.6l-1.7 1.6M1 111.4l-1.7 1.7M5.8 1l-1.6-1.7M5.8 5.8l-1.6-1.6M5.8 10.6l-1.6-1.4M5.8 15.4l-1.6-1.3M5.8 20.2l-1.6-1.2M5.8 25l-1.6-1M5.8 29.8l-1.7-.9M5.8 34.6l-1.7-.7M5.8 39.4l-1.7-.5M5.8 44.2l-1.7-.4M5.8 49l-1.7-.2M5.8 53.8l-1.7-.1M5.8 58.6l-1.7 .1M5.8 63.4l-1.7 .3M5.8 68.2l-1.7 .4M5.8 73l-1.7 .6M5.8 77.8l-1.7 .7M5.8 82.6l-1.7 .9M5.8 87.4l-1.6 1M5.8 92.2l-1.6 1.2M5.8 97l-1.6 1.3M5.8 101.8l-1.6 1.5M5.8 106.6l-1.6 1.6M5.8 111.4l-1.6 1.8M10.6 1l-1.4-1.7M10.6 5.8l-1.5-1.6M10.6 10.6l-1.5-1.5M10.6 15.4l-1.5-1.3M10.6 20.2l-1.5-1.2M10.6 25l-1.5-1M10.6 29.8l-1.5-.9M10.6 34.6l-1.5-.7M10.6 39.4l-1.5-.6M10.6 44.2l-1.5-.4M10.6 49l-1.6-.2M10.6 53.8l-1.6-.1M10.6 58.6l-1.6 .1M10.6 63.4l-1.6 .3M10.6 68.2l-1.5 .4M10.6 73l-1.5 .6M10.6 77.8l-1.5 .7M10.6 82.6l-1.5 .9M10.6 87.4l-1.5 1M10.6 92.2l-1.5 1.2M10.6 97l-1.5 1.3M10.6 101.8l-1.5 1.5M10.6 106.6l-1.5 1.6M10.6 111.4l-1.4 1.8M15.4 1l-1.3-1.7M15.4 5.8l-1.3-1.6M15.4 10.6l-1.3-1.5M15.4 15.4l-1.3-1.3M15.4 20.2l-1.3-1.2M15.4 25l-1.4-1M15.4 29.8l-1.4-.9M15.4 34.6l-1.4-.7M15.4 39.4l-1.4-.6M15.4 44.2l-1.4-.4M15.4 49l-1.4-.2M15.4 53.8l-1.4-.1M15.4 58.6l-1.4 .1M15.4 63.4l-1.4 .3M15.4 68.2l-1.4 .4M15.4 73l-1.4 .6M15.4 77.8l-1.4 .7M15.4 82.6l-1.4 .9M15.4 87.4l-1.4 1.1M15.4 92.2l-1.3 1.2M15.4 97l-1.3 1.3M15.4 101.8l-1.3 1.5M15.4 106.6l-1.3 1.6M15.4 111.4l-1.3 1.8M20.2 1l-1.2-1.8M20.2 5.8l-1.2-1.6M20.2 10.6l-1.2-1.5M20.2 15.4l-1.2-1.3M20.2 20.2l-1.2-1.2M20.2 25l-1.2-1M20.2 29.8l-1.2-.9M20.2 34.6l-1.2-.7M20.2 39.4l-1.3-.6M20.2 44.2l-1.3-.4M20.2 49l-1.3-.2M20.2 53.8l-1.3-.1M20.2 58.6l-1.3 .1M20.2 63.4l-1.3 .3M20.2 68.2l-1.3 .4M20.2 73l-1.3 .6M20.2 77.8l-1.2 .8M20.2 82.6l-1.2 .9M20.2 87.4l-1.2 1.1M20.2 92.2l-1.2 1.2M20.2 97l-1.2 1.4M20.2 101.8l-1.2 1.5M20.2 106.6l-1.2 1.6M20.2 111.4l-1.2 1.8M25 1l-1-1.8M25 5.8l-1-1.6M25 10.6l-1-1.5M25 15.4l-1-1.3M25 20.2l-1.1-1.2M25 25l-1.1-1.1M25 29.8l-1.1-.9M25 34.6l-1.1-.8M25 39.4l-1.1-.6M25 44.2l-1.1-.4M25 49l-1.2-.3M25 53.8l-1.2-.1M25 58.6l-1.2 .1M25 63.4l-1.2 .3M25 68.2l-1.1 .5M25 73l-1.1 .6M25 77.8l-1.1 .8M25 82.6l-1.1 .9M25 87.4l-1.1 1.1M25 92.2l-1.1 1.2M25 97l-1 1.4M25 101.8l-1 1.5M25 106.6l-1 1.7M25 111.4l-1 1.8M29.8 1l-.9-1.8M29.8 5.8l-.9-1.6M29.8 10.6l-.9-1.5M29.8 15.4l-.9-1.4M29.8 20.2l-.9-1.2M29.8 25l-.9-1.1M29.8 29.8l-.9-.9M29.8 34.6l-1-.8M29.8 39.4l-1-.6M29.8 44.2l-1-.4M29.8 49l-1-.3M29.8 53.8l-1-.1M29.8 58.6l-1 .1M29.8 63.4l-1 .3M29.8 68.2l-1 .5M29.8 73l-1 .6M29.8 77.8l-1 .8M29.8 82.6l-.9 1M29.8 87.4l-.9 1.1M29.8 92.2l-.9 1.2M29.8 97l-.9 1.4M29.8 101.8l-.9 1.5M29.8 106.6l-.9 1.7M29.8 111.4l-.9 1.8M34.6 1l-.7-1.8M34.6 5.8l-.7-1.7M34.6 10.6l-.7-1.5M34.6 15.4l-.7-1.4M34.6 20.2l-.8-1.2M34.6 25l-.8-1.1M34.6 29.8l-.8-.9M34.6 34.6l-.8-.8M34.6 39.4l-.8-.6M34.6 44.2l-.9-.5M34.6 49l-.9-.3M34.6 53.8l-.9-.1M34.6 58.6l-.9 .1M34.6 63.4l-.9 .3M34.6 68.2l-.9 .5M34.6 73l-.8 .7M34.6 77.8l-.8 .8M34.6 82.6l-.8 1M34.6 87.4l-.8 1.1M34.6 92.2l-.7 1.3M34.6 97l-.7 1.4M34.6 101.8l-.7 1.5M34.6 106.6l-.7 1.7M34.6 111.4l-.7 1.8M39.4 1l-.6-1.8M39.4 5.8l-.6-1.7M39.4 10.6l-.6-1.5M39.4 15.4l-.6-1.4M39.4 20.2l-.6-1.3M39.4 25l-.6-1.1M39.4 29.8l-.6-1M39.4 34.6l-.7-.8M39.4 39.4l-.7-.7M39.4 44.2l-.7-.5M39.4 49l-.7-.3M39.4 58.6l-.8 .1M39.4 63.4l-.7 .3M39.4 68.2l-.7 .5M39.4 73l-.7 .7M39.4 77.8l-.6 .8M39.4 82.6l-.6 1M39.4 87.4l-.6 1.1M39.4 92.2l-.6 1.3M39.4 97l-.6 1.4M39.4 101.8l-.6 1.5M39.4 106.6l-.6 1.7M39.4 111.4l-.6 1.8M44.2 1l-.4-1.8M44.2 5.8l-.4-1.7M44.2 10.6l-.4-1.5M44.2 15.4l-.4-1.4M44.2 20.2l-.4-1.3M44.2 25l-.4-1.1M44.2 29.8l-.5-1M44.2 34.6l-.5-.8M44.2 39.4l-.5-.7M44.2 68.2l-.5 .6M44.2 73l-.5 .7M44.2 77.8l-.5 .9M44.2 82.6l-.5 1M44.2 87.4l-.4 1.1M44.2 92.2l-.4 1.3M44.2 97l-.4 1.4M44.2 101.8l-.4 1.6M44.2 106.6l-.4 1.7M44.2 111.4l-.4 1.8M49 1l-.2-1.8M49 5.8l-.2-1.7M49 10.6l-.2-1.5M49 15.4l-.3-1.4M49 20.2l-.3-1.3M49 25l-.3-1.1M49 29.8l-.3-1M49 34.6l-.3-.9M49 39.4l-.3-.7M49 73l-.3 .7M49 77.8l-.3 .9M49 82.6l-.3 1M49 87.4l-.3 1.2M49 92.2l-.3 1.3M49 97l-.3 1.4M49 101.8l-.2 1.6M49 106.6l-.2 1.7M49 111.4l-.2 1.8M53.8 1l-.1-1.8M53.8 5.8l-.1-1.7M53.8 10.6l-.1-1.5M53.8 15.4l-.1-1.4M53.8 20.2l-.1-1.3M53.8 25l-.1-1.1M53.8 29.8l-.1-1M53.8 34.6l-.1-.9M53.8 73l-.1 .8M53.8 77.8l-.1 .9M53.8 82.6l-.1 1M53.8 87.4l-.1 1.2M53.8 92.2l-.1 1.3M53.8 97l-.1 1.4M53.8 101.8l-.1 1.6M53.8 106.6l-.1 1.7M53.8 111.4l-.1 1.8M58.6 1l.1-1.8M58.6 5.8l.1-1.7M58.6 10.6l.1-1.5M58.6 15.4l.1-1.4M58.6 20.2l.1-1.3M58.6 25l.1-1.1M58.6 29.8l.1-1M58.6 34.6l.1-.9M58.6 73l.1 .8M58.6 77.8l.1 .9M58.6 82.6l.1 1M58.6 87.4l.1 1.2M58.6 92.2l.1 1.3M58.6 97l.1 1.4M58.6 101.8l.1 1.6M58.6 106.6l.1 1.7M58.6 111.4l.1 1.8M63.4 1l.2-1.8M63.4 5.8l.2-1.7M63.4 10.6l.2-1.5M63.4 15.4l.2-1.4M63.4 20.2l.3-1.3M63.4 25l.3-1.1M63.4 29.8l.3-1M63.4 34.6l.3-.9M63.4 39.4l.3-.7M63.4 73l.3 .8M63.4 77.8l.3 .9M63.4 82.6l.3 1M63.4 87.4l.3 1.2M63.4 92.2l.3 1.3M63.4 97l.2 1.4M63.4 101.8l.2 1.6M63.4 106.6l.2 1.7M63.4 111.4l.2 1.8M68.2 1l.4-1.8M68.2 5.8l.4-1.7M68.2 10.6l.4-1.5M68.2 15.4l.4-1.4M68.2 20.2l.4-1.3M68.2 25l.4-1.1M68.2 29.8l.5-1M68.2 34.6l.5-.8M68.2 39.4l.5-.7M68.2 68.2l.5 .6M68.2 73l.5 .7M68.2 77.8l.5 .9M68.2 82.6l.5 1M68.2 87.4l.4 1.1M68.2 92.2l.4 1.3M68.2 97l.4 1.4M68.2 101.8l.4 1.6M68.2 106.6l.4 1.7M68.2 111.4l.4 1.8M73 1l.5-1.8M73 5.8l.6-1.7M73 10.6l.6-1.5M73 15.4l.6-1.4M73 20.2l.6-1.3M73 25l.6-1.1M73 29.8l.6-1M73 34.6l.6-.8M73 39.4l.7-.7M73 44.2l.7-.5M73 49l.7-.3M73 63.4l.7 .3M73 68.2l.7 .5M73 73l.7 .7M73 77.8l.6 .8M73 82.6l.6 1M73 87.4l.6 1.1M73 92.2l.6 1.3M73 97l.6 1.4M73 101.8l.6 1.5M73 106.6l.6 1.7M73 111.4l.5 1.8M77.8 1l.7-1.8M77.8 5.8l.7-1.7M77.8 10.6l.7-1.5M77.8 15.4l.7-1.4M77.8 20.2l.7-1.2M77.8 25l.8-1.1M77.8 29.8l.8-.9M77.8 34.6l.8-.8M77.8 39.4l.8-.6M77.8 44.2l.9-.5M77.8 49l.9-.3M77.8 53.8l.9-.1M77.8 58.6l.9 .1M77.8 63.4l.9 .3M77.8 68.2l.9 .5M77.8 73l.8 .7M77.8 77.8l.8 .8M77.8 82.6l.8 1M77.8 87.4l.8 1.1M77.8 92.2l.7 1.3M77.8 97l.7 1.4M77.8 101.8l.7 1.5M77.8 106.6l.7 1.7M77.8 111.4l.7 1.8M82.6 1l.9-1.8M82.6 5.8l.9-1.6M82.6 10.6l.9-1.5M82.6 15.4l.9-1.4M82.6 20.2l.9-1.2M82.6 25l.9-1.1M82.6 29.8l.9-.9M82.6 34.6l1-.8M82.6 39.4l1-.6M82.6 44.2l1-.4M82.6 49l1-.3M82.6 53.8l1-.1M82.6 58.6l1 .1M82.6 63.4l1 .3M82.6 68.2l1 .5M82.6 73l1 .6M82.6 77.8l1 .8M82.6 82.6l.9 1M82.6 87.4l.9 1.1M82.6 92.2l.9 1.2M82.6 97l.9 1.4M82.6 101.8l.9 1.5M82.6 106.6l.9 1.7M82.6 111.4l.9 1.8M87.4 1l1-1.8M87.4 5.8l1-1.6M87.4 10.6l1-1.5M87.4 15.4l1-1.3M87.4 20.2l1.1-1.2M87.4 25l1.1-1.1M87.4 29.8l1.1-.9M87.4 34.6l1.1-.8M87.4 39.4l1.1-.6M87.4 44.2l1.1-.4M87.4 49l1.1-.3M87.4 53.8l1.2-.1M87.4 58.6l1.2 .1M87.4 63.4l1.1 .3M87.4 68.2l1.1 .5M87.4 73l1.1 .6M87.4 77.8l1.1 .8M87.4 82.6l1.1 .9M87.4 87.4l1.1 1.1M87.4 92.2l1.1 1.2M87.4 97l1 1.4M87.4 101.8l1 1.5M87.4 106.6l1 1.7M87.4 111.4l1 1.8M92.2 1l1.2-1.8M92.2 5.8l1.2-1.6M92.2 10.6l1.2-1.5M92.2 15.4l1.2-1.3M92.2 20.2l1.2-1.2M92.2 25l1.2-1M92.2 29.8l1.2-.9M92.2 34.6l1.2-.7M92.2 39.4l1.3-.6M92.2 44.2l1.3-.4M92.2 49l1.3-.2M92.2 53.8l1.3-.1M92.2 58.6l1.3 .1M92.2 63.4l1.3 .3M92.2 68.2l1.3 .4M92.2 73l1.3 .6M92.2 77.8l1.2 .8M92.2 82.6l1.2 .9M92.2 87.4l1.2 1.1M92.2 92.2l1.2 1.2M92.2 97l1.2 1.4M92.2 101.8l1.2 1.5M92.2 106.6l1.2 1.6M92.2 111.4l1.2 1.8M97 1l1.3-1.7M97 5.8l1.3-1.6M97 10.6l1.3-1.5M97 15.4l1.3-1.3M97 20.2l1.3-1.2M97 25l1.4-1M97 29.8l1.4-.9M97 34.6l1.4-.7M97 39.4l1.4-.6M97 44.2l1.4-.4M97 49l1.4-.2M97 53.8l1.4-.1M97 58.6l1.4 .1M97 63.4l1.4 .3M97 68.2l1.4 .4M97 73l1.4 .6M97 77.8l1.4 .7M97 82.6l1.4 .9M97 87.4l1.4 1.1M97 92.2l1.3 1.2M97 97l1.3 1.3M97 101.8l1.3 1.5M97 106.6l1.3 1.6M97 111.4l1.3 1.8M101.8 1l1.4-1.7M101.8 5.8l1.5-1.6M101.8 10.6l1.5-1.5M101.8 15.4l1.5-1.3M101.8 20.2l1.5-1.2M101.8 25l1.5-1M101.8 29.8l1.5-.9M101.8 34.6l1.5-.7M101.8 39.4l1.5-.6M101.8 44.2l1.5-.4M101.8 49l1.5-.2M101.8 53.8l1.6-.1M101.8 58.6l1.6 .1M101.8 63.4l1.5 .3M101.8 68.2l1.5 .4M101.8 73l1.5 .6M101.8 77.8l1.5 .7M101.8 82.6l1.5 .9M101.8 87.4l1.5 1M101.8 92.2l1.5 1.2M101.8 97l1.5 1.3M101.8 101.8l1.5 1.5M101.8 106.6l1.5 1.6M101.8 111.4l1.4 1.8M106.6 1l1.6-1.7M106.6 5.8l1.6-1.6M106.6 10.6l1.6-1.4M106.6 15.4l1.6-1.3M106.6 20.2l1.6-1.2M106.6 25l1.6-1M106.6 29.8l1.7-.9M106.6 34.6l1.7-.7M106.6 39.4l1.7-.5M106.6 44.2l1.7-.4M106.6 49l1.7-.2M106.6 53.8l1.7-.1M106.6 58.6l1.7 .1M106.6 63.4l1.7 .3M106.6 68.2l1.7 .4M106.6 73l1.7 .6M106.6 77.8l1.7 .7M106.6 82.6l1.6 .9M106.6 87.4l1.6 1M106.6 92.2l1.6 1.2M106.6 97l1.6 1.3M106.6 101.8l1.6 1.5M106.6 106.6l1.6 1.6M106.6 111.4l1.6 1.8M111.4 1l1.7-1.7M111.4 5.8l1.7-1.6M111.4 10.6l1.7-1.4M111.4 15.4l1.8-1.3M111.4 20.2l1.8-1.1M111.4 25l1.8-1M111.4 29.8l1.8-.8M111.4 34.6l1.8-.7M111.4 39.4l1.8-.5M111.4 44.2l1.8-.4M111.4 49l1.8-.2M111.4 53.8l1.8-.1M111.4 58.6l1.8 .1M111.4 63.4l1.8 .2M111.4 68.2l1.8 .4M111.4 73l1.8 .6M111.4 77.8l1.8 .7M111.4 82.6l1.8 .9M111.4 87.4l1.8 1M111.4 92.2l1.8 1.2M111.4 97l1.8 1.3M111.4 101.8l1.7 1.5M111.4 106.6l1.7 1.6M111.4 111.4l1.7 1.7" fill="none" stroke="#2f64b8" stroke-width="0.8" stroke-opacity="0.75"/>
</g>
<g transform="translate(88.2,480.4)" clip-path="url(#c30)" stroke="#000" stroke-width="0.45" stroke-opacity="0.6">
<rect x="-2" y="-2" width="116.8" height="116.6" fill="#0312f2" stroke="none"/>
<path d="M-3-3l1.9 0 1.8 0-.2 1.9-1.6 .5-1.9 0 0-.5zM6.9-3l1.4 0 1.9 0 1.9 0 1.9 0 1.9 0 1.1 0-1.1 1.9 .5 1.9-.4 1.8 1.7 1.6 1.9-1.1 .2-.5 .6-1.8-.8-1.5-.4-.4-1-1.9 1.4 0 1.9 0 1.9 0 1.9 0 1.9 0 1.9 0 1.8 0 1.9 0 1.9 0 1.9 0 1.9 0 1.9 0 1.9 0 1.8 0 1.9 0 1.9 0 1.9 0 1.9 0 1.9 0 .8 0 1.1 .7 1.8 .5 .9-1.2 1 0 1.9 0 1.9 0 1.9 0 1.9 0 1.9 0 1.2 0 .6 .6 1.9 .3 1.1 1-.9 1.9 1.1 1.8 .6 .7 1.8 1.2-.1 1.9 .2 .2 1.5 1.7 .4 .2 .9-.2 1-.4 1.9-.3 1.8 .6 .1 .1 1.8 1.3 .9-1.3 0-1.9 1-1.8 .2-.1 1.7-.3 .7-1.6-.7-.7-1.9 .6-1.9-.3-1.9 .2-1-1.6-.8-1.4-.8-.5-1.1-.5-1.9-.6-.9-.8 .9 0 1.9 0 1.9 0 1.8 0 1.9 0 1.9 0 1.9 0 1.9 0 1.9 0 1.9 0 1.8 0 1.9 0 .8 0 .3 1.9-.1 1.9-.4 1.8 .7 1.9 .6 1.6 1.9-1 1 1.3-1 1-1.9-.6-1.1 1.5-.4 1.9 1.5 .9 1.9-.6 .2-.3 1.7-.7 1.9 .2 .9 .5-.3 1.9-.6 .5-1.5 1.3 1.1 1.9-.5 1.9 .9 1.5 1.9-.9 .6-.6 1.2-.6 .4 .6-.2 1.9 1.7 .4 1.8 1.5 .1 .1 1.2 1.8 .7 1.8 0 1.9 0 .5-1.3 1.4-.6 .3-1.1 1.6 1.1 .7 1.9-.4 0 1.6 0 1.9 0 1.8 0 1.9 0 1.9 0 1.9 0 1.9 0 1.8 0 1.9 0 1.9 0 1.9 0 1.9 0 1.9 0 1.8 0 1.9 0 1.9 0 1.9 0 1.9 0 1.9 0 1.8 0 1.9 0 1.9 0 1.9 0 1.9 0 1.8 0 1.9 0 1.9 0 1.9 0 .5-1.9 .6-1.9 .3-.4 .5 .4 .3 1.9 .3 1.9 .2 0 1.1 0 1.8 0 1.9-1.9 0-.1 0 .1 .1 1.9 0 0 1.8 0 1.9 0 1.9 0 1.9 0 1.8 0 1.9 0 1.9 0 1.9 0 1.8-.1 .1-1.8 1.3-1.3 .6 .9 1.8 .4 1.3 .2 .6 .2 1.9-.4 0-1.9 0-1.1 0-.8-.9-1.8 .3-1.9 .5-.4 .1-1.5 0-1.9 0-1.9 0-1.9 0-1.9 0-1.8 0-1.9 0-1.9 0-1.9 0-1.9 0-1.9 0-1.9 0-1.8 0-1.9 0-1.5 0 .4-1.9-.8-1.6-.9-.3-1-.4-.7-1.4 .3-1.9-.5-1.9-1-.9-1.9 .8-.7 .1-1.2 .2-1.8 .3-1.5 1.4 1.4 1.9 .1 0 1.5 1.8 .3 1 1.9 .9 1.6 1.9-1.6 0-1.9 0-1.8 0-1.9 0-1.9 0-1.9 0-1.9 0-1.9 0-.8 0-1.1-.3-.9-1.6-.6-1.9-.3-.3-1.9 .1-1 .2-.9 .3-1.5 1.6-.4 1-.1-1-.6-1.9-1.2-.6-1.9 .6-.9 1.9 .9 1 1.9 0 1.8 .9-1.8 0-1.9 0-1.9 0-1.8 0-1.9 0-1.9 0-1.9 0-1.9 0-1.6 0-.3-.5-1.6-1.4-.3-.2-.2 .2-1.6 1.2-1.9-.6-1-.6 1-1 .8-.9-.8-.9-1.9 .6-1.9 .2-1.3 .1-.6 .2-.9 1.7 .9 1.2 1.9-.5 1.9 0 .7 1.2-.7 0-1.9 0-1.9 0-1.9 0-1.9 0-1.8 0-1.9 0-1.9 0-1.7 0-.2-.2-1.9-.5-1.9 .5-.2 .2-1.7 0-1.8 0-1.9 0-1.9 0-1.9 0 0-1.9 0-1.9 0-1.8 0-1.9 0-1.9 0-1.9 0-1.9 0-1.9 0-1.8 0-1.9 0-1.1 1.9 0 1-.8 .7-1.9-1.2-1.9 1.4-1 .6-.9 .8-1.8 .5-.5 1-1.4-.2-1.9 .9-1.9-.4-1.9-1.3-.6-1.9 .3-1.8-1.6-.1-1.8 0-.1-1.9-.6 0-1.2 0-1.9 0-1.7 .3-.2-.1-1.9-.2-.4 0-1.4 0-1.9 0-1.9 0-1.9 0-1.9 0-1.9 0-1.8 0-1.2 .5-.7 .4-1.9 1-.8 1.9-1 .3-.1 1.6-1.3 .2-.6 1.6-1.3 1.9 .9 1.9-1.5 .2-1.8-.2-.8-1.3-1.1-.6-.3-.3 .3-1.6 .9-1.8 .3-1.4-1.2 1.4-1.3 1.4-.6 .4-.2 1.6-1.7 .2-1.9-1.8-.9-.6-.9-.4-1.9 .3-1.9 .2-1.9 .4-1.9-1.7-.6-1.9-.1-1.5-1.2-.4-1.1-1.9 .2 0-.9 0-1.9 0-1.9 0-1.9 0-1.9 0-1.9 0-1.8 0-1.1 1.9-.5 .5-.3-.5-1.9 .5-1.9 .5-1.9 .9-1 .9-.9 1-.5 1.5-1.3 .3-.4 1.9-1.1 .3-.4zM10.2 5.8l-.7 .6 .7 1.5 1.9-.5 1.9 .1 .3 .8-.3 1.2-.5 .7 .5 .3 1.1 1.6 .8 .6 .4-.6 .6-1.9-.1-1.9-.9-1.6-.7-.3-1.2-.9-1.9-.3zM19.6 49.6l0 .1 0 .1 .1-.1zM25.3 6.2l-.6 .2 0 1.9 .6 1.9 1.7 1.9 .2 .3 .1-.3 1.8-.5 1.8-.9 1.4-.5 .5-1.5 .2-.4 0-1.9-.2-1.3-1.9 .3-1.8-.1-1.9-.4zM40.4 6l-.6 .4 .1 1.9 .5 1 1.4-1-.5-1.9zM44.1 6.3l-.5 .1 .5 .4 .2-.4zM57.3 2.4l-.6 .2-1.2 1.4-1.1 .5 1.1 .5 1.8 1.3 1.1 .1-1.1 .1-1.8 .4-1.9-.3-1.9 .4-1.9 0-1.9 .7-.2 .6 .2 .6 .9 1.3 1 .5 1.9 .1 1.9 1 .3 .3 .3 1.8-.6 .4-1.9 1.5 1.2 1.9 .1 1.9-.9 1.9 .6 1.9-1 1-1.9 .1-1.1 .7 1.1 1.6 .2 .3 1.7 1.3 1.2 .6 .7 .3 .6-.3 .5-1.9-.3-1.9 1.1-.5 1.8-.7 .4-.6 .6-1.9 .9-.9 1.9-.7 1.9 1.3 1.3 .3-1.3 .9-.2 1 0 1.8 .2 .5 1.1 1.4 .8 .5 1.2-.5 .7-1.8 0-.1 1.1-1.8 .8-.2 1.8-1.1 .5-.6 1.3-1.9-.2-1.9-1.6-1.8-.7-.1 .7-.2 .5-1.7 1.4-1.5 1.2-.3 .7-.6 .3-1.3-.3-1.7-.5-.2-1.4-.2-.2 .2-1.7 1.3-1.8-.3-1.9 .6-.8 .3-.4 1.9 .4 1.8 .8 .9 1.6 1-1.6 .5-1.9 .1-1.9 1.1-.4 .2-1.5 1.4-1.9-.2-1.5-1.2-.4-.3-1.3-1.6-.2-1.9 1.5-1.8 1.9-1.9 0-.1 1.9-.6 1.9-.8 .1-.4 .2-1.9-.3-.8-1.9-.1-1.7-1-.2-.6-.6-1.3zM80 14.3l-1.6 1.5 1.6 .7 1.2-.7zM85.6 24.4l-1.4 .8 .9 1.9 .5 .5 .3-.5 .9-1.9zM87.5 23l-.4 .4 .4 .6 .4-.6zM91.3 6.1l-.2 .3-1.5 1.9-.2 .7-.4 1.2-.9 1.9 .1 1.8-.2 1.9 1.4 .4 .8-.4 1.1-.5 1-1.4 .9-1.6 .1-.2 .4-1.9 .5-1.9-1-1.7-.6-.2zM95.1 4.2l-1.4 .3 1.4 1.4 .6-1.4zM98.8 24.8l-.7 .4-1.2 .9-1.8 .6-.6 .4-.2 1.9 .8 1.4 1.8-.6 .6-.8 .7-1.9 .6-.8 1.9-.9 1.9 .8 .8 .9 1.1 1.1 1.1-1.1-1.1-1.1-.9-.8-1-.1-1.9 0zM100.7 13.8l0 .1 0 .1 1.9 .4 1.3-.5-1.3-1.2zM108.3 53.3l-.1 .2 .1 .2 1.8 0 .2-.2-.2-.2zM112 46.3l-.5 1.5 .5 .4 .3-.4zM-1.1 64.6l-.2 .2 .2 1.8 0 .1 1.9 1 .8 .8 .6 1.9-.4 1.9 .9 .7 .5-.7 1.2-1.9 .1-.1 .6-1.8 .6-1.8-1.2-.4-.7 .4-1.1 .9-1-.9-.8-1.9-.1-.2zM6.4 88.3l-.6 .9 .6 .8 .6-.8zM8.3 65.8l-1.5 .9 .4 1.8-.3 1.9 1.4 1.5 1.9-.1 1.2 .5-1.2 1.2-.5 .7-1.4 1.1-.5 .8 .5 1.5 1.9-.2 1.8 .5 .1 .2 .7 1.7 .1 1.9-.3 1.9-.5 1.9 1.9 1.1 1 .8-.9 1.8 1.4 1.9 .4 .1 1.8 .9 1.6-1-.6-1.9-1-1.2-1.1-.6 1.1-1.3 .7-.6-.7-1-.1-.9-1.1-1.9-.6-.9-1.4-1-.4-1.9-.1-.5-.7-1.3-.8-1.9 1.5-.6 1 .6 .9 .4 1.7-.4 .1-.2 .4-1.7-.4-.8-.5-1.1-.8-1.9-.5-.1-.2 .1-1 1.9-.7 .6-1.9 .8-.7-1.4 0-1.9-1.2-.7-1.4-1.1zM-1.1 13.6l-.7 .3 .7 .8 1.9-.3 .8-.5-.8-.6zM12.1 32.7l-.1 .1 .1 0 1.4 1.9 .5 1.5 .5-1.5 0-1.9-.5-.5zM14 26.7l-.4 .4 .4 .3 .5-.3zM25.3 12.9l-.9 1 .6 1.9 .3 .5 1.9-.1 .3-.4-.3-1-.6-.9zM40.4 12.9l-.6 1 .2 1.9 .4 .3 .8-.3 0-1.9zM49.8 43.8l-.4 .3-1.5 1.5-.6 .3 .6 1.4 1.9-.8 1-.6-.1-1.8zM53.6 47.8l-.1 0 .1 .1zM57.3 27.1l-.2 1.9 .2 .2 1.9 .6 .5-.8-.5-.7-1.7-1.2zM68.7 30l-1 .9-.9 1.3-1 .6-.9 .2-1.9 1-1.9 .3-1.9 .3-.1 .1 .1 0 1.8 1.8 .1 1.2 .1 .7-.1 .4-1 1.5 .7 1.9 .3 .4 1.9 .8 1.8-1.2 .1-.1 1.1-1.8 .8-.9 1.9-.6 .8-.4 1-.3 1.9-.6 .7-1 .7-1.8 .5-.1 .2 .1 1.5 1.8 .2 .7 1.9 .1 1.9-.2 .3-.6 .9-1.8 .7-1.5 .5-.4-.5-1.9 0-.1-1.9-1.2-1.9 .6-1.9-.5-1.9 .3-1.8 .9-.1 .1-.2-.1-1.7-.8zM91.3 47.4l-1.5 .4 1.5 1.6 .1 .3 1.8 1.5 1.4-1.5-1.4-1.8-.1-.1zM108.3 111.7l-.2 .1 .2 .2 1.8 .1 .2-.3-.2-.2zM110.1 106.1l-.2 .1-.2 1.9 .4 .9 1.7-.9-1.5-1.9zM12.1 109.4l-.8 .6 .8 1.4 .6-1.4zM25.3 30.3l-.9 .6-.9 1.9-.1 .4-.3 1.5 .3 .5 1.9-.1 1.9-.3 .9 1.7-.9 1.9-.1 0-.3 1.9-1.5 1-.4 .9-.7 1.9 1.1 1.5 .3 .3 .8 1.9 .7 1.9-.6 1.9-1.2 .9-1.9 0-1.9 .8-.1 .2 .1 .7 .2 1.2 1.7 1.4 .3 .4 .5 1.9-.2 1.9 .3 1.9 1 1.7 .1 .2 1.2 1.9 .6 .5 1.5-.5 .4-.2 1.8-.5 1.9-.4 .6-.8 1.3-1.4 1.9 .1 1.9 1 1.9-1.3 .3-.3 1.6-.9 1.8 .1 1.9 .5 1.9 .1 1.7-1.7 .2-.2 1.7-1.7 .1-1.9-1.8-1.1-.9-.7-1-1.3-.7-.6-1.2-.6-1.9-1.1-.3-.2-1.5-1.4-1-.5-.2-1.9-.7-.4-1.3-1.5-.1-1.8-.5-.8-1.5-1.1-.4-.4-1.9-.2-.7-1.3-1.2-.6-1.9 0-1.6-1.3 .5-1.9-.6-1.8-.1-.3-1.9 0-.4-1.6-1-1.9zM47.9 48.1l-.9 1.6 .9 1.6 .4 .3 1.2 1.9 .3 .1 1.9-.1 1.9 1 1.9-.5 .3-.5 .9-1.9-1.2-1.5-1.9 .4-1.9 .5-1.9-.4-.9-.9zM59.2 106.5l-1.5 1.6 1.1 1.9 .4 .4 1.5 1.4 .4 .4 .2-.4 1.7-1.3 1.7-.5-.6-1.9-1.1-.2-.6 .2-1.3 .3-.1-.3zM61.1 45.2l-1.3 .7 1.3 .3 .4-.3zM64.9 49.3l-.4 .4-1.5 1.7-.2 .2 .2 .3 1.9 .3 .6-.6-.3-1.9zM74.3 38.3l-.2 .1-1.7 1-.5 .9-1.4 1.7 0 .2 0 .1 1.9 .8 1.9 .2 .6-1.1 .3-1.9-.5-1.9zM76.2 54.4l-.6 1 .6 .8 .3-.8zM78.1 48.9l-1.7 .8 .9 1.9 .8 .8 1.9 .4 1.5 .7 .4 .2 1.4 1.7-.4 1.8 .8 1.9 1.9 1.5 .8 .4 1.1 .8 1.9 .7 1.9-1.5-.1-1.9-.1-1.9 .2-1.3 .2-.5-.2-.5-1.9-1-1.3-.4-.6-1.9-1.9-.9-1-1-.9-.6-1.8 .4-1.9 .2zM36.6 65.9l-1.5 .8 1.1 1.8-1.5 .5-1.9-.4-1.9 .4-1.8 1.4 .2 1.9 .6 1.9 .9 1.9-1.7 .5-.5-.5-.9-1.9-.5-.5-.3 .5-1.6 1.3-1.9 .3-1 .3-.9 .6-.7 1.2 .7 .7 1.9 .4 1.9-.6 1.7 1.4-.8 1.9 1 1.3 1.9 .1 .7 .5 1.1 .9 1.9 .2 .9-1.1 .9-1.9 .1-.9 1.9 .3 1.9-.8 1.7 1.4 .2 .3 .8-.3 .1-1.9-.8-1.9-.1-.2-.6-1.6 .6-.4 1-1.5-1-1.8-.6-.1-1.3-.2-1.9-1.7 1.9-1.3 .5-.6-.2-1.8-.3-1.2zM42.3 85.3l-.3 .2 .3 0zM44.1 67.9l-1.8 .6 1.8 1 1.3-1zM46 64l-.1 .8 .1 .6 1.4-.6zM51.7 97.4l-1.5 1.3-.4 .6-1.5 1.2-.4 .4-.9-.4-1-.3-1.5 .3-.4 .4-.1 1.5 .1 .3 1.9 .9 1.9 .1 1.9-.6 .6-.7 1.3-1 1.9-.2 1.9-.4 1.1-.3-1.1-.6-.7-1.2-1.2-.7zM61.1 58.1l-.3 1 .3 .3 1.4-.3zM72.4 48.7l-1.3 1 0 1.9 1.3 .8 1.6-.8 .3-.9 .8-1-.8-.2zM76.2 60.8l-.2 .2-1.7 1.7-.5 .2 .5 1.3 .1 .6 1.6 1.9-.2 1.8 .4 .8 1.5 1.1 .4 1.3 .1 .6 .6 1.9-.1 1.9 .2 1.8 1.1 .4 1-.4 .9-1.4 .5-.4 1.3-.9 .5 .9-.4 1.8 1.7 1.9 .1 .4 1.3 1.5 .6 .8 1.5 1.1 .4 .2 1.9 .6 1.9 .7 .4 .4-.4 1.9 1.8 1.8 .1 .1 0-.1 .9-1.8 .9-1.8 1.9 1.1 .3 .7 1.6 1 1.9 .3 1.1-1.3-.1-1.9-1-1.7-1.5-.2 1.5-.2 1.8-1.7-.9-1.9-.6-1.9 .3-1.8 1.3-.6 1.9-1.2 0-.1 0-.9-.2-1-.7-1.9 .1-1.9 .3-1.8-1.4-.9-1.5-1-.4-.3-.5 .3-1 1.9-.4 .9-.6 .9-1.3 1.1-1.9-1-.2-.1 .2-.3 .6-1.5-.6-.9-1.8 .4-1.9 .2-1.9-.4-1.9-.3-1.9-.2-1.6-.7-.3-.4-1.5-1.5-.4-.2-.3 .2-1.5 1.4-.5 .5 .5 1.3 .1 .6-.1 .1-1.9 .5-1-.6-.9-1.5-.3-.4 .3-.3 1.9-.8 .8-.8-.8-1.9-1.9-1zM21.5 86.1l-1.2 1.3 1.1 1.8 .1 1.9 .6 1.9-.4 1.9-.2 .7-.4-.7-1.5-.4-1.9 .3-.1 .1-1.7 .9-.4 1-.4 1.9 .8 1.8 1.8-1.1 1.9-.4 .7-.3 1.2-1.5 .2-.4 1.7-.9 1.9 .3 1.9 .3 1.2 .3 .7 .2 0-.2 .7-1.9 1-1.9 .1-.3 1-1.6-1-1.5-1.8-.3-1.9 1.6-1.9-1.1-.4-.6-.6-1.8-.9-.9zM46 70l-.2 .4 .2 .4 .3-.4zM61.1 79.3l-.3 .5 .3 .5 1.1-.5zM74.3 53.1l-.1 .4 .1 .1 .2-.1zM83.7 106.8l-.7 1.3 .7 1.2 .4 .7 1.2 1.8 .3 .3 1.9 .8 1.9-.7 1.2-.4-1.2-.8-1-1-.9-.9-1-1-.9-1.7zM95.1 104.7l-1.1 1.5 0 1.9-.8 1.3-.5 .6 .5 .5 .8 1.3 1.1 1.5 .9-1.5 .9-.7 1.5-1.1 .1-1.9-.1-1.9-1.5-1.8zM102.6 111.1l-1.7 .7 .2 1.9 1.5 1.7 .7-1.7 .9-1.9zM17.7 112.7l-1.1 1 1.1 .3 .6-.3zM101.5-3l1.1 0 1.9 0 1.9 0 1.9 0 .4 0 .6 1.9 .8 .7 1.9 .1 1.1-.8-.1-1.9 .9 0 1.9 0 0 1.9 0 1.9 0 1.8 0 1.9 0 1.5-1 .4-.9 .3-.4-.3-1.5-1.7 0-.2-1.9-1.8-1.8 .5-1.9-.3-.4-.3-1.2-1.8 1.2-1.9-1.5-1.2-1.4 1.2-.5 .3-.6-.3zM80 4.5l1.9-.8 1.8 .2 .7 .6-.7 .3-1.8 .8zM110.7 12.1l1.3-1.8 1.8 1.8-1.8 1.8zM-3 29l0-.3 .7 .3-.7 .2zM-3 36.5l0-.5 .1 .5-.1 .2zM32.5 42.2l.3-.5 1 .5-1 .2zM-.5 45.9l1.3-.8 .5 .8-.5 1.1zM31.4 47.8l1.4-.4 1 .4 .9 .7 1.9 .6 1.3 .6-.1 1.9-.8 1.9-.1 1.9-.3 .4-1.9 1.2-1.7-1.6-.2-.2-.9-1.7 .9-1.3 .5-.6-.5-1.8-.1-.1zM27.4 49.7l1.7-.3 1.3 .3-1.3 .2zM82 51.6l1.7-.6 .6 .6-.6 .3zM30.8 55.4l.1-.3 1.2 .3-1.2 .1zM38.1 77.9l.4-.4 1.5 .4-1.5 .7z" fill="#0518f6" fill-rule="evenodd"/>
<path d="M21.5-3l1.9 0 1.9 0 1.9 0 1.9 0 1.8 0 1 0-.2 1.9-.8 .8-1.8-.4-1.9-.3-1.9 .4-1.9 0-1.9-.4-.1-.1zM34.7-3l1.9 0 .5 0-.5 .6-1.9-.4zM41.8-3l.5 0 1.8 0 .1 0-.1 .1-1.8 1zM55.4 .8l.1-.1 0 .1zM90.7 .8l.6-1.3 1.9 0 1.9 1.1 1.8 .1 .1 .1-.1 .1-1.8 .3-1.9 .8-1.9-.7zM66.4 2.6l.4-.2 .2 .2-.2 1.3zM19.4 12.1l.2-.4 1.9-.2 .3 .6-.3 .4-1.9 .2zM5.2 13.9l1.2-.7 1.9 .3 .7 .4-.7 1.5-1.9-.5zM9.3 15.8l.9-.2 .2 .2 .2 1.9 1.5 1.1 .9-1.1 1-.6 1.9-.5 1.8-.7 1.9 .4 1-.5 .9-.5 .6 .5 1.1 1.9-1.3 1.9-.4 .4-1.3 1.5-.6 .4-1.9 .4-1.8 .6-1.9-.3-1.2-1.1-.7-1.2-1.9 .2-1.9-.2-.8-.7 .8-1.9zM58.7 15.8l.5-.8 1.8 .8-1.8 .5zM100.6 17.7l.1 0 1.9-.5 .4 .5-.2 1.9 1.2 1.9-1.4 .8-1.7-.8 1.1-1.9-1.3-1.7zM30.2 19.6l.7-.2 1.1 .2 .8 .5 1.9 .9 .6 .5 1.3 1.1 .3 .8 1 1.8-.1 1.9-1.2 1.4-1.9-.4-1.2-1-.7-1.1-1.5 1.1-.4 .2-1.8 1.7 0 .1-.2-.1-1.7-.5-1.5-1.4-.4-.2-1.9-.7-1.5-1 1-1.8 .5-.9 1.9 .3 1.9-.2 1.9-.3 .5-.8zM41.8 19.6l.5-.3 .8 .3 .1 1.9-.3 1.9 .9 1.8 .3 .2 1.1 1.7 .1 1.9 .7 .9 1.9 .4 1.9 .3 .4 .3-.4 .3-1.9 .9-.8 .7 .1 1.9-.1 1.8-1.1 .4-1.1-.4 .2-1.8-1-.7-1.8 .3-1.9-1.5 1.3-1.9-.7-1.9 .1-1.9-.4-1.9 .9-1.8-.1-1.9zM3.3 21.5l1.2-1.7 .9 1.7-.9 .9zM73.8 21.5l.5-.6 1.9 .1 1.9-.4 1.9-.6 1.9 .7 .6 .8-.6 1.1-1.9-.1-1.9 0-.4 .9-.8 1.8-.7 1.7-1.9-1.1-1.9 .2-.2-.8 .2-.3 .9-1.5zM111.7 23.4l.3-.3 .2 .3-.2 .4zM89 29l.4-.7 .6 .7-.2 1.9-.3 1.9-.1 .1-.3-.1-.1-1.9zM6.3 32.8l.1-.2 .2 .2-.2 .1zM31.5 32.8l1.3-.8 .7 .8 1.2 .9 1.9-.3 1.9-.6 1.7 1.9-1.7 1.7-1.9-.1-1.9-.6-1.9 .3-1.7-1.3zM93.7 34.7l1.4-.8 1.8 .3 .8 .5 1.1 1 1.9 .4 1.9 .4 1.3 1.9 .6 1 1.7 .9-.7 1.9 .7 1.9-.3 1.8-.2 1.9-1.2 1.2-1.9-1.1 0-.1-.4-1.9 .4-.8 .5-1-.5-1-1.4-.9-.5-.2-.2 .2-1.7 .7-1.4 1.2-.5 .2-1.8 .5-1.7-.7-.2-.5-.5-1.4 .4-1.9-1.8-.8-1.9-.5-1.5-.6 1.5-1.5 .2-.4 1.7-.5 1.9-1.1zM50.3 36.5l1.4-1.1 1.9-.3 1.9 1 1.1 .4-.2 1.9-.1 1.9-.8 1.8-1.9-.5-1.9-.8-.7-.5-.4-1.9zM83.3 36.5l.4-.4 .8 .4 1.1 1.6 1.2 .3-1.2 .2-1.9 1.2-1-1.4zM12 40.3l.1-.1 1.9-.7 1.9-.3 1.8 .8 .2 .3-.2 .6-1.8 .6-1.9 .3-.5 .4-1.4 .8-.8-.8zM113.6 42.2l.3-.3 1.9-1 0 1.3 0 1.9 0 1.3-1.9-.2-.8-1.1zM41.8 44.1l.5-.6 1.8-.2 .4 .8-.4 .3-1.8 .1zM14.1 45.9l1.8-.8 1.8 .5 .4 .3-.2 1.9-.2 .4-1 1.5-.2 1.9-.6 .4-.6-.4-.4-1.9-.6-1.9zM114.9 47.8l.9-1 0 1 0 1.9 0 1.9 0 1.2-.9-1.2-.4-1.9zM8.2 51.6l.1-.2 .2 .2-.2 .3zM98.1 51.6l.7-.2 .4 .2-.4 .4zM101.4 53.5l1.2-.7 1.9-.6 1 1.3-.5 1.9-.5 1.8 .4 1.9-.2 1.9-.2 .5-1.9 .7-1.9-1-1.9 .4-1.9-.6 1.9-.9 1.4-1-1-1.9-.4-1.8 1.9-1.6zM114.7 57.2l1.1-1.2 0 1.2 0 1.9 0 1.9 0 1.9 0 1.3-.9 .6 .8 1.9 .1 0 0 1.8 0 1.9 0 1.9 0 1.9 0 1.9 0 1.8 0 .2-1.9 .1-.4-.3-1.5-1.2-1-.6-.9-.5-1-1.4 1-1.2 1.9-.7-1.9-.9-1-1-.8-1.1-.3-.8 .3-.3 1.8-1 1.9-.4 .4-.1 .2-1.9-.6-1-.2-.9 .2-.2 1.9-.3 1.6-1.4-.7-1.9zM12.7 59.1l1.3-1.5 1.9 .9 1.5 .6-1.5 1.3-.8 .6-1.1 .4-1.5-.4zM72.3 59.1l.1-.2 .2 .2-.2 .2zM2 61l.7-.7 1.1 .7 .7 1.2 .5 .7-.5 .2-1.8 .6-.7-.8zM53.7 62.9l1.8-1.6 1.8-.2 1.9-.1 1.9 .4 1.9-.3 1.9 1.7 0 .1-1.3 1.9-.6 1.1-.5 .8 .5 1.7 .1 .1 1.8 1.6 .8 .3-.8 .4-1.9 .8-1.9 .2-.8-1.4 .8-1.7 1.4-.2-1.4-.1-1.9-1.2-.3-.5-1.1-1.9-.5-.6-1.8 .1zM21.3 64.8l.2-.1 .2 .1-.2 .6zM22.3 66.7l1.1-.4 .2 .4-.2 .5zM54.5 70.4l1-1.5 .6 1.5-.3 1.9-.3 .3-.5-.3zM65.8 72.3l1-1.4 1.9 .8 .8 .6-.8 .6-1.9 .2zM49.5 74.2l.3-.6 1.4 .6-1.4 .3zM43.3 76.1l.8-1.6 1.9 1.6 0 .2 .3 1.6 1.6 1.5 1.9-.6 1.1-.9 .8-1.7 .1-.1 1.8-1.3 1.1 1.3-.4 1.8 .6 1.9 .6 .8 1.8 1.1-1.2 1.9-.6 .3-1.9 .9-1.9 .3-.2 .4 .2 .5 .9 1.4-.9 .6-1.9 1.2-.8 1.9-1.1 .2-1.9-.2-1.1 1.9-.8 .9-1.4 1 .6 1.9-.4 1.9-.6 1.8 .1 1.9-.1 1.6-.1 .3 .1 .1 1.8 1.6 .3 .2 1.4 1.9-.6 1.9-1.1 .8-1.8 .3-1.9 .7-1.9-1.2-1.3-.6-.6-1-.8-.9 .8-.5 1.3-1.4-1.3-.6-1.9-.4-1.2 1-.7 .5-.4-.5-1.5-1.4-.4-.5 .3-1.9 .1-.9 .3-1 .1-1.8 .1-1.9 .4-1.9 1-1.4 .8-.5 1.1-.5 1.2 .5 .7 .6 1.9 .5 1.9-.5 1.5-.6-1.5-.5-1.6-1.4 .1-1.9 1.5-.3 1.9-.5 1.8-.9 .1-.1 1.2-1.9 .6-1.9-1-1.9-.2-1.9-.7-1.1-.2-.8zM40.4 105.8l-.8 .4 .8 .2 .4-.2zM70.3 76.1l.2-1 .2 1 .4 1.8 .3 1.9-.9 .8-.6-.8-1.2-1.1-.4-.8 .4-.3zM74.3 79.8l0-.1 .1 .1 1.8 .8 1.1 1.1-.5 1.9 1.3 .7 1.9-.7-.5-1.9 .5-.3 1.9-1.5 1.8 1.5 .3 .3 .2 1.9-.5 .5-1.8-.3-1.5 1.7 .4 1.9 .9 1.8 .2 .8 .1 1.1-.1 .2-1.9 .4-1.9 .4-.4 .9 .4 1.7 .2 .2 1.7 .6 1.9-.5 1.8 .2 1.9 0 1.9-.2 .9-.1 1-.3 .8-1.6 1.1-1.1 1.1-.8 .8-.9 1 .9 .9 .4 1.8 1.1 1.9-.1 1.3-1.4 .6-.2 .2 .2 1 1.9-.3 1.9 1 1.6 .3 .3-.3 .4-.4 1.5-1.1 1.8-.4 .4-1.9 .2-1.9 .3-1.8 .3-1.9-.1-1.4-1.1-.5-1.1-1.5-.7-.4-.1-.1 .1-1.8 .6-1.9 .8-1.9 .2-1.8 0-.6 .2-1.3 .8-1.9-.8-1.9-1.8-1.8 1.8-.1 .1-1.6 1.8-.3 .3-1.9 .2-1.8-.4-1.9 1.2-1.9-.2-1.3-1.1-.6-1.5-.3-.4 .3-.2 1.9-.6 .7-1-.7-1.4-1.6-.5-.3-.1-1.9 0-1.9-1.2-.1-.6-.2-1.9 .3-1.2 .3-.7-.3-1.1-.1-.8-.4-1.8-.4-1.9 .9-1.2 1.9-.1 1.5 1.3-.2 1.9-.2 1.8 .8 1.6 .5 .3-.5 1.7-.2 .2 .2 0 1.7 1.9 .2 .7 1.9-.5 .1-.2-.1-.6-1.3-1.3-.1-1.9 1.4-.7 1.5-1.2 .3-1.8-.4-1.9 .5-.6 1.1-1.3 .7-1.2 1.2 1.2 .7 .5 1.9 1.4 1-1.9-1-.4-1.5-1.5zM8.1 83.6l.2-1.2 .4 1.2-.4 .1zM106.1 87.4l.3-.4 1.9 .2 .2 .2-.2 1.6-.2 .2-1.7 .7-.3-.7zM108.1 91.1l.2-1.2 .4 1.2-.4 .4zM6.4 94.9l1.9-.1 1.9-.1 1.9-1 .8 1.2 .2 1.9-.9 1.9-.1 .6-.2 1.2-1.7 1-1.9 0-1.9-.8-.3-.2-1.6-.7-.5-1.1-1.3-1.5-.5-.4 .5-.7 1.8-1zM113.2 94.9l.7-.4 .6 .4 .7 1.9-1.3 .5-.3-.5zM-3 98.7l0-.6 1.9 .5 .1 .1 1.5 1.8 .3 .1 1.9 1.8 .2 0 1.6 .2 1.9 1.4 .2 .3-.2 .2-1.9 .6-1.8 .5-.5 .6 .2 1.9 .3 .2 1.8 .9 .6 .8-.6 .7-1.3 1.1-.5 1.1-1.9 .4-1.9 .2-.6 .2 .2 1.9-1.5 0 0-1.9 0-1.9 0-1.8 0-1.3 .8-.6 1.1-.6 .8-1.3-.8-1.9-.1 0-1.8-.6 0-1.3 0-1.9zM59.5 98.7l1.6-1.8 .9 1.8-.9 1.1zM115.3 98.7l.5-1.3 0 1.3 0 .6zM104.5 100.5l0 1.9-.1 0zM108.1 100.5l.2 0 .1 0-.1 .1zM89.1 102.4l.3-.4 .7 .4-.7 1.8zM15.3 104.3l.6-.4 .7 .4-.7 .5zM78.1 104.3l.3 0zM18.6 106.2l1-1.8 .6 1.8-.6 .8zM100.4 106.2l.3-.9 .8 .9-.8 1.6zM101.9 108.1l.7-.1 0 .1zM62.5 113.7l.5-.6 1.9-1.2 1.9 .7 1.2 1.1 .4 1.9-1.6 0-1.9 0-1.9 0-.1 0zM82 113.7l1.7-1.1 1.2 1.1 .7 .9 1.9 .4 1.9-.2 1.7-1.1 .2 0 .2 0 .7 1.9-.9 0-1.9 0-1.9 0-1.9 0-1.9 0-1.3 0zM-.8 115.6l1.6-1.4 1.9-.3 1.1 1.7-1.1 0-1.9 0z" fill="#0820fb" fill-rule="evenodd"/>
</g>
<g transform="translate(233,480)" clip-path="url(#c31)" stroke="#000" stroke-width="0.5" stroke-opacity="0.7">
<rect x="-2" y="-2" width="117.4" height="116.6" fill="#ffde00" stroke="none"/>
<path d="M-3-3l1.7 0 .4 0 .8 1.7 .5 .1 1.6 1 1.7-.6 .4-.5 .4-1.7 .9 0 1.7 0 1.7 0 1.7 0 1.6 0 .4 0-.4 .5-1.6 0-.6 1.2 .5 1.6 .1 .2 1 1.5 .6 .6 .5-.6 1.2-1.6 1.4 1.6 .3 .2 1.7-.1 1.3 1.6-1.3 1-1.4 .7 1.4 1.2 1.7 .1 .4 .3-.4 .5-.7 1.2 .7 .7 .4 1 1.2 .9 1.7-.1 1.7 .7 1.7-.4 1.1 .5 .4 1.7-1.5 .9-1.4 .8 1 1.6-.3 1.7 0 1.7-1 1.1-.8 .6-.9 .8-1 .8-.5 1.7-.2 .2-1.6 1.4-.5 .1-1.2 .6-1.7 0-1.3-.6-.4-.7-.2 .7-1.5 1.5-1.6-.5-1.7-.7-1.7-.3-1.7 0-.6 0 0-1.7-.2-1.7-.9-.7-1.7-.9-.1 0-1.5-1-1.7-.1-1.7 .1 0-.7 0-1.7 0-1.7 0-1.6 0-.1 0-1.6 0-1.7 0-1.6 0-1.7 0-1.7 0-1.6 0-1.7 0-1.7 0-1.7 0-1.6zM5.4 1.2l-.9 .8-.8 1.4-.1 .3-.2 1.7-.9 1.6 .5 1.7-1 .3-1.6 .3-1.7 1-.2 .1 .2 0 1.6 1.6 .1 .1 .6-.1 1-.2 1.7-1.3 1.7 .2 .6-.3 1.1-.8 .8-.9 .9-1.5 .2-.2 1.5-1.6 .7-1.7-.7-.8-1.7-.2-.9-.7-.8-.7zM12.1 23.7l.7 0zM22.2 15.3l-.1 .1 .1 .2 .6-.2zM8.8 14.9l-.4 .5-.7 1.6 1.1 1.2 1.7-1.1 .1-.1 1-1.6-1.1-1.1zM8.8 22.8l-.8 .9-.9 1.2-.8 .5 .8 1.5 1.7 0 .7-1.5 .4-1.7zM20-1.3l.5-.9 1.7 0 1.6-.8 .1 0 .1 0 .3 1.7-.4 .5-1.1 1.1-.2 1.7 .1 1.7-.5 .6-.8-.6-.2-1.7-.7-.4-1.5-1.3zM33.9-1.3l.1-.2 .5 .2 .8 1.6 .4 .4 1.1 1.3 .6 1.4 .5 .3-.5 .3-1.5 1.4-.2 .1-.3-.1-1.2-1.7-.2-.2-1.7-1-.3-.5 .2-1.7 .1-.2zM36-3l1.4 0 1.6 0 1.7 0 1.7 0 .7 0-.7 .7-.3 1-.4 1.6-1 1.1-.3-1.1-1.4-.8-1-.8-.6-.9zM44.8-3l1 0 1.7 0 1.6 0 1.7 0 1.7 0 1.7 0 1.6 0 .1 0 1.6 .7 1.3 1 .4 .3 1.7 1.1 1.7-.9 1.7 .4 1.6-.5 1.1-.4-1.1-.7-1.6-.2-1.7 .4-1.5-1.2 1.5 0 1.7 0 1.6 0 1.7 0 1.7 0 1.7 0 1.7 0 1.7 0 1.3 0 .3 .4 .4-.4 1.3 0 1.7 0 1.7 0 1.7 0 1.6 0 1.4 0-1.4 1.4-.5 .3-1.1 1.1-.8 .5-.6 1.7 .9 1.7 .5 .7 1.6-.7 0-.1 1.7-.2 1.7-.9 .6-.5-.1-1.7-.2-1.6 .4-1.7 1 0 1.2 0 .5 1.5 .6 .2 .8 1.6-1.4 1-.7 .7 .7 .5 1.7 .8 .4 .4 .6 1.7 .6 1.4 .6 .2 1.1 .4 1.5 1.3-.5 1.7-.4 1.6-.6 .5-1.7-.2-1 1.4-.6 .5-1.7-.2-1.1 1.4-.6 .6-1.5 1-.2 .2-.2-.2-.6-1.6-.9-1.3-.3-.4 .2-1.7 .1-.5 .5-1.1-.5-1.1-1.7 .2-1.6-.1-1.4 1-.3 .3-1.7 1-.8-1.3 .8-.5 .9-1.2 .4-1.7-1.3-1.4-1.7 .4-1.7 .1-1.1 .9-.5 1.3-.2 .4 .2 .8 .2 .9-.2 .9-1.7 .2-.6 .5 .6 .6 1.7-.4 1.6 .7 1.7 .2 1.7-1 1.5 1.6-1.5 .8-1.2 .9 .9 1.6 .3 .5 .9 1.2 .5 1.7 .3 .8 .3 .9 .6 1.6-.9 1.5-.2 .2-1.5 1-1.7-.1-1.7 .6-.2 .2-.4 1.6-1 .7-1.7 .4-.7 .6-.9 1.7-.1 .3-1.7 1-.4 .3 .1 1.7 .3 1 .6 .7 1.1 1.1 .3 .6 .2 1.6 1.2 1.6 0 .1 1.7 1.6 1.6-.8 1.7 .2 1.1-1 .6-.7 .7 .7 1 .5 1.7 .6 .5 .6 1.1 .7 .6 .9-.6 .5-1.5 1.2-.1 .3-1.4 1.4-.3 .2-1.7 .7-1.6 .8-.1 .1-1.7 .6-1.6-.2-.9-.5-.8-.4-1.7-.7-.6-.6-1.1-.9-1.7-.7-1.1 1.6-.6 1.1-.5 .6-1.1 .7-1.1 .9-.5 1.7 1.6 .9 1.6-.3 1.7-.5 1.7 1.3 1.7-.5 .4-.9 1.3-1 1.7 0 1.6-.2 1.7 0 1.7 .5 1.7-.3 .9 1 .8 .9 .9 .8 .7 1.3 1.7-.2 .7 .5-.4 1.7-.3 .4-1.1 1.3-.6 .8-.9 .8-.7 .7-1.7 .1-1-.8-.7-.8-.9-.8-.8-1.7-1.7 .4-.3-.4 .3-1.2 .7-.5-.7-.3-1.6-.2-.8 .5-.9 .8-.4 .9-.8 1.7-.5 .7-1.7 .7-.2 .2-.3 1.7-1.2 1.5-1.2 .2 1.2 .2 1.7 .4 1.2 1.1 .5 .2 1.7 .5 1.7 .6 .4 .3 .1 1.7 1 1.7 .1 .1 1.4-.1 .3-.1 .2 .1 1.5 1.1 1.7 0 1.2-1.1 .5-.6 .2 .6 1.4 .9 1.7 .1 .8 .6-.8 1.6 0 .1-1.7 1.3-1.6-.3-1.5-1-.2-.7-.4 .7-.9 1.7-.2 1.7 .2 1.6 1.3 1.4 .4 .3 1.3 .6 1.6-.5 .2-.1 0-1.7-.2-1.3 0-.3 0-.2 1.7-.8 1.7-.1 1.6-.6 .1-.2 .4 .2 1.3 1.2 0 .5 .2 1.6-.2 .3-1.7 1.2-1.5 .2-.2 0-1 1.7-.3 1.6-.4 .5-1.5-.5-.2 0-1.6 1.4-.5 .3-1.2 1.3-.2 .4 .2 1.6-1.2 1.7-.1 1.7 1.3 .8 1.7-.6 1.6 .9 1.7 0 1.7-.7 1.1 1.3 0 1.6 .6 .7 1.7 .6 .7 .4-.6 1.7-.1 .1-.1-.1-1.6-1.2-1.7 .1-1.1-.6-.1-1.7-.5-.5-1.7-.8-1.4 1.3-.2 .5-1.1 1.2 1.1 .7 1.6 .1 .6 .9-.6 .5-1.6 .4-1.7-.5-1.4-.4-.3-1.1-1.7-.2-1.7 .9-.8 .4-.8 1.4-1.7-.5-.6-.9-.1-1.7-.8-1.7 0-1.6-.2-1.4-1.7 .5-1 .9 1 .9 1.3 .7-1.2 1.7-.1 0-1.7 1-.8-1 .6-1.7-.4-1.6-.3-1.7-.1-1.7-.7-1.3-.5-.4-.9-1.6 1.2-1.7 .2-.2 .5-1.5 1.1-1.6 .1-.1 1.1-1.6 0-1.7-.2-1.6-.9-1-1.7 .2-1.4-.9-.2-1.7-1.7-.2-.4 .2-1.3 .5-1.2 1.2-.5 .8-1.7-.8-1.6 1.4-1.7-.8-.7 1.1-1 .3-1.6 1.3 1.6 1.6 .1 .1 1.6 1.6 0 .1 1.1 1.6 .6 1.4 .9 .3 .7 .1 1.7 1.1 .9 .5-.9 .6-.5 1-1.1 1.7 1.1 1.7 .4 1.7 .1 .3 .5 1.3-.5 .7-.6 1 .6 .6 .7 1.1 .1 1.6 .2 1.7-1 .8-1.1-.8 .4-1.7-1-1.6-1.1-1.7-.5-.3-1.4-1.4-.3-.4-.6 .4-.9 1.7-.2 .1-.3-.1-1.4-.3-1.7-.1-.1 .4-1.5 1.6-1.7-1.2-.2-.4-1.5-1.4-.7-.3-1-1.3-.1-.3 .1-.4 .6-1.3 1.1-1.2 .6-.5-.6-.3-1.7-.6-1.6-.8-.1 0-1.7 1.3-1.5-1.3-.1-.1-1.7-1.5 0-.1-1.7-.5-.8-1.1-.7-1.7 1.4-1.6 .1-.2 .4-1.5-.4-.6-1.7-.8-1.7 .4-.5 1 .5 .9 .4 .8 .9 1.6-.7 1.7 0 1.7-.6 1.4-.1 .2-.4 1.7 .2 1.7-.4 1.7-.9 1.3-1.6-1.3-.1-.1-1.7-.1-1.7-.6-1.7-.7-.1-.2-1.6-1-.5-.7-1.1-.9-1.7-.6-.2-.2 0-1.6 .2-.2 1.7-.2 1.6 .2 .6 .2 .9 1.6 .2 .1 1.7 0 .1-.1 .7-1.6 0-1.7 .9-.4 .4 .4 1.3 .6 1.5-.6 .2-.4 .4-1.3-.4-.3-1.7-.9-.7-.4-1-.4-.9 .4-.4 1.6-.4 .8-1.7-.1-.3-.7-1-1.6 1.3-1.2 1.7 .5 .5-1-.5-.6-1.3-1.1-.4-.2-.3 .2-1.4 1-.4 .7-1.2 .8-1.4-.8-.3-.2-.3 .2-1.3 1.7-.1 .5-1.7 .2-1.7 .4-1.6-.1-.5 .6-.7 1.7-.5 1.5-.2 .2-.8 1.6-.7 .9-.9 .8-.8 1.5-.7-1.5 .7-1.4 .2-.3 .6-1.6-.8-1.3-1.7 1-1.7-.3-1.5-1.1 0-1.7-.1-.1-.5 .1 .3 1.7-.1 1.7-1.4 .7-.4-.7-.7-1.7 .4-1.7-.5-1.6-.5-.7 0-1 0-1.7 0-1.6 0-1.7 0-1.7 0-1.7 0-1.6 0-1.5 1.5 1.5 0 1.6 .2 1 1.7 0 1.6-.8 .5-.2 1.2-.3 1.2 .3 .5 .4 .8 1.3 .9 1.4 .8-1.4 .9-1.6 0-.1 .7-1.6 .6-1.7 .4-.5 1.6 .5 .2 0-.2-.2-.2-1.5 .2-.1 1.6-1.5 .1-.3 .7-1.4 .9-1.7 .1-.1 .9-1.6 .7-1.6-.6-1.7-1-.1-1.7-.9-1-.7 .5-1.6 .5-1.2 1.7-.1 1.1 1.3 .6 .7 1.7 .5 1.6-.6 .4-.6-.4-.5-1.6-.3-1.3-.9 .1-1.7 .1-1.6 1.1-1.7 1.6 .8 .3 .9 1.3 1.6 .1 .3 1.6 1.4-.1 1.7-1.5 1-1 .6 .3 1.7 .7 .8 1.7-.4 1.4 1.3 .3 .2 .6-.2 1.1-1.3 1.7 0 .4-.4 1.2-.5 1.4-1.2-1.4-1.1-1.3 1.1-.3 1.1-1.7 .5-1.5-1.6 .6-1.6 .9-1 1.7 .1 .7-.8 .9-1.4 1.7 .7 .6-1 1.1-1.2 1.7 .7 .4 .5 .8 1.7 .5 .3 1.6-.1 .4-.2 1.2-1.7-.2-1.6 .3-.3 1 .3-.8 1.6 1.5 1.5 .4 .2-.4 .2-.5 1.5-.5 1.6 .9 1.7-1.6 1-1.7 .6 0 .1-1.6 1.2-1.7 .4 0 .1-.7 1.6 .6 1.7-1.6 .8-.4 .9 .4 .2 1.7 .2 1.1 1.2 .1 1.7 .5 .6 .3-.6 1.3-.9 .8-.8-.3-1.6 1.2-1.2 1.7-.3 1.2 1.5 .5 .7 1.7-.5 .4-.2 1.3-.6 1.6-.8 1.7 .3 1.1 1.1 0 1.6-1.1 .7-1.7 .6-.6 .4-1 1.4-.4 .3-1.3 .8-1.6 .8-.1 .1-1.5 1.6 .2 1.7-.4 .7-.2 1-.1 1.6 .3 1.4 1.5 .3 .2 0 .9 1.7 .4 1.6 .4 1.1 .3 .6 1.4 .8 1.6-.8-.4-1.7-.3-1.6-.9-1.2-1-.5-.3-1.7 .8-1.6 0-1.7 .5-.7 .6-1 1-.9 1.3 .9 .4 .6 1.7 .7 1.7 .1 .5-1.4 1.2-1.2 1.2-.5-.9-1.6-.3-.8-.3-.9-1.2-1.7-.2-.5-1-1.1-.3-1.7-.2-1.7-.1-1.7-.1-.5-.6-1.1 .6-.2 1.7-.9 1.2-.6-.1-1.7 .3-1.6 .3-.5 1.6-1 1.7 .7 1.7 .1 1.6-1-1.6-.4-1.7 .1-1.7 .1-.9-1.5 .3-1.6 .6-1.6 .6-.1 .1-1.7-.7-.3-1.6-.4-1.7-.7-.5-.3-.7-1.6-.5-1.1-1 1.1 .3 1.6-.4 1.7-.6 .8-.7 .9 .3 1.7-1.3 1.2-1.1 .4-.5 .1-1.7 .1-.6-.2-1.1-.7-1-.9 1-.9 1.7 .1 1.1-.9 .6-.4 .9-1.3-.8-1.7-.1-.1-1.7-.2-1.2-1.3 1.2-1 1-.7 .7-.8 .9-.9-.9-1.1-.2-.5-.6-1.7 .5-1.7 .3-.7 .2 .7 1.4 1.5 1.7 0 1.7-.5 1.6 .7 .1 .1 .1-.1 1.6-.9 1.5-.8 .1 0 .5 0 1.2 .1 .2-.1 .3-1.7 .7-1.6 .5-1 .6 1 .3 1.6 .8 .7 1.7 .6 1.6 .3 .9-1.6-.1-1.6 .1-1.7 .8-.2 .3-1.5 .1-1.6-.4-1.2-.4-.5 .4-.6 1.2-1.1-1.2-.9-1.7 .2-1.6 .4-1.7-.9-.2-.4 .2-.2 .6-1.5 .1-1.7 .4-1.7 .5-1.6 .1 0 1.6 0 .5-1.7-.5-1.1-1.6-.4-1.1-.2-.6-.1-1.7-.6-.4 .7 .4 .6 1.1 1.1-.1 1.7-.7 1.6 .3 1.7-.6 .9-.8-.9-.9-1.2-.6-.5 .2-1.6-.2-1.7-1.1-.5-1.6-.7-1.7 .5-.8-1-.3-1.6-.6-.8-.8-.9-.9-.8-1.7-.7-.2-.2-.2-1.6 .4-.5 .5-1.2-.5-.4-1.6-.4-1.4 .8-.2 1.7-.1 0-.1 0-.3-1.7 .1-1.7-.4-1.7-.5-1.6zM54.2 0l-.9 .3-.8 .5-.6 1.2 .6 .7 1.4 1 .3 .2 1-.2 .7-.1 .4 .1 1.2 .4 .5-.4 1.2-1.7-.7-1.7-1-1-1.6 .6zM62.6 3.4l-.9 .3-.1 1.7-.7 1.6 1.7 .6 1.7 0 .8-.6 .8-.4 1.7-1 .3-.2-.3-.5-.4-1.2-1.3-1.6-1.6 .3zM79.4-1.4l-.1 .1-1.6 1.6 1.7 .3 .2-.3-.2-1.6zM86.1 4.5l-.7 .9-.5 1.6 1.2 1.4 1.4-1.4-.6-1.6zM65.9 58.1l-.7 .7 .4 1.7 .3 .3 1.7-.3-.9-1.7zM71 82.1l-.1 .1 .1 .1 .1-.1zM77.7 78.5l-.1 .4 .1 1.6 0 .1 .1-.1 .2-1.6zM79.4 82.3l-.9 1.6-.2 1.6 1.1 .2 .2-.2 .4-1.6zM54.2 89.8l-1.5 .7 1.5 .9 .4-.9zM10.5 81.9l-.4 .3 .4 .6 .2-.6zM12.1 75.5l0 1.7 1.7-.9 .2-.8-.2-.1zM18.9 58.1l-1.2 .7 1.2 .7 .1-.7zM20.5 62.7l-1.2 1.1 1.2 1.7-1.6 1.4-.5 .3 .5 .5 .6 1.1-.6 .9-.5 .8 .3 1.7 .2 .2 .3-.2 1.3-.9 1.2-.8 .5-.4 1.7-1.3 0-.4 .3-1.2 1.4-1 1.7-.4 .3-.3-.3-.7-1.7-.4-1.7 .7-.5-1.3-1.2-1.1zM32.3 75.3l-.3 .2 .3 .4 .5-.4zM37.4 76.6l-.4 .6 .4 .6 .2-.6zM64.3 38.6l-.1 .2 .1 0 .2 0zM65.9 9.9l-.3 .5 .3 1 .7 .6 1 .4 1.7-.1 .4-.3-.4-.5-.7-1.1-1-.5zM65.9 70l-1 .5-.4 1.7 .8 1.6 .6 1 .9-1 .8-.9 .7-.7-.3-1.7-.4-.3zM71 87.4l-1 1.5 .8 1.6 .2 .3 1.7-.2 .8-.1 .2-1.6-1-.7zM20.5 74.4l-.9 1.1 .9 .6 1.4-.6zM27.3 70.2l-.3 .3-.6 1.7-.8 1.6-.1 0 .1 .1 .6 1.6 1.1 .7 1.7-.7 1.1-1.7 .5-1.6-1.6-1.4-.8-.3zM99.6-1.3l1.7-.8 1.6 .3 .3 .5-.3 1.6-1.6 1.5-.9 .2-.8 .4-.6-.4-1.1-1.3-.4-.4 .4-.2zM108-1.3l0-.1 1.4-1.6 .3 0 1.7 0 1.6 0 1.7 0 1.7 0 0 1.7 0 1.6 0 1.7-1.2 1.7 .6 1.7-1.1 1-1.7-.8-.6-.2-1-.9-1.7-.5-.4-.3-.9-1.7 .7-1.7zM93.7 .3l.8-.1 .4 .1-.4 .3zM98.7 5.4l.9-.3 .2 .3-.2 .1zM116.3 7l.1-.1 0 .1 0 .1zM40.5 10.4l.2-.9 1.7 .3 .9 .6 .8 1.6 .2 0 1.5 .5 .6-.5 1.1-.5 1.6 .3 .2 .2 1.5 1.1 1.7 .3 .4 .3-.4 .2-1.1 1.5-.6 .4-1.7 .9-.5 .3 .5 1.1 .2 .6 1.5 1.7 .1 0 0 1.7 1.3 1.6-.4 1.7 .5 1.7 .2 .2 .7 1.4-.7 1.4-.3 .3-1.4 1.4-1.1 .3-.6 .2-.3-.2-1.3-1.4-.6 1.4-1.1 .8-.8 .8-.3 1.7 .4 1.7-1 .9-1.7 .3-.9-1.2 0-1.7 0-1.7-.8-1.6 0-.1-.1-1.6 .1-.3 .9 .3 .8 .2 1.7 .6 1.7-.8 .2 0 .5-1.7-.7-.9-1.7 .3-1.7 .5-1.7-1.5 0-.1-.5-1.6 .2-1.7 .3-.9 .3-.7 .3-1.7 1-1.7-1.6-1.6-1.7 .3-1.6 .9-.4-1.3-1.3-1.5-.9 1.5 .3 1.7 .6 .5 1.7-.3 1.1 1.5-.8 1.7-.3 .2-1.7 .3-1.6-.5 .1-1.7-.2-.2-1.7-1.1-1 1.3-.7 .8-1-.8-.6-.8-.5-.9 .5-.7 .6-1 1-.6 1.7-1 .2 0 .6-1.7 .9-.3 1.7-.7 .6 1 1.1 1.4 .3 .3 1.3 1.2 1.2-1.2 .5-1.7 0-.7 .2-1-.2-.5zM44.1 13l-.3 .7 .3 0 .1 0zM45.8 15l-.2 .4 .2 .2 1.7 .4 .4-.6-.4-.7zM47.5 21.9l-.2 .2-.2 1.6 .4 .6 .4-.6 1.2-1.6 .6 0-.6-.2zM49.1 26.7l-1.3 .4 1.3 .4 .3-.4zM45.6 10.4l.2-.8 .3 .8-.3 .8zM116.2 12l.2 0 0 1.7 0 1-.5-1zM104.4 13.7l.2-.3 1.4 .3-1.4 .3zM26.7 17l.6-.6 .3 .6-.3 .2zM100.6 18.7l.7-.2 .2 .2-.2 .3zM59 20.4l.2-.6 .6 .6 .2 1.7-.8 1.2-1-1.2zM84.2 20.4l.2-.5 .9 .5-.9 1.3zM92.2 20.4l.7-.9 .8 .9-.8 .3zM53.2 22.1l1-1.5 1.7 .7 1.2 .8-.8 1.6-.4 .5-1.7 .2-1-.7zM85.6 22.1l.5-.2 .1 .2-.1 0zM101.2 22.1l.1-.1 1.6-.2 .5 .3 1.2 .3 1.7 .4 1.7 .5 1.4 .4 .3 .1 .9 1.6 .3 1.7 .5 .7 1.6 .5 .5 .4-.5 .3-1.6 .3-1.7 1.1-.1 0-1.6 1.3-1.7 .2-1.7-.4-.8-1.1-.9-.6-1.6-.3-1.7-.8-1.7-.4-1.2-1.2 .1-1.7 1.1-.6 1.7-.7 .2-.4zM101.3 25.1l-.5 .3 .5 1.5 .6-1.5zM108 27.1zM-3 23.7l0-1.3 .6 1.3-.2 1.7-.4 .9 0-.9zM58.2 25.4l1-1.1 1.7 1 .1 .1 1.6 1 1.6 .7 .1 0 1 1.6 .6 1.7-1.6 .8-1.6-.8-.1-.1-1.7-.7-.7 .8-1 .5-1.7-.2-.8-.3-.1-1.7 .4-1.6 .5-.9zM-1 27.1l1.4-1.4 1.1 1.4 .5 .3 1.7-.1 .6 1.4 .3 1.7 .6 1.7 .2 .3 1.7 1.2 .1 .1 1.6 .9 .9-.9 .8-1.2 .8 1.2-.3 1.7 1.1 .5 1.7 .3 .9 .9-.4 1.7-.5 .3-1.1 1.3-.6 .9-.4 .8 .1 1.7 .3 .7 .5 .9-.5 .8-.9 .9-.7 .2-1.7 .1-.4-.3 .4-1 .6-.7-.3-1.6-.3-.6-1.7-1.1-.1 0-1.6-.8-1.7 .7-.2 .1-1.5 .4-1.1 1.3-.1 1.6 .8 1.7 .4 .4 1.6-.4 .1 0 .3 0 1.4 .2 1.7 1.5 .6 1.7 .1 1.6 1 1.4 .1 .3 .4 1.7 .4 1.6 .4 1.7 .4 1.2 .3 .5 0 1.6-.2 1.7-.1 .2-1.2 1.5-.5 .8-1.7 .5-1.7-1.2-1.7 .5-1.7 .3-1.6-.8-.6-.1-.9-1.7-.2-.7-.7-1 .7-.9 .8 .9 .9 .3 .6-.3 1-.4 .6-1.2-.6-1-1.6 .1-1.7 .7-1.6 .2-.1 0 0-1.7 0-1.7 0-1.6 0-1.7 0-.4 1.7 .4 .9-1.7 0-1.6-.9-.8-1.2-.9-.5-1.3 0-.4 0-1.7 0-1.6 0-1.7 0-1.7 0-1.6 0-1.7 0-1.4 .4-.3-.4-.4 0-1.3 0-1.6 0-1.7 0-1.7 0-1.5 1.7 .1zM94.5 27.1l0-.9 .3 .9-.3 .1zM19.6 28.7l.9-1 1.7 0 1.7 .2 1.7 0 1.7 .6 .2 .2 1.5 1.5 .5 .2 .7 1.7-1.2 .7-.8 .9 .8 .8 1.6-.2 1.7 0 1.7 .5 1.7-.7 1.7 1.3 0 .2-.7 1.5 .7 .5 .6 1.2-.6 1.5-.3 .1-.8 1.7-.6 .5-1.3 1.2-.4 .3-1.7-.2-1.7 .9-1 .6-.6 .6-.5-.6-.2-1.6-1-1.3-1.7 .3-1.7 1-.8 1.6-.9 .7-.9 1-.8 1.3-.8-1.3-.8-1.1-.5-.6-1.2-1.2-.7-.4 .7-1 .2-.7 .6-1.7-.8-1-.8-.6 .8-1 .6-.7-.6-1-.7-.7-.4-1.7 1.1-1.3 .3-.3 1.4-1.5 0-.2zM23.9 32.9l-.2 .8 .2 .4 1 1.3 .5 1.7 .2 .2 1.2 1.5 .5 .6 .3-.6 .2-1.7-.5-1-.6-.7-1-1.7-.1-.2zM7.9 30.4l.9-.4 .2 .4 .4 1.7-.6 .3-.4-.3zM32.1 30.4l.2-.1 .1 .1-.1 .9zM97.6 30.4l.3-.7 .8 .7 .9 .3 1.3 1.4-.7 1.6 .6 1.7-1 1.7-.2 0-.1 0-1.4-1.7-.2-.9-.3-.8-1.2-1.6zM85.7 32.1l.4-.9 1.7-.2 1.6 1.1-1.3 1.6-.3 .3-.3-.3-1.4-1.3zM92.4 32.1l.5-.4 1.6-.1 1.3 .5-1.3 .7-1 .9-.6 .6-.3-.6zM104.9 35.4l1.4-.4 1.7 .4 .1 0-.1 .2-1.4 1.5 1.4 .3 1.2 1.4 .5 .7 1.1 .9 .6 .5 .3-.5 1.3-1.5 1.7-.1 .2 0 1.5-.3 0 .3 0 1.6 0 .6-.3 1.1-1.4 1.3-.2 .4 .2 1.5 .3 .1 1.4 .2 0 1.5 0 1.7 0 1.7 0 1.4-.1 .2 .1 .8 0 .9 0 .2-.9 1.5 .9 .6 0 1 0 1.4-.6 .3 .6 .3 0 1.4 0 1.6 0 .7-1.5-.7-.2-.7-1.7-.4-1-.5 1-.5 1.1-1.2-1.1-1-.3-.7-.6-1.6-.6-1.7-.1-.1-1.7-.2-.5 .3-1.2 1-1.7-.8-.3-.2 .3-.3 .6-1.4-.1-1.6-.2-1.7 .1-1.7-.4-.9-.6 .9-1.1 .4-.1-.4-.6-1.7-1-1.3-.5-.3 .5-.2 1.7-.4 .9 .6 .8 1.2 .6 .4 1.1 .5 .2-.5 0-1.6-.2-.3-1.7-.8-.3-.6-.7-1.7 .2-1.6 .6-1.7zM110.8 35.4l.6-.1 .2 .1-.2 1.1zM75.9 40.4l.1-.1 .2 .1-.2 .2zM42.1 42.1l.3-.6 .7 .6-.7 1.1zM88.5 42.1l1-1 1.1 1-1.1 1.1zM91.7 43.8l1.2-1.7 1.6 .7 1.7 .7 .3 .3-.3 1 0 .6 0 .2 1.7 .6 .9 .9-.9 1-.3 .7-1.1 1.7 .7 1.6-1 .8-1.5-.8 .5-1.6-.7-.3-1.6-.3-1 .6-.7 .4-1.7-.2-.3-.2 .3-1.6 0-.1 0-1.7 1.1-1.7 .6-.8zM94.5 46.8l-.4 .3 .4 .7 .7-.7zM14.5 52.1l1-1.3 .9 1.3-.9 1.3zM53.6 52.1l.6-.2 .2 .2-.2 .2zM99.2 55.5l.4-1.2 1.7 .9 .7 .3-.1 1.6 1 1.2 .8 .5 .9 .6 1-.6 .5-1.7 .2-.4 1.7-.4 .3 .8 .4 1.7 1 .3 1.5 1.4-1 1.6 .2 1.7 1 .4 1.5 1.3 .1 .5 1.5 1.2 .2 .1 1.6 1.5-.1 1.7 .2 .3 0 1.4 0 1.6 0 1.7 0 1.7 0 1.3-.5 .4-.4 1.6 .2 1.7-1 1.6 0 .1 1.7 1.1 0 .5 0 1.7 0 1.7 0 1.6 0 1.7 0 1.3-1.7 .3-1.7-.1-.2 .2 .2 .3 1.7-.2 1.7 .2 0 1.4 0 1.4-.4 .2-1.3 .6-1.5 1.1 0 1.7-.2 .2-1.4 1.4 1.4 .9 1.2 .8 .5 .5 .8 1.2-.8 1.5-.1 .1 .1 .4 .6-.4 1.1-.2 0 .2 0 1.7 0 1.7 0 1.7 0 1.6 0 1.7-.2 0-1.5-1.5-.1-.2-1.6-1.3-.8-.3-.8-.4-1.7 0-1.7-.5-1.7-.4-1.7-.4 0-.1 .9-1.6 .8-.9 .3-.8 .1-1.6-.4-.2-1.7-.3-1.7 .3-1.5 .2-.1 0-.1 0-1.6-1.1-1 1.1 0 1.6-.7 .4-1.2 1.3-.5 .5-1.7 .8-.6 .4-1 .3-.3-.3-1.4-.9-1.5-.8-.2-.2-1.7-1-1.7 .5-1.7-.3-1-.7 1-.5 1.7-.2 1.7 .1 1.7-.2 1-.8 .6-1.7 .1-.1 1.7-1 1.6 .2 1.7 .8 .4 .1 1.3 .4 .4-.4 1.3-.7 1.7-1-.8-1.6-.2-1.7-.7-.7-1.4-1-.3-.2-.4 .2-1.3 .6-1.7 0-1.6 .1-.4-.7 .4-1 .2-.6-.2-.6-1.7 .4-1.5-1.5 .1-1.7 1.4-.8 1.7-.3 .6-.6-.1-1.6 1.1-1.4 .5-.3 1.2-.5 1.7-.2 1.3 .7 .4 1 .3-1-.3-.5-.5-1.2 .5-.5 .9-1.1 .4-1.7-1.3-1.6-1.7 .7-.8-.8 .4-1.6 .2-1.7-1.2-1.7-.3-.8-1.7-.4-.4-.5 .4-1.6-1-1.7-.6-1-1.7 .2-1.7 .5-1.1 .3-.6 .2-.1-.2-.2-1.7-1.4-1.5-1.7 .3-.5-.4 .5-1 .4-.7-.4-1-.7-.7 .7-.8 1.7-.6 .4-.3 1.3-1.4 1.7 .8 1.7 .3 1.7 .1 1.6-1.4 0-.2 1.5-1.5 .2-.5 .7 .5 1 1.5 .4-1.5-.4-.8-.6-.9 .6-.4zM99.6 61.9l-.2 .2-.4 1.7 .6 .6 .2-.6 0-1.7zM102.9 65.5l-.2 1.7 .2 0 .1 0 0-1.7zM104.6 75.5l-1.7 1.3-.4 .4-1.2 1.5-.2 .2 .2 .1 1.6 1.5 .1 0 1.1 1.7 .2 1.7 .3 0 1.7 0 .8 0 .9-.1 .6 .1 1.1 .2 .7-.2-.7-.9-.2-.8-.2-1.7-1.3-1.6 1.2-1.7-1.2-1.6-.2-.1-1.5-.7zM113 67.8l-.9 1-.2 1.7-.5 .8-1.7 .4-.9 .5 .9 .6 1.7-.1 1.6-.4 .1-.1 .9-1.7-.2-1.7zM114.7 74.6l-.5 .9 .5 .3 .3-.3zM92.9 107.2l-.2 0 .2 .1 1.6 .6 .4-.7-.4-.4zM96.2 92.2l-.7 1.7 .7 1.2 1.7-.8 .4-.4 .7-1.7-1.1-.9zM91.2 63l-.5 .8-1.2 .7-1.7 .8-.4 .2 .4 .8 1.7 .3 .7 .6 1 .9 1.7 .2 1.3-1.1-1-1.7 .1-1.7-.4-.7zM96.2 71.8l-1.4 .4 1.4 .6 .3-.6zM97.9 64.9l-.9 .6 .9 .2 .6-.2zM102.9 92l-.4 .2-.4 1.7 .3 1.7 .3 1.6-.1 1.7-.1 1.7 .4 .1 1.7 .6 1.7 .4 .8-1.1-.8-.6-1.7-.2-1.2-.9 1.2-1.3 .2-.4 .3-1.6-.5-1.2-.4-.5-1.1-1.7zM109.7 103.8l-.2 .1 .2 .2 .2-.2zM111.4 84.5l-.6 1 .6 .4 1.3 1.3 .3 .7 .6-.7-.3-1.7-.3-.4zM111.4 92.2l-.1 0 .1 .1zM4.4 70.5l1-1.5 1.6 1.5-1.2 1.7-.4 .8-.2-.8zM89 73.8l.5-.7 .6 .7-.6 .9zM62.1 78.9l.5-.7 .7 .7 .9 1.6-.5 1.7 .2 1.7-.4 1.6-.9 1-.4-1-.7-1.6-.6-.9-1.7-.4-1.6-.4 1.2-1.7 .4-.1 .5 .1 1.2 .2 .1-.2zM105.8 78.9l.5-.6 1.6 .6-1.6 1.4zM62 88.9l.6-.9 1 .9-1 .7zM83.9 88.9l.5-.2 .2 .2-.2 .2zM33.7 90.5l.3-.5 .7 .5-.7 .2zM87.8 92.2l.2 0-.2 .2zM6.9 95.6l.2-.3 .2 .3 .7 1.6 .8 .4 1.7-.1 .3-.3 1.3-.6 1.3 .6-.8 1.7-.2 1.7-.3 .6-.5 1 .5 .4 1.4 1.3 .3 .5 .9-.5 .8-.8 .5 .8 .5 1.7 .7 .3 .9 1.3 .8 .6 1.6 .1 1-.7 .7-.3 1.7-.1 .5-1.2 1.2-1.3 1.1-.4 .6-.6 .8-1.1 .7-1.6 .1-1.7 .1 0 1.6-.3 .2 .3 .8 1.7 .7 .5 1.7 .8 1.7-.5 1.7 .3 .9-1.1 .7-1.2 .5-.5 1.2-.5 .6 .5 .7 1.7 .4 .6 .7 1-.7 .8-.9 .9-.8 .8-1.7 .2-1.6-.6-.7-.4-1-.7-1 .7-.2 1.7 1.1 1.6 .1 .2 1.7-.1 0-.1 1.6-.6 .8 .6 .9 .8 .5 .9-.1 1.7 1.3 1.6 .1 .1 1.6 1.5 1.7 0 1.7-1.1 .6 1.2-.4 1.7-.2 0-.5 0-1.2-1.5-1.7 0-1.7 1.2-1.7 0-1.7-.5-1.6 .2-1.7-.5-.9 1.1-.8 0-1.7 0-1.7 0-1.6 0-1.7 0-1.7 0-1.1 0-.6-.2-1.7-.6-1.7 .4-.1 .4-1.5 0-1.7 0-1.7 0-1.7 0-1.7 0-1.6 0-1.7 0-1.7 0-1.1 0-.4-1.7 .8-1.6 .7-1.3 .3-.4-.3-.8-.2-.9-1.5-1.1-1.7 1.1-1.7 .8-.8 .9-.8 .6-1.3 1.1-.4 1.1-.7 .5 .7 .4 1.7 1.3 .2 0-.2 0-1.7 0-1.7 0 0-1.7 0-1.6 0-1.7 0-1.7 0-1.7 0-.8 1 .8 .7 .4 .7-.4-.5-1.6 .3-1.7 1.2-.7 1.6-1 1.4-1.6 .3-.4 .4 .4 1.3 .5 1.7 .1 .7-.6-.7-1.1-1.7 0-.6-.6-.1-1.7 .7-.4zM22.2 108.4l-.3 .5-.2 1.7 .5 .4 .7-.4 1-1.5 .1-.2-.1-.4zM25.6 110.4l-.4 .2 .2 1.7-.6 1.6 .8 1.4 1.7-.6 1.6-.8 .1 0 1.6-1.6 .1 0-.1-.1-.7-1.6-.9-.9-1.7-.5zM30.6 105.1l-1.2 .5 1.2 .4 .9-.4zM35.7 112.2l-.1 .1 .1 .1 .2-.1zM35.3 97.2l.4-.1 1.7 .1 0 .1-1.7 .1zM-3 100.6l0-1.3 .5 1.3 0 1.6-.5 .9 0-.9zM71 102.2l.1 0 1.2 1.7 .4 .4 1.7 .1 1-.5-.2-1.7 .8-.2 1.7-.3 .5 .5 .2 1.7 .5 1.7 .5 .6 1.7 .6 .9 .4-.9 .4-1.7 .5-1.1 .8 .2 1.7-.6 1.7-.2 .2-.4-.2-1.3-.3-1.6 0-1.7-1-.8-.4-.9-.7-.4 .7 .4 .6 .7 1.1 1 .8 .5 .8-.4 1.7-.1 0-1.7 0-1.7 0-1.7 0-.5 0-1.2-1.1-1.4-.6 0-1.6-.2-.5-.4 .5 .3 1.6-.9 1.7-.7 0-1.7 0-1.7 0-1.7 0-1.6 0-1.7 0-1.7 0-.6-1.7-.7-1.6-.4-.4-1.7-.8-1.3-.5-.3-.4-.2-1.3 .2-.4 1.2-1.3 .4-.4 .8-1.2 .9-1.5 .3-.2 1.4-.3 .9 .3 .8 .7 .9 1 .3 1.6 .5 .4 1.6-.2 .8 1.5-.8 1.3-.7 .4 .7 .8 1.4 .9-1.4 .4-1.3 1.2 1.3 1.2 1.7-.3 1.2-.9 .5-.7 1-.9-.3-1.7 .2-1.7 .8-.9 1.1 .9 .6 .9 1.3 .8 .3 .2 .2-.2 .8-1.7 .7-1.2 .5-.5 .1-1.6 1.1-1.4 .4-.3zM72.7 106.7l-.5 .5 .1 1.7 .4 .6 .6-.6 .2-1.7zM54.2 113.7l-.2 .2 .2 .3 .5-.3zM45.1 103.9l.7-.3 1.7-.8 1.1 1.1-1.1 1-1.7-.8zM82.6 112.3l.2-.3 .8 .3 .8 .1 1.7 1 .6 .5 1.1 1.5 1.2 .2-1.2 0-1.7 0-1.7 0-1.6 0-1.7 0 .4-1.7zM95.2 113.9l1-.6 1 .6 .2 1.7-1.2 0-.5 0zM101.2 113.9l.1 0 0 .1zM79.1 115.6l.3-.8 1.4 .8-1.4 0zM98.1 115.6l1.5-.7 1.1 .7-1.1 0z" fill="#fff000" fill-rule="evenodd"/>
</g>
<g transform="translate(383.6,478.6)" clip-path="url(#c32)" stroke="#000" stroke-width="0.5" stroke-opacity="0.7">
<rect x="-2" y="-2" width="117" height="117" fill="#ff6208" stroke="none"/>
<path d="M-3-3l1.9 0 1.9 0 1.1 0-1.1 1.7-.2 .2-1.7 1.2-1.6 .7 1 1.9-1.3 1.1 0-1.1 0-1.9 0-1.9zM30.3-3l.7 0 1.7 0 .2 1.3 1.9 .3 .1 .3-.1 .5-1.9-.3-.2-.2-1.7-.6zM112 .8l.2-.1 1.9-.2 1.9-.7 0 1 0 1.9 0 1.9 0 1.8 0 1.9 0 1.9 0 1.7-.6 .2-1.3 .7-.7 1.2 .1 1.9-.4 1.9-.9 1.1-1.1 .8 1.1 1.8 0 .1 .7 1.8-.7 .9-1.9-.3-1.2 1.3-.3 1.9-.4 .8-1.8 .7-1.1-1.5 0-1.9 .2-1.9-1-1.6-1.8-.2-.1-.3-.1 .3-1.8 1.2-.8-1.2 .8-1.2 1.4-.7-1.4-.2-1.9-.5-1.9-1.2-1.9-.9-1.9-.5-1.9-.2-.4-.3 .2-1.9 .2-.4 1.9-.8 1.6-.7 .3-.2 1.9-.1 1.9-1 .3-.6 .7-1.9 .2-1.9 .7-.3 1.9-.3 1.3-1.2 .6-1.8 .6 1.8 .7 1.8 .6 .3 1-.3 .2-1.8 .6-.8 .8-1.1 1.1-1.2zM21 2.7l.6-.8 1.4 .8 .4 1 .7 .9-.7 .5-1.2 1.3 .5 1.9 .7 .7 1.9-.4 .3-.3 1.6-1 1.8 1 .1 .1 1.5 1.8 .4 .2 .2-.2 1.7-1 .7-.9 0-1.9 1.2-1.3 1.1-.5 .8-.4 1.4 .4 .5 .8 .3 1 1.5 1.8 .2 .1 0 1.9-.2 .1-1.3 1.8-.5 .4-1.9-.1-1.9 .6-1 1-.3 1.9 .1 1.9-.7 1.3-1.9-.3-1.9-.6-1.4 1.5-.5 .9-1.2 1-.7 .4-1.9 .1-.7-.5 .7-1.8 1.9 .2 .2-.3 1.4-1.9-1.6-1-.8-.9-1-1.9-.1-.2-1-1.7-.8-1.2-.7 1.2-.4 1.9-.8 .4-1 1.5-.8 1.9 .5 1.9 1.3 1.5 .8 .4 .3 1.8 .2 1.9 .6 .6 1.4-.6 .4-.2 .4 .2 .4 1.9-.8 1.1-1 .8 1 .6 1.9 1.1 .9-1.7 .5-1.9 .5-.7 .9-1.2 1-.5 1.9-1.1 .6 1.6-.6 1.6-.1 .3 .1 .3 1.9 .7 1.9 .2 .7-1.2 1.2-1.7 1 1.7 .5 1.9-1.5 1.3-1.9-.9-.9 1.5-1 1.4-.2 .5-.8 1.9-.9 1.3-1.9 .1-1.9-.9-1.9 .4-1.9 .5-1.8 .2-1.3 .3-.6 .2-1.9 .6-1.9-.1-1.9 .2-1.1 1-.8 .8-.9-.8-1-1.9-1.3 1.9-.6 .2-1.9 .7-.5 .9-1.3 1.7-.3 .2-1.6 1-1.3 .9-.6 .8-.9 1.1-1 1.6-.4 .3-.7 1.9-.8 1.8 0-1.8 0-1.9 0-1.9 0-1.9 0-1.9 0-1.9 0-1.8 0-1.9 0-1.9 0-1.9 0-1.9 0-.2 .1 .2 1 1.9 .8 .6 1.9 .5 1.9-.6 .4-.5 1.5-.9 1.5-1-1-1.9-.5-1.8-.1-.1-.9-1.9 1-1.7 .1-.2 1.7-1.5 .6-.3 1.1-1.9-.2-1.9 .1-1.9 .3-.4 1.9-1.4 .2-.1 0-1.9 1.2-1.9 .2-1.9 .3-.8 1.9-.2 1.9-.6 1.9 0 1.1-.3 .8-.2 1.3-1.6zM29.1 15.4l-.4 .5 .4 .4 .3-.4zM31 13.9l-.3 .1 .3 .1 .1-.1zM19.7 30.5l-.3 .5 .3 .2 .2-.2zM-1.1 36.8l-.9 1.8 .1 1.8 .8 1.6 1.2 .3 .7 .4 .2-.4 .6-1.9 .5-1.8-1.3-1.5zM10.2 32.7l-.3 .2-1.6 1.2-1.5 .7 1.5 .7 1.9 1.1 1.9-1.6 .1-.2-.1-.5-1.4-1.4zM92.3 2.7l1-.6 1.4 .6 .1 1.9-.5 1.8-1 .2-.1-.2-.4-1.8zM-3 6.4l0-1 1.9 .7 0 .3 .1 1.9-.1 1.9 0 .1-1.9 .4 0-.5 0-1.9zM51.6 8.3l.2-.2 1.9-.3 .4 .5-.4 .4-1.9-.1zM73.2 14l1.2-.5 1 .5 .7 1.9 .2 1 .8 .9 1.1 .6 .7 1.3-.7 1.6-1.9 0-.2 .3-.2 1.8 .4 1.8 .7-1.8 1.2-1.5 1-.3 .9-.2 .1 .2 1.2 1.8 .6 .4 .5 1.5-.3 1.9 .7 1.9 1 1.2 1.9 .3 1.3 .4-.3 1.9-1 1.1-1.2 .8-.7 1.6-.3 .3 .3 .3 .5 1.6-.5 .3-1.9 .5-.8-.8 0-1.9-1.1-.6-1.5 .6-.4 .1-1.9 1.4-1.9 .3-.9-1.8-.9-1.2-1.9 .8-1.9-1.4-.4-.1-1.3-1.9-.2-.3-.6 .3-1.3 .7-1.9-.6-1.1-.1-.8-.1-1.9-1.2-1.1-.6-.8-.3-.9-1.6-.9-.5-1.6 .5-.3 .3-1.9 .8-.6-1.1 .6-.7 .6-1.2-.6-1.8 0-.1 1.9-1 1.5-.9 .4-.3 .9 .3 .9 .4 1.5 1.5 .4 1.3 .5 .6 1.4 .3 .8-.3-.2-1.9-.6-.4-1.5-1.5 1.5-.9 1.3 .9 .6 .9 .2-.9 .5-1.8 .5-1.9 .7-.8 1.9 .1 .2 .7-.2 .5-.5 1.4 .5 .4 1.9 .5 .7-.9 1.2-1.7 .1-.2 .3-1.9 .7-1.9 .8-1.3zM-3 15.9l0-.2 .4 .2 1.5 .7 1.1-.7 .8-.4 .8 .4 1.1 1.1 .4 .8-.4 1.9-1.9-.7-.4 .7 .4 1.4 .4 .5 0 1.8-.4 .2-1.9 1.2-1.9-.1 0-1.3 0-1.8 0-1.9 0-1.9zM79.6 15.9l.5-.4 1 .4-1 .8zM33.6 19.7l1.2-.6 1.3 .6-.2 1.9-1.1 1.1-1 .7-.9 .7-1.7-.7 1.1-1.8 .6-1.4zM41.1 19.7l1.2-.7 1.9 .2 .9 .5 1 1.4 1 .5-1 .5-.5 1.3-1.3 1.9-.1 0-.1 0-1.8-.4-1.9-.4-1-1.1 .3-1.8 .7-1.2zM47.5 19.7l.5-.3 1.9-.1 .2 .4 0 1.9-.2 .4-.8-.4-1.1-.9zM83.1 23.4l.8 0 .5 0-.5 .2zM114.5 29.1l1.5-1 0 1 0 1.9 0 1.9 0 1.9 0 1.9 0 1.9 0 1.8 0 1.9 0 1.9 0 1.8-.1 .1-1.7 1.9 .1 1.9 .2 1.9 1.1 1.9 .4 1.1 0 .8 0 .3-.8 1.5-.5 1.9-.1 1.9-.5 .4-1.9-.2-.1-.2-1-1.9-.5-1.9-.3-.6-.9 .6-1 .5-1.8-.3-.1-.2 .1-.4 1.5-1.4 .3-.1 1.9-.9 .7-.9 .6-1.9-.6-1.9-.7-.4-1.3-1.5 1.3-.9 1.9 .2 .9-1.2-.6-1.9-.1-1.9-.2-.1-1.9-1.5-.5-.3-1.4-1.3-1-.5 .8-1.9 .2-.2 1.1-1.7-.6-1.9 1.4-1.9 .1 0 1.8-.8 1.9-.9zM38.1 34.8l.5-.5 .4 .5 .8 1.9-1.2 .6-.8-.6zM98.8 34.8l.2-.1 .6 .1-.6 .9zM32.7 36.7l.2-.1 .1 .1 1.8 1 1.9 .3 .4 .6 1.5 1.2 .5 .6 .1 1.9 1.2 1.3 .8 .6-.6 1.9-.2 .1-1.6 1.8 .5 1.9 1.1 1.8 1.9-.1 .5 .2 .3 1.9-.8 .4-1.9-.2-1.8-.2-.2 0-1.7-1-1.9-.2-.8-.7-.7-1.9-.4-.7-1-1.2 1-1.7 .1-.2-.1-.2-1.8-1.7-.1 0-1.8 0 1.1 1.9-.8 1.9 .2 1.9 .6 1.9 .7 1.1 1.4 .8 .5 .6 .4 1.3-.4 .4-1.9 .3-1.9 .2-1.9-.1-1-.8 .5-1.9 .5-.4 1.2-1.5 .4-1.9-1.6-1.3-1.9-.3-1.9 1.4-.2 .2-1.6 1.5-1.9-1-1.9 .4-1.8-.9 1.8-.4 1.9 .2 1.9-.6 .8-1.1 1-1.9 .1 0 .2-1.9 1-1.9-1.3-1.1-1-.8-.3-1.8 1.3-1.5 1.9 .1 1.9 .3 1 1.1 .9 .8 1.9 .9 .4 .1 1.3 1.9 .2 .3 1-.3-.6-1.9-.4-1.2-.2-.6zM65 36.7zM42.2 40.4l.1-.2 .1 .2-.1 .1zM96 40.4l1.1-1.6 1.9 .4 .7 1.2-.7 .7-1.9 .5-.7 .7-1.2 .7-1.9-.2-1.8-.5 1.8-1 1.9 0zM83.4 42.3l.5-.3 1.9-.2 .8 .5 1.1 .8 1-.8 .9-.5 1.8 .5-.9 1.9 .9 1.1 1.9 .1 1.8 .7 .1 .2 1.7 1.7-.8 1.9-.5 1.9-.3 1.9-.1 0-1.9 .5-1.9-.3-.4-.2-1.4-.6-1.9-.3-1.1 .9-.5 1.9-.3 .3-1.9 .6-.7 .9 .7 1 .5 .9 .9 1.9 .5 .6 .4 1.3 1.4 1.9 .1 0 .6 1.9-.6 1.5-.4 .4-1.5 .9-1.4 1 .8 1.9 .6 1 1.9 .4 .1 .4-.1 .2-1.9 .4-.9 1.3-.2 1.9-.8 1-.8 .9 .1 1.9-1.2 .7-1.9 .3-1.4-1 0-1.9-.5-.3-1.3 .3-.6 1.1-.1 .8 .1 1.9 0 .5 1.9 1.2 .2 .2-.2 .1-1.9 .1-1.9 1.5-.2 .2-1.6 1.1-1.9 .4-.5 .4-1.4 .7-1.9 0-.6-.7 .6-1.1 .8-.8-.8-1.9-1.9 1.3-.8 .6-1.1 .8-1.9 .6-.7-1.4 0-1.9-1.2-1.2-.5-.7-.6-1.9-.8-1.6 0-.3 0-.2 .6 .2 1.3 .5 1.9 .8 1.2-1.3 .7-.7 1.2-1.2 .7-.5 1.9-.7 1.9-.1 .9-.6 .8-1.9 .2-.1 1.9-1.2 .4-.5 .4-1.9-.4-1.9-.4-1-.2-.9-.2-1.9 .4-1.4 .1-.5-.1-.7-.9-1.2-1-.5-.5 .5-1.4 1-1.9-.3-1.9-.3-.2-.4-.3-1.9-1.4-1.1-1.9-.1-1.9-.1-1.2-.6 1.2-1.2 .2-.6 .4-1.9-.6-.7-1.9 .1-1-1.3-.8-1.3-1.8-.6-.1-.1-1.9-1-.3-.8 .1-1.9 .2-.2 1.9-.4 .9 .6 1 .6 1.8 0 1.8-.6 .1-.4 1.9-.7 1.6 1.1-.1 1.9 .4 .3 1.1 1.6 .8 1.8 1.9 0 .7 .1-.7 .4-1.9-.4-.8 1.9-1.1 1.4-.7 .5 .7 .6 1.9 .4 1.9-.4 1.4-.6-.4-1.9 .9-1.2 .3-.7 1.3-1.9 .3-.4 1.4 .4 .5 1.2 .6 .7 1.2 .1 .2-.1 1.2-1.9-.5-1.9-.3-1.9 1.3-1.4 1.9 .8 1.9-1 .4-.3 1.5-1zM93.3 49.3l-.8 .6 .8 1 1.3-1zM68.8 56.1l-.6 1.3 .6 1.1 .9-1.1zM76.3 76.2l-.2 .1 .2 .2 .2-.2zM6.6 44.2l1.7-1.5 1.9 .6 1.9-.3 .5 1.2 .6 1.9-.8 1.9-.3 1.1-.5 .8-.5 1.9-.9 1.8 0 .1-1.4 1.9-.5 .6-1.9 .7-1.7 .5-.1 .2-.8 1.7 .8 1.5 1.8-.9 1-.6 .9-.7 1.9-.1 1.8-1.1 .1-.1 1.1-1.7 .8-1.5 1.1-.4 .8-.2 .2 .2 .3 1.9-.4 1.8 .5 1.9 1.3 1.7 .9 .2 1 .5 1.3 1.4 .6 .4 1.8 .8 .7 .7 1.2 1 1.9-.3 1.9 .3 1.5 .9-1.4 1.9 1.8 1.5 .2 .4 0 1.9-.2 .6-1.9 1.2-1.9-1.8 1.2-1.9-1.2-.9-1.7 .9-.2 .3-.1-.3-1.8-.7-1.8-.1-1.9-.3-1.9 0-1.3 1.1-.6 .5-1.9 .2-1-.7-.9-1.8-.5-.1-1.4-.4-.1 .4-1 1.9 .3 1.9-.4 1.8-.7 .7-1.9 .8-1.8 .2-1.6 .2-.3 .9-.4 1-1.5 .6-1.9 .9-1.9-.4 0-1.1 0-1.9 0-1.9 0-1.6 .2-.2-.2-.2 0-1.7 0-1.9 0-1.9 0-1.9 0-1.9 0-1.9 0-1.9 0-1.9 0-1.8 0-.8 1.9-1.1 1.9-1.2 .7-.7 1.2-.7 1.9-.8 .3-.4 .2-1.9 1.3-1.9 0-.3zM10.2 47.4l-.3 .6 .3 .7 1-.7zM14 60.8l-.6 .4 .6 1 1-1zM17.8 62.3l-.9 .8 .9 .8 .3-.8zM44 48l.2-.4 1.9 .4 1.2 1.9-1.2 .9-.8-.9-1.1-1.1zM49.9 51.8l1.9-.9 1.1 .9-1.1 1.4zM102.4 53.7l.4-.4 1.9 0 1 .4 .1 1.9-1.1 .2-.4-.2-1.5-1.7zM89.6 57.4l0 .1zM57.3 63.1l.1-.1 1.9-1.5 1.9 1.3 .3 .3-.3 1.9-1.9 .8-.5-.8-1.4-1.8zM93.3 72.6l0-.1 1.9-.6 1.9-.2 .4 .9-.4 .7-1.8 1.1-.1 .1 0-.1zM98.8 76.3l.2-.1 .2 .1-.2 .2zM115 76.3l1-.2 0 .2 0 1.9 0 1.9 0 1.9 0 1.9 0 1.9 0 1.9 0 1.9 0 1.8 0 .3-1-.3-.9-.1-.3 .1-1.6 1.8-.3 .1-1.6 .8-1-.8-.9-.6-1.4-1.3-.4-.3-1.9-.2-.6-1.3 .6-.4 1.2-1.5 .3-1.9 0-1.9-.5-1.9 .4-1.9 .5-.7 1.8-.4 1-.8 .9-1.2 1.9-.2 1.9-.3zM9.8 80.1l.4-.2 1.9 .2 .2 0-.2 .2-1.9 .6zM43.7 80.1l.5-1.4 1.9 .1 1.9-.2 1.9 1.3 .2 .2 1.5 1.9 .2 1.1 .3 .8-.3 1.9 0 .1-1.7 1.8-.2 .1-1.9 .6-1.9 .9-1 .3-.9 .2-1.3 1.6-.3 1.9-.3 1.6-.1 .3-1.8 .9-1.6-.9-.2-.4-.9-1.5-1-.7-1.8-1.2-.1-.2-.2-1.6-.4-1.9 .6-1.3 1.9 1.2 .8 .1 1.1 0 .1 0 .6-1.9 .8-1.9 .3-.7 1.9-.7 1.6-.5zM3.4 83.9l1.2-.9 1.5 .9-1.5 1.4zM32.2 85.8l.7-.6 .8 .6-.8 .3zM16.3 89.6l1.5-1.1 1 1.1 .9 1.8 1.1 1.9 .4 1.9-1.5 .8-1.3 1.1 .5 1.9 .8 1.5 .1 .4 1.3 1.9-.2 1.9-1.2 .9-1.9 .8-.8 .2 .8 .9 .2 .9 .4 1.9 .5 1.9-1.1 1.8-.4 .1-1.5 .2-1.9 1.4-.4 .3-1.5 0-1.9 0-1.9 0-1.9 0-1.8 0-1.9 0-1.9 0 1.9-.7 1.9 0 1.3-1.2 .4-1.9 .1-.7 .7-1.2-.7-1.1-.3-.8-1.5-1.7-.1-.1 .1-.2 1.3-1.7 .5-1.4 .9-.5-.9-.3-1.8-1.1-1.4 1.4-.5 .2-1.8 1.7-.1 .1-.6-.1-1.3-.3-1.9-.7 0-.9 0-1.9 0-1.8 1.9 .9 1.4-1-.3-1.9-.7-1.9 .7-1.9 .8-1.2 1.7 1.2 .2 .3 .5-.3 1.4-1.3 1.3-.6 .5-.1 .1 .1 1.8 1.7 1.9-.6 1.7-1.1 .2-.4 1.9-.5 1.9-.6zM6.4 95.1l-.6 .1 .6 .2 1.9 .8 .5-1-.5-1zM102.2 91.4l.6-.7 1.5 .7-.2 1.9 .2 1.9-1.5 .6-.4-.6-1.5-1.3-.5-.6 .5-.4zM93 95.2l.3-.6 .2 .6-.2 .6zM33.9 97.1l.9-.9 .9 .9-.7 1.9-.2 .4-1.1-.4zM42 99l.3-.7 .8 .7 1.1 1.2 .2 .7-.2 .3-1.9 .1-.3-.4zM87.4 99l.3-.1 .6 .1 1.3 .3 1.8 1 .7 .6-.7 1.3-.2 .6-1.6 1.5-1.9 .1-1.2-1.6 .1-1.9zM35.8 102.8l.9-.3 .4 .3 1.5 1.5 .3 .4 .7 1.9 .8 .7 1.9 1.1 .1 0-.1 .2-1.9 1.7-1.8 .9-.7-.9-.9-1.9-.3-.1-1.9-1.1-.6-.6-.6-1.9 1.2-1.5zM51.4 110.3l.4-.1 1.9-.1 1.9-.5 1.2 .7-1.2 .9-1.9 .1-.4 .9-1.5 1.9-.1 0-1.8 .5-1.5-.5-.4-1.9 1.9-1.2zM57.1 114.1l.3-.2 .2 .2-.2 .3zM69.8 114.1l.9-.4 1.1 .4 .8 .3 1.8 .9 1.9 .3 1.9 .2 1.9-1.3 1.4-.4 .5-.2 .5 .2-.5 .4-.5 1.5-1.4 0-1.9 0-1.9 0-1.9 0-1.8 0-1.9 0-1.8 0zM-3 116l0-.8 .2 .8zM26.8 116l.4-.7 1.9-.6 1.9 1.3-1.9 0-1.9 0zM37.3 116l1.3-1.2 1.8 .4 .5 .8-.5 0-1.8 0zM53.3 116l.4-.1 .4 .1-.4 0z" fill="#ff680a" fill-rule="evenodd"/>
<path d="M114.7 6.4l1.3-1.2 0 1.2 0 1.9 0 .8-1-.8zM104.4 8.3l.3-.1 .3 .1 1.6 1.1 .7 .8 .6 1.9-1.2 1.9-.1 0-.1 0-1.8-.8-1.9-.8-1.9-.1-.1-.2 .1-.2 .8-1.7 1.1-.9zM14.2 10.2l1.7-.5 .8 .5-.8 1.5-1.7 .4-.2 .1 0-.1 0-.4zM13.3 15.9l.7-.5 .7 .5-.7 .3zM15.4 19.7l.5-.4 .2 .4 0 1.9 1.7 1.5 .2 .3-.2 .7-1.9 1.2-1.9-.2-1.3-1.7 1.3-1.8 .1 0zM11.7 29.1l.4-1.7 1.7 1.7-1.7 .8zM13.5 31l.5-1.5 1 1.5-1 .3zM73.9 31l.5-.6 1.9-.1 1.5 .7-1.5 1.1-1.9 0zM28.5 32.9l.6-1.5 1.9-.1 .2 1.6-.2 .3-1.9 .2zM113.1 32.9l1-1.9 1.9 1 0 .9 0 1.9 0 1.2-.7-1.2-1.2-.9zM114.1 40.4l1.9-1.6 0 1.6 0 .3-1.9-.2zM86.4 46.1l1.3-.3 1.9 .2 .1 .1 .9 1.9-.2 1.9-.8 1.1-1.9-.6-1.3-.5-.6-1.6-1.9 .1-.3-.4 .3-.2 1.9-.3zM80.1 48l.1 0 1.5 1.9-.7 1.9 1 1.7 1 .2-1 .3-1.9 .8-1.3-1.1-.6-1.5-.1-.4 .1-.3 .7-1.6zM58.5 49.9l.8-.1 .1 .1-.1 0zM73 57.4l1.4-.9 1.9 .9 .2 0 .7 1.9-.9 .5-1.9 .5-1.1-1zM-3 63.1l0-.6 .7 .6-.7 1zM-2 65l.9-.6 1.9-.4 1.9-.5 .4 1.5-.4 1.1-.3 .8 .3 .4 1.1 1.5-.4 1.9-.6 1.9-.1 .1-1.2-.1-.7-.1-1.2-1.8-.7-1.8-.2-.1-1-1.9zM76.3 65l1.9-.5 .5 .5-.4 1.9-.1 .1-.2-.1-1.7-1.8zM112 80.1l.2-.6 1.9-1 1.9 .1 0 1.5 0 1.9 0 1.9 0 1.9 0 1.9 0 .7-1.9-.2-1.9-.2-1.9-.1-.1-.2 .1-.2 1.9-.2 .6-1.5 .6-1.9-.3-1.9-.9-1.6zM64 82l1-1.5 .7 1.5-.1 1.9-.6 .8-1 1.1-.9 .5-.5-.5 0-1.9 .5-.8zM13.6 110.3l.4-.4 .3 .4 1.1 1.9-1.4 1.1-1.2-1.1z" fill="#ff7c00" fill-rule="evenodd"/>
</g>
<g transform="translate(534.4,480)" clip-path="url(#c33)" stroke="#000" stroke-width="0.5" stroke-opacity="0.7">
<rect x="-2" y="-2" width="116.7" height="116.4" fill="#ff2008" stroke="none"/>
<path d="M17.5-1.1l.2-1.7 .1 1.7-.1 .6zM21.1-1.1l.4-1.2 1.9-.3 1.9 .6 1.8 .6 .7 .3 1 1.9-1.7 1.6-.1 .2-.7 1.9 .2 1.9-1.2 .7-1.9-.7-.1 0-1.8 .3-.7-.3-1.2-1-.8-.9-1.1-1.5-.5-.4 .5-.6 1.9 .3 1.3-1.5zM44.1-3l1.9 0 .5 1.9 0 1.9 1.4 1.7 1.9 .1 1.8-1.4 1.9 .4 1.9 .9 1.9-1.1 1.8 1.2 .1 .8 .1 1.1-.1 .2-1.9 1.4-1.9-.7-1.9-.1-1.9 .1-1.5-.9-.3-1.8-.8 1.8-1.1 .4-1.9 .4-1-.8 .1-1.9 .4-1.8-.1-1.9-1.3-1.8zM74.2-3l.1 0-.1 .1zM102.9-3l1.5 0 1.9 0 .4 0 .2 1.9 1.3 1.4 .7 .5 1.1 .7 1.1 1.1-.5 1.9 1.3 .8 1.9 1 .2 .1 1.7 .6 0 1.3 0 1.9 0 .9-.6-.9-1.3-.8-.9 .8-1 1.7-1.9-.2-1.1-1.5-.6-1.9 .9-1.9-1-1-1.1-.9-.8-.6-1.5-1.3 .7-1.8-.1-1.9-1-.9zM111.8-1.1l.1-.2 1.6-1.7 .3 0 1 0 .9 .4 0 1.5 0 1.9-1.3 1.8-.6 .4-.8-.4-1-1.8-.1-.4zM29.9 .8l1-.3 1.9 .3-1.9 .2zM33.4 2.6l1.3-1.5 1.9 .8 1.8 .7-.2 1.9-1.6 1.7-1.9-1.4-1.4 1.6-.5 .4-.6-.4 .2-1.9 .4-.5zM99.5 2.6l1.1-.6 .9 .6-.7 1.9-.2 0zM73.5 4.5l.7-1 1.9 .7 .2 .3 1.6 1.9 .1 .2 1.4 1.7-1.4 .7-1.9 .5-1.9 .4-1.5-1.6 0-1.9zM-2.6 6.4l1.5-.5 1.9 .2 .6 .3 .9 1.9-1.1 1.9-.4 .8-1.4 1-.5 .3-1.5-.3-.4-.3 0-1.5 0-1.9 0-1.6zM81.5 6.4l.3-.2 1.9 .2 1.9-.1 .1 .1-.1 .4-1.9-.3-1.9 .3zM93 6.4l.1-.1 .1 .1 .3 1.9-.4 1.1-.4-1.1zM28.4 8.3l.6-.9 .6 .9-.6 .2zM35.9 8.3l.7-1 1.9 .2 .9 .8-.9 1-1.9-.8zM43.2 8.3l.9-1 1.9 .7 .1 .3-.1 .2-.7 1.7-1.2 1.6-.5 .2 .5 .3 .8 1.6-.1 1.9-.7 1.4-.2 .5-.1 1.9-.7 1.8-.9 1.5-.3 .4 .3 .3 1.4 1.6 .2 1.9 .3 .1 1.9 .8 1.9 .1 .4 .8-.4 .4-1.9 1.2-.2 .3 .2 .3 .4 1.6-.4 .8-1.7 1.1-.2 .6-.7 1.3-1.2 .5-.7-.5 .3-1.9-1.5-1-1.8-.3-.4-.6-.3-1.9-.3-1.9 .3-1.8-1.2-1.8-.1-.1 .1-.4 .6-1.5 1.3-.2 1.8-.6 1.2-1.1-1-1.8 .3-1.9-.3-1.9 1.3-1.9-1-1.9-.5-.7-.7-1.1 .7-.7 1.9-.1zM53.4 12l.1-.1 1.9-.6 1.9 .6 1.9-.3 .8 .4 1.1 1.2 .7 .7 1.1 1.2 .5 .7 1.4 1.4 .3 .5 .2 1.9-.5 .9-.6 .9-.6 1.9-.4 1.9-.3 1.1-.7 .8-1.1 .5-1.9 .4-.6-.9-1.3-1-1.9-.2-1.1-.7-.3-1.9 0-1.9-.5-.7-.9-1.1 .9-1.8 .1-.1 .2-1.9-.3-.8-.2-1.1zM83.7 12l0-.3 1.9-.3 .6 .6 1.2 .2 1.9 .5 1.9 .3 1.2-1 .7-1.3 .9 1.3 1 1.6 .1 .3 .3 1.9 .5 1.9-.9 1.2-.3 .7-1.5 1.8-.1 .4-1.9-.3-1.3 1.8-.6 .6-1.9 .8-1.8 .3-1.5-1.7-.4-1.1-.9-.8 .9-.7 .8-1.1 1.1-1.3 .2-.6 0-1.9-.2-.6-1.3-1.3-.6-1.8zM77.7 13.9l.3-.5 .2 .5 .4 1.9-.6 .7-.6-.7zM73.6 15.8l.6-.3 .5 .3-.5 .8zM79.6 17.7l.3-.3 1.9-.1 .2 .4-.2 1.9-1.9-1.6zM-1.7 21.4l.6-.5 .5 .5-.5 1.2zM101.3 21.4l1.2-.6 1.9 0 .2 .6 0 1.9 1.7 .8 1.9 .4 1.4 .7 .4 .2 1.9 1.4 .3 .3 1.6 .7 .8 1.1 1.1 1.3 0 .6 0 1.9 0 1.9 0 1.4-.8 .5-1.1 1.2-1.9-.1-1.9 .7-1.8-.5-1.3 .5 1.3 1.1 1.6 .8-.3 1.9-.3 1.9 .8 1.3 1.3-1.3 .6-.5 1.3-1.4 .6-1.7 .1-.2 1.8-1.2 0 1.2 0 1.9 0 1.9 0 1.9 0 1.8 0 1.5-.3 .4-1.4 1.9 .4 1.9-.2 1.9-.4 .7-1.9 1.1-.2 0 .2 .1 1.9 1.3 .6 .5-.6 .8-1.9 1.1-.2 1.9-.1 1.9-.1 1.8 .4 .7 1.9-.1 1.6-.6 .3 0 0 1.9 0 1.9 0 1.9 0 1.9 0 1.8 0 1.9 0 1.9 0 .2-1.9-.1-.2-.1-1.7-.9-1.9 .8-1.8-1.4-.4-.4-1.5-1.7-1.2 1.7-.7 .5-1.9 .6-1.3 .8-.6 .1-.2-.1-1.7-1.7-1.8 .1-.7-.3 .7-.3 1.8 .1 1.4-1.7 .5-.8 .6-1 1.3-1.6 .4-.3 1.5-1.6 .5-.3 1.4-.4 1.1-1.5 .3-1.9-1.4-.9-1 .9-.9 .9-1.3-.9-.6-.9-1.6-.9-.3-.2-.5 .2-1.4 1.5-1.8-.6-1.9-.4-1.9 .2-.8 1.1 .8 .6 1.9 .4 1.4 .9 0 1.9-1.4 1.6-1.3 .3-.6 .1-.2-.1-1.7-1.4-.6-.5-1.3-1.1-.6-.8-.2-1.9 .8-1.8 0-.2 .8-1.7-.8-.8-.4-1.1 .4-1.9 1.9 .8 1.1-.8-.1-1.9 .9-1.3 1.9 1 .3 .3 1.6 .6 1.8 .3 .7 1 1.1 1.9 .1 .2 1.9 .4 1.2-.6 .7-.4 1.7-1.5 .2-.7 .2-1.2-.2-1.3-.1-.5 .1-.1 1.1-1.8 .3-1.9-1.4-.9-1.5-1-.4-1.3-.1-.6-.3-1.8-1.5-1.6-.4-.3-1.5-1.6-1.7-.3 1.7-.8 1.9-.4 1.9-.7 1.3-1.9 .6-1.6 0-.2 0-.2-.3-1.7-.5-1.9-1.1-1.5-.7-.4 .7-1.7 .1-.2-.1-.1-.7-1.7-.8-1.9-.4-.2-1.9-.4-1.9-.3-.5-1 .5-1 1.9-.1zM109.1 21.4l.9-1 1.9 0 .7 1-.5 1.9-.2 .2-1.9 .4-.1-.6zM-3 23.3l0-.5 1 .5 .7 1.9-.5 1.9-.5 1.8-.6 1.9-.1 .2 0-.2 0-1.9 0-1.8 0-1.9zM47.2 23.3l.7-1 .6 1-.6 .3zM77.8 23.3l.2-.5 1.4 .5 .5 .1 1.9 .4 .6 1.4 1.3 1.6 1.9-1.3 .9 1.6 .9 .9 .6 .9 0 1.9-.6 .7-.9 1.2 .9 1.8 .1 .1-.1 .1-.5 1.8-.6 1.8 1.1 1.2 .6 .7-.2 1.9-.4 .6-1-.6-.8-1.3-1.1-.6-.8-.1-1.6-1.8-.3-1.1-.2-.7 0-1.9 0-1.9-1.7-.4-1.9-.6-.9-.9 .4-1.9-.3-1.8-.6-1.9zM92.3 25.2l.8-1.1 1.9 1.1 0 .3-1.9 .4zM4.2 27.1l.3-.8 1.9 .7 1.6 .1 .3 0 1.4 1.8-1.4 1.3-1.2 .6-.6 1.9 .1 1.9 .7 1.9-.9 .8-1.1 1-.7 1.9 1.1 1.9 .7 1.1 1.7 .8-1.7 .9-.7 1-.3 1.8 .4 1.9 .6 1.1 1.9 0 1.5-1.1 .4-1.9-1.1-1.8-.7-1.9 1.8-.6 1.8 .6 .1 0 1.9 1.5 .3 .4-.3 .4-.8 1.4-.3 1.9 1.1 1 .8 .9 .8 1.9 .2 1.1 1.9-.4 1.2-.7 .7-.3 .4 .3 1.5 1.1 1 .8-.5 1.8 .9 1.9 .5 .5 1.9 .3 .7-.8 .3-1.9 .8-1.7 .2-.1 .1-1.9 1.6-1.9 1.9 1.8 .3 .1 1.6 .4 .4-.4 1.5-1.7 .9-.2 1-.3 .5 .3 1.4 .8 1.8-.4 .2-.4 .9-1.9 .8-1.1 1.9-.2 1.9-.1 1.5-.5 .4-.2 .5 .2 0 1.9-.1 1.9-.4 .4-.5 1.5-.3 1.9 .8 .5 1.9-.4 .2-.1 .6-1.9 1-1.1 1.9 .9 .2 .2 1.7 .7 1.2 1.2-1.2 1.8-1.1 1.9 1.1 .9 1.9-.5 1.3-.4 .6-.1 1.9-.4 .1 .5-.1 .5-.6 1.4 .6 .4 1.5 1.5 .3 .5 1.9 .7 1.6 .7-.8 1.8-.8 .5-1.9-.2-1.8 .6-1.9-.6-1.9 .2-1.5-.5 0-1.8-.4-.7-.6 .7-1.3 1.2-.4 .6-1.2 1.9-.3 .4-1.8 1.4-.6 .1-1.3 1.1-.5 .8 .5 .5 1.1 1.4 .8 1 .7 .8 1.1 .8 .7 1.1 1.1 1.9 .1 0 1.9 1.4 1.9-1.3 1.9 .3 1.9-.4 .2 0 1.6-.4 1.9-.4 .9 .8-.9 .9-1.7 1-.2 .2-1.5 1.7-.3 0-1.9 .6-1.9 .2-1.9-.6-1.9 .4-1.9 0-1.2 1.2-.6 .8-1.9 .3-1.9 .3-1.9-.7-1.9-.4-1.9 .1-1.8 .2-1.9-.2-1.9 .4-.7-.8-1.2-.6-1.9-1.2-1.9 1.2-1 .6 .4 1.9 .3 1.9 .3 .4 1.9 .3 1.9 0 1.9 .2 1.9 .9 .1 .1 1.1 1.8-.1 1.9-1.1 1.5-.5 .4-1.4 1.1-1-1.1-.9-1-.9-.9-1-.4-1 .4 .3 1.9 .7 .5 .7 1.4 1.2 1.7 .3 .2-.3 .5-.4 1.3-.7 1.9-.8 1.2-.7 .7 .6 1.9-1.1 1.9-.7 .4-1.9 .5-1.1-.9-.7-.6-1.9-1.2-.1-.1-1.4-1.9 .3-1.9-.4-1.9 .4-1.8-.7-.7-1.9-.2-1.1-1-.2-1.9 1.2-1.9-1.8-1.2-1.5 1.2-.4 .5-.3-.5-1.3-1.9 1.6-.4 1.9-1.4 0-.1 1.9-.8 1.9-.7 1.9-.2 .2-.1 1.4-1.9 .3-.8 .8-1.1 .9-1.8 .1-.4 .4-1.5-.4-1-.7-.9 .7-1.2 .2-.7 1.7-1.4 1.4-.5 .5-1.3 .1-.5-.1-1.8-1.9 .8-.3-.9 .3-1.3 1.9 1.2 1.9-.6 1.8-1.2 .1-.1 0 .1 .8 1.9 1.1 1.1 1.5 .8 .4 .4 1.8-.2 1.9 .8 1-1 .9-1.9 0-.3 .6-1.6-.4-1.9-.2-.4-.2-1.5-1.3-1.8-.4-.4-1.9-.4-1.8-.4-1.4-.7-.5-1-1.9-.1-1.9 .3-.8 .8-1.1 .9-1.9-.3-1.9 0-1.8 .5-1.5 .8-.4 .3-1.5-.3-.4-.1-1-1.8-.6-1.9-.3-.6-1.6-1.3-.3-.1-1.8-1.8-.1-.2-1.8-.2-1.9-.2-1.5-1.2-.4-.2-.5 .2-.9 1.8-.5 .6-1.2-.6-.7-.6-1.9 0-1.8-1.2 0-.1-.2 .1-1.7 1.2-.3 .6-1.6 .5-1.9 .5 0-1 0-1.8 0-1.9 0-1.9 0-1.9 0-1.9 0-1.8 0-1.9 0-1 .8-.9 1.1-1.3 1.1 1.3 .8 .6 1.9 .3 .4-.9 1.1-1.9-1.5-.2-1.9-.4-1.5-1.3 1.3-1.8 .2-.2 1.9-.5 1.8-1.2 1.6-1.9-.4-1.9-1.2-.9-.4-1zM30.9 56.4l-.9 .7-1 1.4-.4 .5 .4 .6 1.5 1.3 .4 .5 .5-.5 1.4-.5 1.7-1.4-.9-1.9-.8-.4zM32.8 77.7l-.1 .1 .1 .1 .1-.1zM34.7 80.9l-1.2 .7 1.2 .9 1.9-.3 1-.6-1-.4zM40.3 81.1l-.3 .5 .3 .2 1.2 1.7 .7 1.2 .4-1.2 .1-1.9-.5-1.4zM-1.1 47.9l-1 1.7 1 .5 .6-.5zM17.7 27.1l0-.1 .2 .1 1.7 .4 1.4 1.4-1.4 1.3-1.9-.2-.7-1.1zM24.7 27.1l.6-.7 .2 .7 1.3 1.8 .3 1.3 .3 .6-.3 .2-1.8 .1-1.9-.1-.6-.2-.6-1.9 1.2-.7zM53.2 28.9l.3-.4 .2 .4 1.7 1.9 1.7-1.9 .2-.3 .6 .3 .8 1.9 .5 1.7 1.1 .2-1.1 .5-1.4 1.4-.5 .4-.5 1.5-1.4 .4-1.9 .5-1.9-.4-1.8-.5-1.9 .2-.1-.2 .1-.4 .9-1.5 1-.2 1.8-1.6 .3-.1 1.3-1.9zM33.1 32.7l1.6-.8 .7 .8 0 1.9 1.2 1.1 1.9-.1 1.1 .9-1.1 1-1.9 .5-1.2 .3-.7 .1-1.9 1.1-.9-1.2 .9-.8 .6-1 .4-1.9zM65.9 32.7l.8-1.1 1.3 1.1-1.3 .7zM22.2 36.5l1.2-1.3 1.9 .3 1.8 .3 1.9 .4 .3 .3-.3 .5-1.9 1.1-.4 .2 .4 .3 1.7 1.6 .2 .1 .8-.1 1.1-.5 .8 .5 .9 1.9-.7 1.9-1 .9-.4 1-1.1 1.8-.4 .7-1.9 .7-1.8 0-1.9 0-1.4-1.4-.1-1.8-.4-.9-.9-1-.2-1.9 .2-1.9 .9-.9 .5-1zM60.4 38.3l.7-1.3 1.8 .9 1.9 .3 .2 .1 .7 1.9-.9 1.1-1.9-.9-.6-.2-1.2-.9zM75.5 42.1l.6-.7 .9 .7-.9 1.6zM51.1 44l.5-.6 1.9 .6 0 .1 1.9 1.3 .8 .5-.1 1.8 .1 1.9-.8 1.1-1.7-1.1 .7-1.9-.9-1.5-.8-.3-1.1-.7zM74.1 44l.1-.2 1.2 .2-1.2 .1zM98.4 44l.3-1.5 .1 1.5-.1 .1zM19.2 45.9l.4-.8 1 .8 .4 1.8-1.4 1.1-1.9-.5-.6-.6 .6-.4zM96.7 45.9l.2-.6 .1 .6-.1 .2zM80.7 51.5l1.1-.5 1.4 .5-.6 1.9-.8 1.1-1.7 .8-.1 1.8-.1 .1-.1-.1 .1-1.8-.5-1.9 .5-1.4zM85.2 51.5l.4 0 0 .2zM2.2 59l.5-1 1.8 .9 .1 .1-.1 0-1.8 .3zM64.5 59l.3-.5 1.9 .3 .4 .2 1.5 .5 1.9 .6 .8 .8-.8 1-1.1 .9-.6 1.9 1.7 .7 1.9-.6 .9 1.7 .7 1.9 .2 .6 1.9 .7 1.8 .6-1.8 1-.7 .9 .7 .9 1 1-.6 1.8 1.1 1.9 .4 .1 1.9 1.2 1.9 .2 .4 .4-.4 .4-1.3 1.5 1.3 1.4 1.9-.3 1 .8-.5 1.8-.5 .7-1.9 .2-1.9 .6-1.9-.4-1.1 .8-.8 .7-1.2 1.2-.7 .9-.9 1-.6 1.8-.3 .2-.3-.2-.8-1.8-.8-.7-.6-1.2-1.2-1.9 1.8-1.7 .3-.2-.3-.5-.8-1.3 0-1.9 .8-1.1 1.6 1.1-.7 1.9 1 .6 .2-.6 .5-1.9 .8-1.9-1.1-1.9-.4-.2-1.9-.2-1.5 .4-.4 .2-.3-.2-1.6-1.4-.1-.5-.9-1.8-.2-1.9 1.2-1.6 .3-.3 1.6-1.2 .6-.7-.5-1.9-.1-.8-1.5-1-.1-1.9-.3-.1-1.9-1-.3-.8zM6 60.9l.4-.6 .6 .6-.6 .4zM-3 62.8l0-.2 .1 .2 0 1.9-.1 .2 0-.2zM-2.9 68.4l1.8-1.6 1.3 1.6-1.3 1.7zM78.3 70.3l1.6-.1 1.8 .1-1.8 .8zM-3 72.2l0-1 1.1 1 .8 .1 1.9 .6 1 1.2 .8 1.8-1.8 .2-1.9 .3-.6 1.4 .6 1.6 .2 .3 1.7 1.8 0 .1 1.8 1.9 .1 .3 .3 1.5 1 1.9 .5 1.6 .1 .3 .4 1.9-.5 .4-1.8 .4-1.8 1 .1 1.9 1.7 1.8 .5 .1 1.3 1.2 .4 .7-.4 .3-1.8 .9-1.9 .5-1.6-1.7-.3-.6-.3 .6-1 1.9-.6 .2 0-.2 0-1.9 0-1.9 0-1.7 .1-.2 .8-1.9-.9-1.6 0-.2 0-1.9 0-1.9 0-1.9 0-1.8 0-1.9 0-1.9 0-1.9 0-1.9 0-1.8zM15.5 75.9l.3-.3 .5 .3 1.4 .8 1 1.1 .9 1.1 .6 .8 .7 1.9-.1 1.9-.9 1.8-.3 .4-1.9 .9-1 .6-.9 .6-.5-.6-.9-1.9 1.4-1.8 0-.2 1.5-1.7-1.5-1.6-.3-.3-.8-1.9zM58.9 75.9l.3-.2 .2 .2-.2 .6zM89.1 75.9l.2-1.8 .7 1.8 1.2 1.9 0 .1 .3 1.8-.3 .7-1.9-.3-1.9 .1-1.2-.5-.6-1.2-.4-.7 .4-.1 1.8-.7zM2.8 83.5l1.7-.8 1.9 .6 .3 .2-.3 .1-1.9 .4zM96.5 83.5l.4-.5 .2 .5-.2 .2zM93.5 85.3l1.5-.9 .6 .9 .8 1.9 .5 1 .4 .9-.4 .9-1.9 .2-1.9-.5-.7-.6 .6-1.9 .1-.6zM49.7 89.1l.1-.1 0 .1 .7 1.9-.7 1.2-.6 .6-.4 1.9 1 .6 .5 1.3 .4 1.9 .9 1.5 1.8-1.5 .1-.1 1.9-.2 1.9-.3 .7 .6-.7 .3-1.9-.2-1.2 1.8-.7 .3-1.9 .1-1.8 .2-1.9 1-1.9-.5-1.9-.4-.4-.7 .4-1.5 .7-.4 1.1-1.9 .1-.3 1.1-1.6-1.1-1.8-.1-.1 .1 0 1.8-1.8 .1-.1zM53.9 89.1l1.5-.5 .6 .5-.6 .4zM101.5 91l1-1.3 1.9 1.2 .7 .1-.7 .3-1.9 .9zM111.2 91l.7-1.7 .7 1.7-.5 1.8-.2 1.3-.1-1.3zM96.6 92.8l.3-.4 .2 .4 1.6 1.4 .5 .5-.5 .9-1.8-.5-1-.4zM107.9 94.7l.3-.3 .7 .3 1.1 .6 1.9 .4 .1 .9-.1 .1-1.9 1.3-.7 .5-1.1 .9-1-.9-.6-1.9zM82.8 96.6l.9-1.2 .9 1.2-.9 1.2zM99.5 96.6l1.1-.6 1.9 .5 .2 .1 .8 1.9 .9 .6 1.3 1.3 .6 .8 .9 1-.7 1.9 1.7 .7 1.8 .8 1.1 .4 .8 1.9 1.9 .8 1.6 1.1 0 1.8 .3 .9 0 1 0 1.4-.1 .5-1.8 0-1.9 0-1.9 0-1.8 0-.6 0-.9-1.9-.2-1.9-.2-.1-1.9-1.3-.6-.4-.9-1.9-.4-1.4-.2-.5 .2-.5 .7-1.4-.7-.6-1.3-1.3-.6-.9-1 .9-.9 .5-1.6 1.4 0 1.9-.2 .4-1.8 1.5 .3 1.9-.4 .4-1.9 .1-.6-.5 .6-.3 1.8-1.6 0-1.9 .1-.1 1.7-1.8 .1-1.9 .1-.1 1.3-1.7 .5-.6 1.6-1.3zM111.9 111l-1 .6 1 .6 .5-.6zM71.7 98.5l.7-1.2 1.8 .6 .6 .6-.6 1.2-.6 .7 .6 .7 1.9-.1 1.2-.6 .7-.5 .6 .5 .3 1.8-.3 1.9-.6 .7-1.9 .9-1.9-.7-1.4-.9 0-1.9-.4-.3-1.6-1.5zM.1 102.2l.7-1.3 1.2 1.3 .7 1.4 1.8-.6 1.9 .2 1.9-.4 1.9 .3 1.1 1 .8 1.9 .1 0 1.3 1.9 .5 .5 1.8 .4 1.7 1 .2 .5 1.1 1.3 .8 1.7 .5-1.7 1.4-.6 1.9 .5 .1 .1 1.8 1.5 .4 .4 1.4 1.9-1.8 0-1.9 0-1.9 0-1.9 0-1.9 0-1.9 0-.4 0-1.4-1.7-1.9 .6-1.9 .8-1.9-.9-1.9-.3-.7-.4-1.2-.4-.2 .4-.1 1.9-1.5 0-1.6 0-.3-.4-.5-1.5-.4-1.9-.4-1.8-.2-1.9 1.1-1.9 .4-1.4 1.1-.5-1.1-.4zM6.4 111.6l0 .3 .1-.3zM57.1 102.2l.2-.4 .2 .4-.2 1.8zM111.5 102.2l.4-.5 1.6 .5 .3 .5 .8-.5 1.1-.1 0 .1 0 1.9 0 .6-1.9-.4-1.9 .9-.4-1.1zM65.6 104.1l1.1-.7 1.8 .7-1.8 1.7-.3 .2-1.4 1.9-.2 .1-.3-.1-1.6-1-.5-.9 .5-.9 1.9 .1zM37.7 106l.8-.4 1.8 0 1.8 .4-.9 1.9 1 .5 1.9-.5 1.9 1.1 1.9 .1 1.9 0 1.5-1.2 .3-1.9 .9 1.9-.2 1.9 .1 1.8 .2 1.9 .9 1.3 1.5 .6-1.5 0-1.9 0-1.8 0-1.9 0-1.9 0-1.1 0 1.1-.9 1.1-1-1.1-1.6-1.9 1.1-1.9-.7-1.8-.7-.1-.2-.7-1.6-1.1-.6-.7 .6-.5 1.8 .2 1.9 .9 1.9-1.8 0-1.9 0-.7 0 0-1.9 .6-1.9-.3-1.8 .4-.3 1.6-1.6 .3-.4zM56.7 109.8l.6-.8 1.3 .8 .2 1.8-1.5 1.4-1-1.4zM91.2 111.6l.1 0 .3 1.9-.4 .5-.8-.5zM81.4 113.5l.4-.6 1.9 0 .2 .6 .4 1.9-.6 0-1.9 0-.5 0z" fill="#ff3010" fill-rule="evenodd"/>
</g>
<g font-size="10.2" fill="#3a3a3a">
<rect x="89.4" y="38.4" width="113" height="113.1" fill="none" stroke="#262626" stroke-width="0.5" stroke-opacity="0.4"/>
<text transform="translate(110.4,164.1) rotate(.05)" text-anchor="middle">0</text>
<text transform="translate(138.41,164.1) rotate(.05)" text-anchor="middle">20</text>
<text transform="translate(166.41,164.1) rotate(.05)" text-anchor="middle">40</text>
<text transform="translate(194.42,164.1) rotate(.05)" text-anchor="middle">60</text>
<text transform="translate(145.9,177.3) rotate(.05)" font-size="10.5" text-anchor="middle">X (mm)</text>
<text transform="translate(86.3,42.2) rotate(.05)" text-anchor="end">-40</text>
<text transform="translate(86.3,70.47) rotate(.05)" text-anchor="end">-20</text>
<text transform="translate(86.3,98.75) rotate(.05)" text-anchor="end">0</text>
<text transform="translate(86.3,127.02) rotate(.05)" text-anchor="end">20</text>
<text transform="translate(86.3,155.3) rotate(.05)" text-anchor="end">40</text>
<text transform="translate(68.1,94.95) rotate(-90)" font-size="10.5" text-anchor="middle">Y (mm)</text>
<rect x="238.1" y="40" width="112.7" height="113" fill="none" stroke="#262626" stroke-width="0.5" stroke-opacity="0.4"/>
<text transform="translate(259.05,165.6) rotate(.05)" text-anchor="middle">0</text>
<text transform="translate(286.98,165.6) rotate(.05)" text-anchor="middle">20</text>
<text transform="translate(314.91,165.6) rotate(.05)" text-anchor="middle">40</text>
<text transform="translate(342.84,165.6) rotate(.05)" text-anchor="middle">60</text>
<text transform="translate(294.45,178.8) rotate(.05)" font-size="10.5" text-anchor="middle">X (mm)</text>
<text transform="translate(235,43.8) rotate(.05)" text-anchor="end">-40</text>
<text transform="translate(235,72.05) rotate(.05)" text-anchor="end">-20</text>
<text transform="translate(235,100.3) rotate(.05)" text-anchor="end">0</text>
<text transform="translate(235,128.55) rotate(.05)" text-anchor="end">20</text>
<text transform="translate(235,156.8) rotate(.05)" text-anchor="end">40</text>
<text transform="translate(216.8,96.5) rotate(-90)" font-size="10.5" text-anchor="middle">Y (mm)</text>
<rect x="386.2" y="39.4" width="112.6" height="113.1" fill="none" stroke="#262626" stroke-width="0.5" stroke-opacity="0.4"/>
<text transform="translate(407.13,165.1) rotate(.05)" text-anchor="middle">0</text>
<text transform="translate(435.04,165.1) rotate(.05)" text-anchor="middle">20</text>
<text transform="translate(462.94,165.1) rotate(.05)" text-anchor="middle">40</text>
<text transform="translate(490.85,165.1) rotate(.05)" text-anchor="middle">60</text>
<text transform="translate(442.5,178.3) rotate(.05)" font-size="10.5" text-anchor="middle">X (mm)</text>
<text transform="translate(383.1,43.2) rotate(.05)" text-anchor="end">-40</text>
<text transform="translate(383.1,71.47) rotate(.05)" text-anchor="end">-20</text>
<text transform="translate(383.1,99.75) rotate(.05)" text-anchor="end">0</text>
<text transform="translate(383.1,128.03) rotate(.05)" text-anchor="end">20</text>
<text transform="translate(383.1,156.3) rotate(.05)" text-anchor="end">40</text>
<text transform="translate(364.9,95.95) rotate(-90)" font-size="10.5" text-anchor="middle">Y (mm)</text>
<rect x="537.3" y="40" width="113.1" height="113.1" fill="none" stroke="#262626" stroke-width="0.5" stroke-opacity="0.4"/>
<text transform="translate(558.32,165.7) rotate(.05)" text-anchor="middle">0</text>
<text transform="translate(586.35,165.7) rotate(.05)" text-anchor="middle">20</text>
<text transform="translate(614.38,165.7) rotate(.05)" text-anchor="middle">40</text>
<text transform="translate(642.41,165.7) rotate(.05)" text-anchor="middle">60</text>
<text transform="translate(593.85,178.9) rotate(.05)" font-size="10.5" text-anchor="middle">X (mm)</text>
<text transform="translate(534.2,43.8) rotate(.05)" text-anchor="end">-40</text>
<text transform="translate(534.2,72.08) rotate(.05)" text-anchor="end">-20</text>
<text transform="translate(534.2,100.35) rotate(.05)" text-anchor="end">0</text>
<text transform="translate(534.2,128.62) rotate(.05)" text-anchor="end">20</text>
<text transform="translate(534.2,156.9) rotate(.05)" text-anchor="end">40</text>
<text transform="translate(516,96.55) rotate(-90)" font-size="10.5" text-anchor="middle">Y (mm)</text>
<rect x="89.2" y="186" width="113.1" height="113" fill="none" stroke="#262626" stroke-width="0.5" stroke-opacity="0.4"/>
<text transform="translate(110.22,311.6) rotate(.05)" text-anchor="middle">0</text>
<text transform="translate(138.25,311.6) rotate(.05)" text-anchor="middle">20</text>
<text transform="translate(166.28,311.6) rotate(.05)" text-anchor="middle">40</text>
<text transform="translate(194.31,311.6) rotate(.05)" text-anchor="middle">60</text>
<text transform="translate(145.75,324.8) rotate(.05)" font-size="10.5" text-anchor="middle">X (mm)</text>
<text transform="translate(86.1,189.8) rotate(.05)" text-anchor="end">-40</text>
<text transform="translate(86.1,218.05) rotate(.05)" text-anchor="end">-20</text>
<text transform="translate(86.1,246.3) rotate(.05)" text-anchor="end">0</text>
<text transform="translate(86.1,274.55) rotate(.05)" text-anchor="end">20</text>
<text transform="translate(86.1,302.8) rotate(.05)" text-anchor="end">40</text>
<text transform="translate(67.9,242.5) rotate(-90)" font-size="10.5" text-anchor="middle">Y (mm)</text>
<rect x="238" y="186" width="113.4" height="112.8" fill="none" stroke="#262626" stroke-width="0.5" stroke-opacity="0.4"/>
<text transform="translate(259.08,311.4) rotate(.05)" text-anchor="middle">0</text>
<text transform="translate(287.18,311.4) rotate(.05)" text-anchor="middle">20</text>
<text transform="translate(315.29,311.4) rotate(.05)" text-anchor="middle">40</text>
<text transform="translate(343.39,311.4) rotate(.05)" text-anchor="middle">60</text>
<text transform="translate(294.7,324.6) rotate(.05)" font-size="10.5" text-anchor="middle">X (mm)</text>
<text transform="translate(234.9,189.8) rotate(.05)" text-anchor="end">-40</text>
<text transform="translate(234.9,218) rotate(.05)" text-anchor="end">-20</text>
<text transform="translate(234.9,246.2) rotate(.05)" text-anchor="end">0</text>
<text transform="translate(234.9,274.4) rotate(.05)" text-anchor="end">20</text>
<text transform="translate(234.9,302.6) rotate(.05)" text-anchor="end">40</text>
<text transform="translate(216.7,242.4) rotate(-90)" font-size="10.5" text-anchor="middle">Y (mm)</text>
<rect x="386.4" y="185.1" width="112.7" height="112.7" fill="none" stroke="#262626" stroke-width="0.5" stroke-opacity="0.4"/>
<text transform="translate(407.35,310.4) rotate(.05)" text-anchor="middle">0</text>
<text transform="translate(435.28,310.4) rotate(.05)" text-anchor="middle">20</text>
<text transform="translate(463.21,310.4) rotate(.05)" text-anchor="middle">40</text>
<text transform="translate(491.14,310.4) rotate(.05)" text-anchor="middle">60</text>
<text transform="translate(442.75,323.6) rotate(.05)" font-size="10.5" text-anchor="middle">X (mm)</text>
<text transform="translate(383.3,188.9) rotate(.05)" text-anchor="end">-40</text>
<text transform="translate(383.3,217.08) rotate(.05)" text-anchor="end">-20</text>
<text transform="translate(383.3,245.25) rotate(.05)" text-anchor="end">0</text>
<text transform="translate(383.3,273.43) rotate(.05)" text-anchor="end">20</text>
<text transform="translate(383.3,301.6) rotate(.05)" text-anchor="end">40</text>
<text transform="translate(365.1,241.45) rotate(-90)" font-size="10.5" text-anchor="middle">Y (mm)</text>
<rect x="536.8" y="186.1" width="112.6" height="112.9" fill="none" stroke="#262626" stroke-width="0.5" stroke-opacity="0.4"/>
<text transform="translate(557.73,311.6) rotate(.05)" text-anchor="middle">0</text>
<text transform="translate(585.64,311.6) rotate(.05)" text-anchor="middle">20</text>
<text transform="translate(613.54,311.6) rotate(.05)" text-anchor="middle">40</text>
<text transform="translate(641.45,311.6) rotate(.05)" text-anchor="middle">60</text>
<text transform="translate(593.1,324.8) rotate(.05)" font-size="10.5" text-anchor="middle">X (mm)</text>
<text transform="translate(533.7,189.9) rotate(.05)" text-anchor="end">-40</text>
<text transform="translate(533.7,218.12) rotate(.05)" text-anchor="end">-20</text>
<text transform="translate(533.7,246.35) rotate(.05)" text-anchor="end">0</text>
<text transform="translate(533.7,274.57) rotate(.05)" text-anchor="end">20</text>
<text transform="translate(533.7,302.8) rotate(.05)" text-anchor="end">40</text>
<text transform="translate(515.5,242.55) rotate(-90)" font-size="10.5" text-anchor="middle">Y (mm)</text>
<rect x="88.6" y="332" width="112.8" height="112.8" fill="none" stroke="#262626" stroke-width="0.5" stroke-opacity="0.4"/>
<text transform="translate(109.57,457.4) rotate(.05)" text-anchor="middle">0</text>
<text transform="translate(137.52,457.4) rotate(.05)" text-anchor="middle">20</text>
<text transform="translate(165.48,457.4) rotate(.05)" text-anchor="middle">40</text>
<text transform="translate(193.43,457.4) rotate(.05)" text-anchor="middle">60</text>
<text transform="translate(145,470.6) rotate(.05)" font-size="10.5" text-anchor="middle">X (mm)</text>
<text transform="translate(85.5,335.8) rotate(.05)" text-anchor="end">-40</text>
<text transform="translate(85.5,364) rotate(.05)" text-anchor="end">-20</text>
<text transform="translate(85.5,392.2) rotate(.05)" text-anchor="end">0</text>
<text transform="translate(85.5,420.4) rotate(.05)" text-anchor="end">20</text>
<text transform="translate(85.5,448.6) rotate(.05)" text-anchor="end">40</text>
<text transform="translate(67.3,388.4) rotate(-90)" font-size="10.5" text-anchor="middle">Y (mm)</text>
<rect x="236" y="331" width="113" height="113" fill="none" stroke="#262626" stroke-width="0.5" stroke-opacity="0.4"/>
<text transform="translate(257,456.6) rotate(.05)" text-anchor="middle">0</text>
<text transform="translate(285.01,456.6) rotate(.05)" text-anchor="middle">20</text>
<text transform="translate(313.01,456.6) rotate(.05)" text-anchor="middle">40</text>
<text transform="translate(341.02,456.6) rotate(.05)" text-anchor="middle">60</text>
<text transform="translate(292.5,469.8) rotate(.05)" font-size="10.5" text-anchor="middle">X (mm)</text>
<text transform="translate(232.9,334.8) rotate(.05)" text-anchor="end">-40</text>
<text transform="translate(232.9,363.05) rotate(.05)" text-anchor="end">-20</text>
<text transform="translate(232.9,391.3) rotate(.05)" text-anchor="end">0</text>
<text transform="translate(232.9,419.55) rotate(.05)" text-anchor="end">20</text>
<text transform="translate(232.9,447.8) rotate(.05)" text-anchor="end">40</text>
<text transform="translate(214.7,387.5) rotate(-90)" font-size="10.5" text-anchor="middle">Y (mm)</text>
<rect x="385" y="331" width="113" height="112.8" fill="none" stroke="#262626" stroke-width="0.5" stroke-opacity="0.4"/>
<text transform="translate(406,456.4) rotate(.05)" text-anchor="middle">0</text>
<text transform="translate(434.01,456.4) rotate(.05)" text-anchor="middle">20</text>
<text transform="translate(462.01,456.4) rotate(.05)" text-anchor="middle">40</text>
<text transform="translate(490.02,456.4) rotate(.05)" text-anchor="middle">60</text>
<text transform="translate(441.5,469.6) rotate(.05)" font-size="10.5" text-anchor="middle">X (mm)</text>
<text transform="translate(381.9,334.8) rotate(.05)" text-anchor="end">-40</text>
<text transform="translate(381.9,363) rotate(.05)" text-anchor="end">-20</text>
<text transform="translate(381.9,391.2) rotate(.05)" text-anchor="end">0</text>
<text transform="translate(381.9,419.4) rotate(.05)" text-anchor="end">20</text>
<text transform="translate(381.9,447.6) rotate(.05)" text-anchor="end">40</text>
<text transform="translate(363.7,387.4) rotate(-90)" font-size="10.5" text-anchor="middle">Y (mm)</text>
<rect x="536.4" y="332.8" width="112.8" height="112.8" fill="none" stroke="#262626" stroke-width="0.5" stroke-opacity="0.4"/>
<text transform="translate(557.37,458.2) rotate(.05)" text-anchor="middle">0</text>
<text transform="translate(585.32,458.2) rotate(.05)" text-anchor="middle">20</text>
<text transform="translate(613.28,458.2) rotate(.05)" text-anchor="middle">40</text>
<text transform="translate(641.23,458.2) rotate(.05)" text-anchor="middle">60</text>
<text transform="translate(592.8,471.4) rotate(.05)" font-size="10.5" text-anchor="middle">X (mm)</text>
<text transform="translate(533.3,336.6) rotate(.05)" text-anchor="end">-40</text>
<text transform="translate(533.3,364.8) rotate(.05)" text-anchor="end">-20</text>
<text transform="translate(533.3,393) rotate(.05)" text-anchor="end">0</text>
<text transform="translate(533.3,421.2) rotate(.05)" text-anchor="end">20</text>
<text transform="translate(533.3,449.4) rotate(.05)" text-anchor="end">40</text>
<text transform="translate(515.1,389.2) rotate(-90)" font-size="10.5" text-anchor="middle">Y (mm)</text>
<rect x="88.2" y="480.4" width="112.8" height="112.6" fill="none" stroke="#262626" stroke-width="0.5" stroke-opacity="0.4"/>
<text transform="translate(109.17,605.6) rotate(.05)" text-anchor="middle">0</text>
<text transform="translate(137.12,605.6) rotate(.05)" text-anchor="middle">20</text>
<text transform="translate(165.08,605.6) rotate(.05)" text-anchor="middle">40</text>
<text transform="translate(193.03,605.6) rotate(.05)" text-anchor="middle">60</text>
<text transform="translate(144.6,618.8) rotate(.05)" font-size="10.5" text-anchor="middle">X (mm)</text>
<text transform="translate(85.1,484.2) rotate(.05)" text-anchor="end">-40</text>
<text transform="translate(85.1,512.35) rotate(.05)" text-anchor="end">-20</text>
<text transform="translate(85.1,540.5) rotate(.05)" text-anchor="end">0</text>
<text transform="translate(85.1,568.65) rotate(.05)" text-anchor="end">20</text>
<text transform="translate(85.1,596.8) rotate(.05)" text-anchor="end">40</text>
<text transform="translate(66.9,536.7) rotate(-90)" font-size="10.5" text-anchor="middle">Y (mm)</text>
<rect x="233" y="480" width="113.4" height="112.6" fill="none" stroke="#262626" stroke-width="0.5" stroke-opacity="0.4"/>
<text transform="translate(254.08,605.2) rotate(.05)" text-anchor="middle">0</text>
<text transform="translate(282.18,605.2) rotate(.05)" text-anchor="middle">20</text>
<text transform="translate(310.29,605.2) rotate(.05)" text-anchor="middle">40</text>
<text transform="translate(338.39,605.2) rotate(.05)" text-anchor="middle">60</text>
<text transform="translate(289.7,618.4) rotate(.05)" font-size="10.5" text-anchor="middle">X (mm)</text>
<text transform="translate(229.9,483.8) rotate(.05)" text-anchor="end">-40</text>
<text transform="translate(229.9,511.95) rotate(.05)" text-anchor="end">-20</text>
<text transform="translate(229.9,540.1) rotate(.05)" text-anchor="end">0</text>
<text transform="translate(229.9,568.25) rotate(.05)" text-anchor="end">20</text>
<text transform="translate(229.9,596.4) rotate(.05)" text-anchor="end">40</text>
<text transform="translate(211.7,536.3) rotate(-90)" font-size="10.5" text-anchor="middle">Y (mm)</text>
<rect x="383.6" y="478.6" width="113" height="113" fill="none" stroke="#262626" stroke-width="0.5" stroke-opacity="0.4"/>
<text transform="translate(404.6,604.2) rotate(.05)" text-anchor="middle">0</text>
<text transform="translate(432.61,604.2) rotate(.05)" text-anchor="middle">20</text>
<text transform="translate(460.61,604.2) rotate(.05)" text-anchor="middle">40</text>
<text transform="translate(488.62,604.2) rotate(.05)" text-anchor="middle">60</text>
<text transform="translate(440.1,617.4) rotate(.05)" font-size="10.5" text-anchor="middle">X (mm)</text>
<text transform="translate(380.5,482.4) rotate(.05)" text-anchor="end">-40</text>
<text transform="translate(380.5,510.65) rotate(.05)" text-anchor="end">-20</text>
<text transform="translate(380.5,538.9) rotate(.05)" text-anchor="end">0</text>
<text transform="translate(380.5,567.15) rotate(.05)" text-anchor="end">20</text>
<text transform="translate(380.5,595.4) rotate(.05)" text-anchor="end">40</text>
<text transform="translate(362.3,535.1) rotate(-90)" font-size="10.5" text-anchor="middle">Y (mm)</text>
<rect x="534.4" y="480" width="112.7" height="112.4" fill="none" stroke="#262626" stroke-width="0.5" stroke-opacity="0.4"/>
<text transform="translate(555.35,605) rotate(.05)" text-anchor="middle">0</text>
<text transform="translate(583.28,605) rotate(.05)" text-anchor="middle">20</text>
<text transform="translate(611.21,605) rotate(.05)" text-anchor="middle">40</text>
<text transform="translate(639.14,605) rotate(.05)" text-anchor="middle">60</text>
<text transform="translate(590.75,618.2) rotate(.05)" font-size="10.5" text-anchor="middle">X (mm)</text>
<text transform="translate(531.3,483.8) rotate(.05)" text-anchor="end">-40</text>
<text transform="translate(531.3,511.9) rotate(.05)" text-anchor="end">-20</text>
<text transform="translate(531.3,540) rotate(.05)" text-anchor="end">0</text>
<text transform="translate(531.3,568.1) rotate(.05)" text-anchor="end">20</text>
<text transform="translate(531.3,596.2) rotate(.05)" text-anchor="end">40</text>
<text transform="translate(513.1,536.2) rotate(-90)" font-size="10.5" text-anchor="middle">Y (mm)</text>
</g>
<g font-size="8.8" fill="#3a3a3a">
<rect x="654" y="40" width="8" height="113.1" fill="url(#jet)" stroke="#262626" stroke-width="0.5" stroke-opacity="0.7"/>
<text transform="translate(664.8,43.6) rotate(.05)">0.8</text>
<path d="M654,40h1.2M662,40h-1.2" stroke="#262626" stroke-width="0.5" stroke-opacity="0.7"/>
<text transform="translate(664.8,71.88) rotate(.05)">0.4</text>
<path d="M654,68.28h1.2M662,68.28h-1.2" stroke="#262626" stroke-width="0.5" stroke-opacity="0.7"/>
<text transform="translate(664.8,100.15) rotate(.05)">0</text>
<path d="M654,96.55h1.2M662,96.55h-1.2" stroke="#262626" stroke-width="0.5" stroke-opacity="0.7"/>
<text transform="translate(664.8,128.42) rotate(.05)">-0.4</text>
<path d="M654,124.82h1.2M662,124.82h-1.2" stroke="#262626" stroke-width="0.5" stroke-opacity="0.7"/>
<text transform="translate(664.8,156.7) rotate(.05)">-0.8</text>
<path d="M654,153.1h1.2M662,153.1h-1.2" stroke="#262626" stroke-width="0.5" stroke-opacity="0.7"/>
<rect x="653.6" y="186.1" width="8" height="112.9" fill="url(#jet)" stroke="#262626" stroke-width="0.5" stroke-opacity="0.7"/>
<text transform="translate(664.4,189.7) rotate(.05)">0.8</text>
<path d="M653.6,186.1h1.2M661.6,186.1h-1.2" stroke="#262626" stroke-width="0.5" stroke-opacity="0.7"/>
<text transform="translate(664.4,217.92) rotate(.05)">0.4</text>
<path d="M653.6,214.32h1.2M661.6,214.32h-1.2" stroke="#262626" stroke-width="0.5" stroke-opacity="0.7"/>
<text transform="translate(664.4,246.15) rotate(.05)">0</text>
<path d="M653.6,242.55h1.2M661.6,242.55h-1.2" stroke="#262626" stroke-width="0.5" stroke-opacity="0.7"/>
<text transform="translate(664.4,274.38) rotate(.05)">-0.4</text>
<path d="M653.6,270.77h1.2M661.6,270.77h-1.2" stroke="#262626" stroke-width="0.5" stroke-opacity="0.7"/>
<text transform="translate(664.4,302.6) rotate(.05)">-0.8</text>
<path d="M653.6,299h1.2M661.6,299h-1.2" stroke="#262626" stroke-width="0.5" stroke-opacity="0.7"/>
<rect x="653.6" y="332.8" width="8" height="112.8" fill="url(#jet)" stroke="#262626" stroke-width="0.5" stroke-opacity="0.7"/>
<text transform="translate(664.4,336.4) rotate(.05)">1</text>
<path d="M653.6,332.8h1.2M661.6,332.8h-1.2" stroke="#262626" stroke-width="0.5" stroke-opacity="0.7"/>
<text transform="translate(664.4,358.96) rotate(.05)">0.8</text>
<path d="M653.6,355.36h1.2M661.6,355.36h-1.2" stroke="#262626" stroke-width="0.5" stroke-opacity="0.7"/>
<text transform="translate(664.4,381.52) rotate(.05)">0.6</text>
<path d="M653.6,377.92h1.2M661.6,377.92h-1.2" stroke="#262626" stroke-width="0.5" stroke-opacity="0.7"/>
<text transform="translate(664.4,404.08) rotate(.05)">0.4</text>
<path d="M653.6,400.48h1.2M661.6,400.48h-1.2" stroke="#262626" stroke-width="0.5" stroke-opacity="0.7"/>
<text transform="translate(664.4,426.64) rotate(.05)">0.2</text>
<path d="M653.6,423.04h1.2M661.6,423.04h-1.2" stroke="#262626" stroke-width="0.5" stroke-opacity="0.7"/>
<text transform="translate(664.4,449.2) rotate(.05)">0</text>
<path d="M653.6,445.6h1.2M661.6,445.6h-1.2" stroke="#262626" stroke-width="0.5" stroke-opacity="0.7"/>
<rect x="651.1" y="480" width="7.8" height="112.4" fill="url(#jet)" stroke="#262626" stroke-width="0.5" stroke-opacity="0.7"/>
<text transform="translate(661.7,483.6) rotate(.05)">12</text>
<path d="M651.1,480h1.2M658.9,480h-1.2" stroke="#262626" stroke-width="0.5" stroke-opacity="0.7"/>
<text transform="translate(661.7,502.33) rotate(.05)">10</text>
<path d="M651.1,498.73h1.2M658.9,498.73h-1.2" stroke="#262626" stroke-width="0.5" stroke-opacity="0.7"/>
<text transform="translate(661.7,521.07) rotate(.05)">8</text>
<path d="M651.1,517.47h1.2M658.9,517.47h-1.2" stroke="#262626" stroke-width="0.5" stroke-opacity="0.7"/>
<text transform="translate(661.7,539.8) rotate(.05)">6</text>
<path d="M651.1,536.2h1.2M658.9,536.2h-1.2" stroke="#262626" stroke-width="0.5" stroke-opacity="0.7"/>
<text transform="translate(661.7,558.53) rotate(.05)">4</text>
<path d="M651.1,554.93h1.2M658.9,554.93h-1.2" stroke="#262626" stroke-width="0.5" stroke-opacity="0.7"/>
<text transform="translate(661.7,577.27) rotate(.05)">2</text>
<path d="M651.1,573.67h1.2M658.9,573.67h-1.2" stroke="#262626" stroke-width="0.5" stroke-opacity="0.7"/>
<text transform="translate(661.7,596) rotate(.05)">0</text>
<path d="M651.1,592.4h1.2M658.9,592.4h-1.2" stroke="#262626" stroke-width="0.5" stroke-opacity="0.7"/>
</g>
<rect x="57" y="0" width="628" height="1.75" fill="#929292"/>
<rect x="683" y="1" width="2" height="621" fill="#929292"/>
<rect x="1" y="620.3" width="683.4" height="1.7" fill="#949494"/>
<rect x="0" y="32" width="1" height="590" fill="#cccccc"/>
<rect x="1" y="32" width="1" height="590" fill="#777777"/>
<rect x="57" y="0" width="1" height="621" fill="#4d4d4d"/>
<rect x="1" y="32" width="683" height="1" fill="#4d4d4d"/>
<rect x="1" y="474" width="683" height="1" fill="#4d4d4d"/>
<rect x="1" y="180" width="683" height="1.8" fill="#909090"/>
<rect x="1" y="326" width="683" height="1.8" fill="#909090"/>
<text x="145.2" y="23.2" font-size="13.6" text-anchor="middle" fill="#000"><tspan font-style="italic">t</tspan>=1min</text>
<text x="290.1" y="23.2" font-size="13.6" text-anchor="middle" fill="#000"><tspan font-style="italic">t</tspan>=10min</text>
<text x="439.2" y="23.2" font-size="13.6" text-anchor="middle" fill="#000"><tspan font-style="italic">t</tspan>=20min</text>
<text x="594.4" y="23.2" font-size="13.6" text-anchor="middle" fill="#000"><tspan font-style="italic">t</tspan>=30min</text>
<text x="27.3" y="106.6" font-size="15.4" font-weight="bold" text-anchor="middle" fill="#000">U</text>
<text x="26.9" y="256" font-size="15.4" font-weight="bold" text-anchor="middle" fill="#000">V</text>
<text x="30.5" y="410" font-size="15.4" font-weight="bold" text-anchor="middle" fill="#000">Radial</text>
<text x="26.7" y="546.6" font-size="15.4" font-weight="bold" text-anchor="middle" fill="#000">W</text>
</svg>
</body></html>
